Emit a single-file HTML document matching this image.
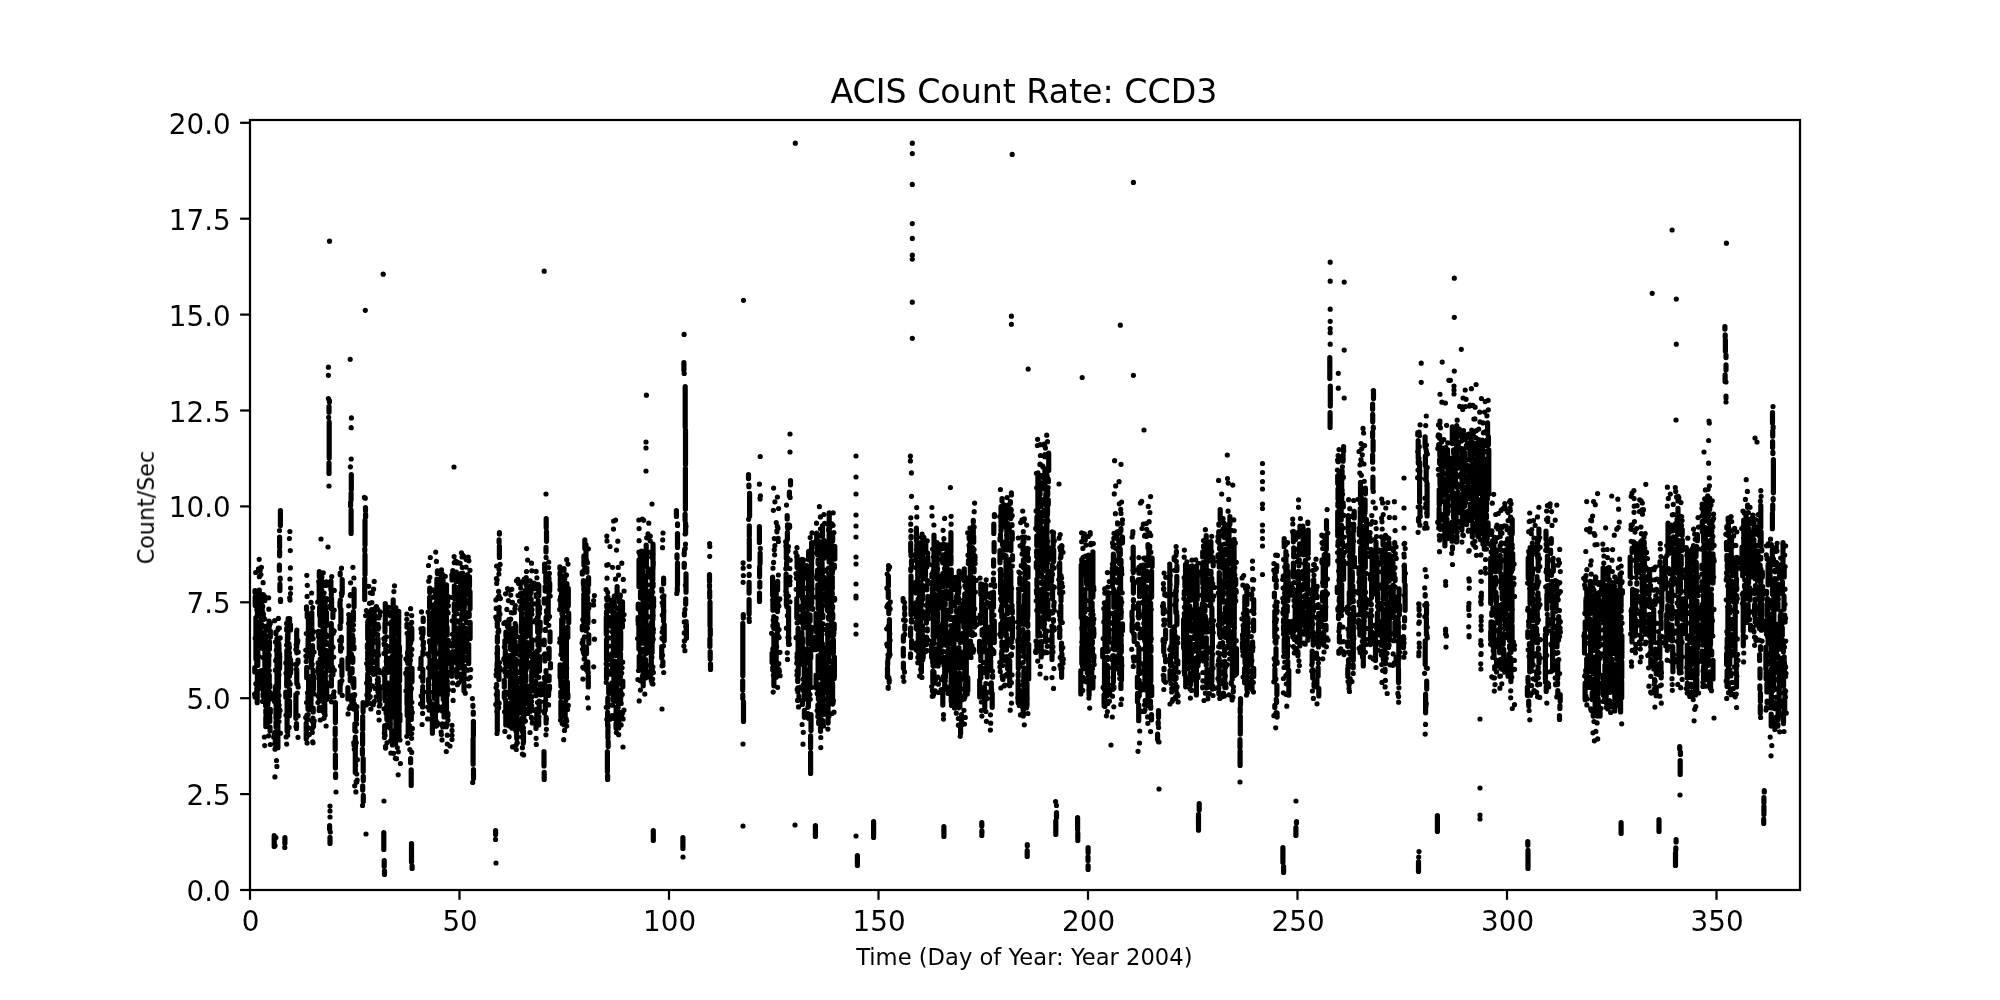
<!DOCTYPE html>
<html><head><meta charset="utf-8"><title>ACIS Count Rate: CCD3</title>
<style>html,body{margin:0;padding:0;background:#fff;width:2000px;height:1000px;overflow:hidden}
svg{display:block} text{font-family:"DejaVu Sans","Liberation Sans",sans-serif;fill:#000} .t{opacity:0.999;will-change:opacity}</style></head>
<body><svg width="2000" height="1000" viewBox="0 0 2000 1000">
<rect width="2000" height="1000" fill="#fff"/>
<path d="M255.0 590.7V592.6M255.2 596.8V605.5M257.4 610.2V614.8M255.9 617.7V658.3M256.7 662.8V664.5M254.8 667.7V672.1M257.4 676.0V690.6M259.3 590.1V611.7M258.3 614.9V616.0M259.2 622.0V631.1M259.1 634.5V642.3M257.8 648.1V665.4M259.4 671.4V674.0M258.8 678.7V680.8M257.2 685.4V702.7M262.2 605.4V610.5M263.3 613.3V619.5M262.2 625.1V627.2M263.6 632.5V635.1M262.2 638.1V648.3M264.9 652.8V668.4M263.2 674.5V682.9M262.6 688.1V689.4M263.1 693.9V696.2M265.7 626.3V627.6M265.3 635.4V641.9M264.9 646.1V670.7M265.5 676.3V681.4M265.3 687.8V700.1M265.6 703.3V705.7M265.8 710.4V713.0M265.8 717.3V726.6M269.1 621.1V627.3M270.3 630.8V637.1M269.4 641.6V649.3M268.7 654.0V666.0M269.2 675.2V681.4M269.7 684.3V686.9M270.5 693.1V696.3M268.0 701.9V703.9M270.3 709.3V712.7M269.8 717.1V721.4M270.0 727.0V730.8M275.9 632.1V633.8M277.0 639.3V683.9M275.4 686.8V692.0M274.6 695.3V697.9M275.9 701.4V704.4M276.0 708.0V718.0M276.0 721.9V727.1M275.2 732.0V738.1M275.2 741.6V743.6M275.8 746.3V747.8M278.9 643.3V650.9M279.6 653.9V668.4M278.5 671.0V688.3M278.1 694.5V698.9M277.7 702.2V706.5M279.0 709.6V716.4M277.6 721.1V722.5M277.9 725.6V747.7M286.7 628.4V630.2M287.5 634.5V645.9M286.9 650.4V670.7M286.7 673.7V685.9M285.8 692.1V697.3M287.1 701.2V731.2M288.1 618.6V621.9M290.5 624.8V629.9M288.0 633.2V638.7M288.9 643.5V649.3M289.1 653.3V656.7M290.6 659.9V673.1M288.0 679.1V684.0M289.5 689.5V696.0M289.5 701.1V714.9M296.7 631.3V647.0M296.8 650.9V652.8M298.0 660.1V662.4M296.8 669.7V683.5M295.9 694.7V718.3M296.5 723.5V728.4M306.5 607.5V609.5M307.2 613.4V617.1M308.4 619.7V636.0M308.1 638.8V647.6M308.6 651.0V656.8M306.7 667.4V677.7M308.6 680.7V690.0M308.0 696.4V709.3M307.0 715.2V719.5M306.2 723.4V738.9M311.8 612.6V639.2M312.5 645.5V653.7M311.4 656.3V660.6M311.4 663.2V667.2M313.1 670.1V673.2M313.4 676.5V689.2M311.0 691.8V704.9M313.2 708.1V712.0M312.9 718.0V719.0M313.5 721.8V726.5M319.3 571.5V576.7M319.2 584.8V602.2M319.6 607.2V614.7M320.3 618.9V625.2M318.5 631.4V636.6M319.2 640.7V648.3M320.5 652.3V654.1M320.1 660.4V663.3M318.3 667.3V668.6M318.7 672.7V674.3M319.4 677.1V700.9M323.1 594.6V614.6M323.0 619.7V633.6M323.0 636.9V654.3M321.7 660.2V662.0M321.5 665.9V687.1M324.2 690.3V699.0M326.7 598.5V600.3M325.1 603.2V608.6M326.5 612.4V625.6M324.8 628.2V631.2M326.2 634.7V636.9M326.8 642.5V644.3M326.6 650.7V667.5M325.3 672.1V679.3M326.7 682.7V699.4M324.8 703.5V713.9M330.9 581.0V589.8M331.3 593.7V595.4M331.6 598.5V609.1M332.9 613.0V617.5M331.3 623.7V664.6M332.6 667.4V669.3M332.9 673.2V674.8M331.4 678.2V686.0M340.2 573.1V574.8M342.2 579.5V593.5M340.0 602.3V606.6M340.9 609.4V622.3M340.2 625.9V628.5M341.3 637.1V641.5M340.6 645.3V651.1M341.9 659.9V675.6M340.1 681.9V692.2M349.2 618.1V619.6M349.2 626.5V654.8M348.0 657.9V668.9M350.0 673.3V674.8M350.2 678.4V680.7M347.9 687.6V699.0M354.1 589.2V606.7M353.4 611.6V620.2M352.0 622.8V627.1M353.2 638.7V642.2M354.0 646.7V648.7M352.8 657.4V662.3M352.1 668.6V672.8M353.8 678.5V687.6M356.4 711.0V719.5M354.9 723.9V730.7M355.3 737.1V772.6M367.7 622.0V638.8M367.4 644.5V647.9M367.7 651.9V656.2M367.8 663.5V667.5M367.7 673.9V700.4M371.2 612.5V623.8M369.8 630.1V635.9M368.7 641.0V643.8M370.3 649.6V672.5M369.5 678.3V690.1M374.2 609.4V633.2M372.0 640.7V648.0M372.9 650.6V655.2M372.1 660.2V663.1M373.6 668.5V674.3M378.0 624.3V629.2M378.0 638.5V647.3M377.8 650.1V653.7M377.1 659.1V672.2M378.2 678.0V679.2M379.3 689.2V700.6M385.3 603.5V620.5M385.0 623.2V631.8M385.0 637.6V640.1M385.8 645.0V652.7M386.6 657.5V664.6M384.8 668.7V699.0M386.9 705.2V719.5M384.7 725.5V734.4M385.6 746.3V748.1M391.7 621.5V651.3M391.1 657.7V672.5M392.0 676.9V684.8M390.6 689.8V706.1M390.2 709.7V727.9M391.8 730.8V741.0M393.2 599.9V607.3M395.6 610.2V625.3M394.3 630.4V632.0M393.4 636.5V674.1M393.6 682.5V695.1M393.6 698.0V703.2M394.4 707.5V717.3M395.9 720.4V736.5M397.7 646.8V671.1M396.1 674.2V708.0M396.1 714.3V731.1M396.0 733.8V740.3M398.7 611.3V642.0M399.4 646.5V652.3M399.6 658.1V681.0M399.2 685.4V710.4M399.9 714.1V721.0M399.0 724.4V738.8M408.3 633.2V648.5M407.8 651.3V663.3M407.1 668.8V690.1M407.0 695.2V704.5M407.2 707.6V715.8M408.2 719.7V733.5M411.8 628.4V639.4M409.7 644.5V664.0M412.0 668.3V681.7M410.0 684.5V686.9M410.5 690.4V701.4M411.3 707.6V719.4M409.4 725.5V731.9M423.2 618.1V621.5M423.0 628.6V634.1M423.4 641.8V643.8M421.0 658.1V666.7M422.8 669.3V681.2M422.6 689.3V707.0M429.7 588.1V592.6M429.6 597.3V607.5M429.4 613.9V616.5M429.5 619.3V634.6M429.5 640.9V642.2M430.6 645.7V651.5M429.1 654.9V656.4M430.0 660.0V675.5M428.6 679.0V698.3M429.6 701.0V702.7M433.1 617.0V627.6M433.0 630.8V639.7M432.8 642.2V645.4M434.5 650.8V688.9M434.1 693.7V698.3M432.4 703.9V733.2M437.4 570.9V573.4M436.9 579.2V636.4M435.2 642.7V645.3M435.1 648.7V655.5M435.6 661.6V680.5M435.2 684.0V685.6M436.6 689.2V693.1M436.9 695.9V704.5M435.4 707.9V718.5M435.7 724.5V726.2M441.1 576.5V597.8M439.6 603.6V610.6M439.4 614.2V615.8M439.1 619.5V626.9M439.0 631.5V638.7M440.7 643.5V668.4M440.6 673.1V676.1M439.3 679.5V689.4M443.8 589.3V595.3M442.0 601.4V604.4M442.7 609.6V651.8M441.8 657.7V659.5M443.2 662.3V676.5M443.2 681.5V699.6M443.4 706.0V708.9M444.0 715.0V716.9M446.5 584.8V602.4M446.2 606.8V611.1M446.4 616.6V627.7M444.6 630.5V639.9M445.1 658.2V682.5M444.4 688.8V692.8M444.5 697.8V706.6M446.1 613.5V623.6M447.1 627.1V635.1M448.3 640.3V645.9M447.7 650.6V660.0M446.0 664.5V672.6M446.6 675.6V679.6M447.2 682.9V695.3M446.5 698.4V709.7M447.9 713.3V715.7M446.3 723.5V726.7M452.8 570.6V572.4M452.0 576.4V580.0M454.4 585.8V598.4M454.3 603.7V611.0M454.2 615.9V638.7M452.7 643.1V645.7M452.8 651.6V657.4M451.7 660.7V676.3M456.3 572.2V581.5M457.4 587.8V597.4M458.5 600.7V608.5M457.9 620.8V622.0M457.9 628.0V640.0M456.8 642.7V646.2M457.0 649.7V661.2M457.0 668.5V677.1M460.7 573.7V585.9M461.5 589.1V598.3M462.2 602.2V611.6M461.8 615.2V619.3M462.5 625.3V627.4M461.2 633.0V637.2M462.1 640.7V663.1M461.5 666.1V668.0M461.6 674.0V680.1M464.3 577.4V607.6M464.7 611.3V618.5M464.6 629.5V638.7M464.6 643.6V651.8M464.6 657.2V660.3M464.1 666.1V679.4M464.0 683.2V690.9M469.5 576.9V585.9M470.0 591.7V608.7M469.2 613.5V616.3M470.1 622.4V638.5M468.7 644.5V663.6M499.0 608.9V619.7M497.3 622.8V626.6M498.7 629.8V631.8M497.4 636.4V641.9M497.4 647.2V660.0M497.1 662.9V667.0M498.9 670.2V679.5M497.3 691.1V731.0M505.9 632.2V636.1M504.9 640.6V647.8M505.3 650.7V659.7M505.9 662.2V664.4M505.0 668.8V672.0M504.3 680.4V687.1M504.3 692.7V697.5M505.8 701.7V725.0M508.9 619.5V627.5M509.0 630.1V632.8M509.1 636.1V641.6M510.5 645.4V649.5M509.5 655.6V666.5M510.0 671.4V675.2M510.3 680.4V697.9M509.3 703.7V726.1M513.1 640.1V667.2M513.9 672.5V678.0M511.8 681.6V683.6M512.1 688.8V716.4M512.3 722.6V726.1M515.8 625.7V633.4M515.1 641.4V644.8M515.5 647.3V653.9M515.3 664.7V676.5M515.9 681.2V684.2M516.2 687.6V706.2M517.2 708.7V715.8M516.7 718.7V738.5M521.5 612.7V632.0M520.7 637.3V647.6M522.0 653.3V654.8M521.2 660.5V667.5M520.7 678.5V682.1M519.7 687.5V699.9M520.8 703.9V706.7M521.8 710.7V712.9M523.4 619.4V630.4M523.7 636.2V648.2M524.4 650.9V658.9M523.0 662.9V693.4M523.2 697.5V714.8M522.3 718.1V728.5M523.5 731.4V741.8M523.4 619.5V645.4M524.1 658.7V671.9M522.0 675.6V678.3M523.0 681.6V694.4M522.5 697.6V703.2M523.8 707.9V722.0M526.2 577.5V584.9M527.0 587.9V599.4M526.9 607.5V622.3M526.2 624.9V637.1M527.5 642.7V653.7M526.4 657.4V663.2M525.4 667.7V672.0M525.9 675.4V680.9M527.1 685.9V690.3M526.9 693.7V702.4M527.7 709.0V713.5M531.1 585.8V592.5M531.0 604.1V608.3M530.2 614.7V635.5M531.7 639.3V648.6M531.7 653.8V656.9M532.3 661.5V667.8M531.7 671.4V690.9M530.6 696.4V700.8M530.0 706.3V711.7M535.5 584.4V588.7M536.2 594.7V596.5M538.0 602.4V611.4M537.7 623.6V632.2M538.0 637.7V645.3M537.1 650.8V653.8M538.0 660.2V670.7M536.5 673.6V676.2M535.8 681.3V683.6M536.1 689.3V695.7M536.8 709.1V722.8M536.0 726.4V728.5M538.8 585.7V595.8M538.2 600.6V617.8M540.1 622.1V626.6M539.1 632.8V650.1M539.5 656.6V670.8M540.7 683.9V694.8M539.2 701.1V711.6M538.7 716.0V725.0M544.7 565.4V572.1M545.8 575.9V582.3M545.2 589.1V591.1M544.2 598.9V603.1M546.5 610.6V612.1M546.1 617.3V622.5M545.4 629.3V630.4M544.2 640.2V644.7M544.9 653.9V661.0M546.0 670.6V672.3M544.6 677.0V678.7M544.9 685.6V695.2M545.3 704.7V710.2M546.1 717.4V722.9M549.0 578.0V579.5M549.7 583.4V590.7M548.2 597.9V618.7M550.0 631.8V641.8M549.1 648.3V658.6M550.5 663.6V667.8M549.1 676.0V680.5M549.5 686.2V688.7M548.6 691.3V695.4M559.9 566.9V568.6M560.0 572.8V575.1M560.3 578.3V586.3M561.4 592.6V597.1M560.8 600.9V608.1M562.0 611.6V614.0M561.7 619.3V653.4M560.1 664.8V677.6M560.9 682.2V686.2M560.8 691.9V697.0M560.9 701.7V716.5M564.0 568.7V570.3M564.7 575.7V578.9M564.1 584.1V598.2M563.8 602.5V611.7M563.2 616.4V622.7M563.1 626.6V634.9M564.3 648.4V658.2M564.1 664.3V669.7M562.7 672.7V675.9M564.5 681.9V697.0M565.2 703.1V715.0M566.9 583.7V585.2M568.3 588.4V605.7M568.7 613.0V622.8M567.8 627.2V636.1M566.4 639.0V678.3M567.4 682.1V691.5M567.9 694.1V697.8M584.8 539.9V548.4M583.9 555.9V565.2M582.3 572.0V574.0M583.4 580.5V584.8M583.8 588.2V590.1M583.8 595.0V622.0M582.3 626.2V629.8M583.0 639.8V641.2M583.4 645.3V646.5M586.0 544.5V560.0M586.9 570.8V572.2M588.6 577.5V584.7M587.9 588.8V592.6M587.5 597.2V600.6M588.8 604.2V607.9M587.8 611.0V613.0M587.9 617.1V623.3M586.6 626.7V628.3M588.8 634.9V643.2M586.5 647.7V653.7M587.8 661.8V672.3M588.3 675.9V686.9M606.7 605.1V607.0M606.5 611.5V614.1M606.3 617.4V634.5M606.5 639.4V659.7M606.5 668.4V678.4M608.7 684.7V693.5M607.8 698.0V707.2M607.6 712.4V721.4M608.0 724.9V728.0M613.1 602.0V629.5M613.4 635.5V650.5M611.6 653.9V657.0M612.5 661.1V669.4M613.9 674.5V679.5M612.5 686.1V688.8M613.2 692.5V700.2M614.3 596.0V612.3M615.8 615.0V621.5M614.4 625.6V646.2M615.8 650.4V655.4M614.9 661.1V668.9M616.4 673.5V685.1M615.5 687.6V694.8M615.2 698.0V700.8M616.1 707.3V712.4M616.1 718.3V719.8M616.0 723.6V728.0M617.1 586.6V594.8M619.6 598.6V602.5M619.5 607.3V609.4M619.5 612.9V624.9M617.8 627.6V628.9M619.3 632.8V656.9M619.0 663.5V670.3M619.1 675.6V680.0M616.9 685.7V697.7M617.7 700.3V702.5M618.8 712.0V728.0M622.5 601.8V610.6M620.4 616.2V618.5M622.4 624.0V626.9M620.7 631.7V649.5M620.5 653.5V676.4M622.8 681.0V686.7M620.6 690.0V700.9M639.0 559.9V586.7M640.5 591.6V597.9M638.2 604.1V608.8M640.6 611.5V614.1M638.1 617.3V621.1M638.9 625.1V648.9M639.2 656.3V667.0M642.8 555.5V558.0M643.3 560.5V566.7M642.6 570.6V583.6M642.7 588.7V593.9M643.0 598.2V613.1M643.2 618.3V643.2M643.6 649.1V652.2M643.7 657.3V659.3M642.8 664.3V668.2M643.2 673.6V685.8M646.2 545.1V550.5M646.4 553.4V566.1M648.0 568.7V573.4M645.6 578.3V584.3M645.9 589.6V598.4M646.0 603.4V620.0M648.3 626.0V634.9M646.9 638.4V649.1M645.7 652.2V653.7M645.6 659.5V671.0M653.0 544.1V568.8M652.2 572.4V587.8M650.9 590.5V597.0M651.9 602.2V605.5M652.9 610.1V619.3M651.7 622.2V635.2M651.3 638.1V667.1M650.7 672.0V674.1M652.8 568.5V580.4M653.1 583.3V586.3M651.6 592.5V594.4M653.6 598.1V606.8M652.5 609.9V642.1M652.1 644.8V652.5M651.2 656.6V674.3M663.6 578.0V583.7M663.6 596.2V619.8M664.2 624.6V640.7M661.7 646.5V658.0M662.9 661.6V665.4M684.2 552.7V554.7M684.2 563.4V567.3M686.0 573.9V592.2M685.7 598.8V604.3M684.5 613.0V615.3M686.4 624.7V638.2M772.6 577.1V595.2M772.9 599.7V610.2M773.8 616.5V628.3M773.9 637.5V646.8M772.1 653.0V662.4M772.8 667.3V670.2M773.9 674.8V685.8M777.6 581.4V589.9M776.2 593.4V602.2M777.5 608.2V611.6M777.3 624.3V633.6M776.2 640.2V677.2M787.2 515.5V519.0M787.5 525.7V527.3M787.4 532.5V539.5M786.3 542.4V558.6M786.6 562.7V567.8M786.1 574.2V591.9M786.4 598.4V604.9M788.6 607.6V644.4M797.1 555.8V567.6M798.4 571.8V574.7M798.6 577.3V595.6M796.8 598.5V617.8M798.1 628.4V660.3M798.3 667.6V674.0M797.7 679.2V681.5M797.9 687.8V692.1M802.7 568.2V593.5M803.2 597.3V609.0M804.0 615.2V620.7M803.4 624.3V627.9M801.9 632.6V635.6M802.7 638.3V643.0M802.7 647.2V653.7M803.1 657.0V659.8M804.3 666.0V696.7M802.4 700.3V704.4M804.4 710.3V717.3M808.6 551.4V559.8M806.8 565.7V568.1M808.9 573.5V575.2M808.6 579.3V609.1M806.9 612.8V614.5M808.8 617.3V623.4M808.2 629.8V644.0M806.9 648.8V658.0M808.6 669.6V673.4M808.0 677.2V679.6M808.4 684.4V706.7M811.6 542.7V574.8M811.7 579.7V603.7M812.6 608.3V609.3M810.1 614.9V621.1M811.0 627.1V640.9M811.9 643.9V650.3M810.8 654.9V658.0M810.0 661.4V685.5M816.7 533.0V544.8M817.3 549.1V554.5M818.1 559.7V563.8M817.5 570.1V579.0M817.8 584.9V598.9M818.1 601.5V608.6M816.0 613.6V627.5M816.3 630.4V631.8M816.0 636.9V649.7M818.1 655.8V670.4M816.1 675.0V683.9M818.4 688.0V699.3M817.9 704.8V706.9M818.2 713.0V715.1M821.2 534.7V535.9M819.3 541.7V543.9M820.7 548.0V558.8M819.5 563.3V569.2M819.1 572.0V577.9M820.1 580.9V585.4M820.7 591.7V599.2M819.9 602.0V613.8M819.6 617.3V633.1M821.2 636.4V651.9M820.3 654.7V668.9M820.7 674.7V678.0M820.8 684.1V686.7M819.5 690.7V708.2M820.5 713.8V716.4M818.7 721.2V723.5M820.5 727.8V731.3M822.5 525.7V536.2M823.9 540.4V558.2M822.1 562.5V575.4M823.9 579.4V589.1M822.9 594.7V596.8M821.7 605.9V610.7M822.9 614.9V617.5M821.5 623.2V628.3M821.4 633.0V644.8M823.1 647.9V655.7M822.4 658.3V660.7M822.8 664.8V702.0M823.3 705.2V714.6M822.8 720.5V724.0M828.6 528.9V530.5M829.1 534.9V561.9M828.9 574.3V575.6M826.7 580.7V590.5M827.0 593.1V598.7M827.5 603.4V610.6M828.6 616.5V619.1M827.8 625.2V647.5M826.7 651.2V659.9M826.9 663.3V667.4M827.8 672.7V693.1M828.1 697.2V723.1M829.2 512.8V533.2M831.0 538.2V543.9M831.2 547.0V560.2M831.5 563.1V578.9M831.5 588.8V605.8M831.9 608.4V616.8M831.7 620.9V636.1M829.2 641.5V655.4M829.2 659.4V661.6M831.4 667.0V676.3M831.0 679.6V683.4M830.3 688.2V689.7M832.6 533.0V540.2M834.8 546.3V559.1M834.4 565.2V567.8M832.3 577.0V588.8M832.2 592.5V594.7M834.6 598.3V600.1M832.6 606.3V607.8M832.8 613.9V618.3M834.2 624.0V629.4M833.4 639.7V653.0M834.4 657.2V677.3M832.6 683.0V704.1M888.4 576.1V586.1M888.3 590.4V597.4M888.8 603.5V613.6M889.4 619.6V655.9M887.7 661.3V664.7M887.5 667.9V677.2M889.2 679.7V682.2M888.2 687.0V688.3M904.6 607.0V609.1M904.7 613.2V614.9M904.8 625.5V629.2M903.4 635.9V641.1M903.3 648.3V655.9M903.4 663.2V668.2M916.4 528.1V540.7M916.8 544.7V548.5M915.9 553.8V557.5M917.5 563.0V565.9M917.7 570.9V579.3M916.1 582.1V592.9M916.1 602.7V616.1M916.2 622.2V628.5M918.3 634.1V640.1M916.5 642.9V646.4M920.3 548.0V555.2M921.0 560.4V566.8M919.2 569.6V576.5M919.5 582.8V610.0M919.4 616.4V635.8M918.9 640.8V658.0M922.7 541.3V559.4M923.4 565.8V578.9M922.5 585.2V599.4M920.9 605.2V621.0M922.4 625.5V631.1M923.2 636.4V657.4M921.4 663.2V671.9M925.8 541.1V552.5M927.9 557.0V563.9M925.5 569.5V575.4M927.7 580.5V584.0M926.8 587.9V589.8M927.9 596.3V616.9M926.4 622.1V623.1M927.3 628.9V630.8M926.5 637.0V644.6M934.0 535.2V561.5M933.8 565.4V579.2M931.7 582.4V583.7M932.5 587.9V612.0M933.3 615.0V635.9M932.4 640.9V642.2M931.6 644.8V657.2M932.7 659.8V662.6M932.8 671.1V682.3M934.5 566.4V568.1M934.1 571.0V581.3M936.4 585.2V589.2M935.3 594.7V607.9M935.1 613.7V625.2M934.4 629.2V634.0M933.9 639.6V643.5M934.9 648.9V655.1M934.3 660.4V666.0M934.0 672.2V677.7M935.0 680.2V683.2M939.2 544.7V550.7M937.1 557.0V573.1M939.0 578.7V585.7M939.3 589.2V590.3M938.5 594.6V608.2M937.4 612.3V621.7M939.5 626.7V639.5M939.0 643.5V663.0M942.7 545.3V548.6M942.7 554.9V562.8M942.9 573.4V587.0M943.2 592.3V625.6M943.8 628.6V636.5M944.2 641.6V644.9M943.5 657.4V661.9M944.7 665.7V689.3M942.8 692.9V705.1M947.1 549.2V561.0M947.1 563.6V585.9M946.4 591.1V594.1M945.2 602.6V604.9M947.1 610.2V617.8M945.8 621.9V632.2M947.0 635.2V640.2M947.8 650.7V669.4M945.4 672.1V677.7M956.4 581.7V590.2M956.5 596.6V599.5M954.8 603.3V605.4M956.6 609.5V612.2M954.7 617.4V623.6M955.0 626.9V631.3M955.2 634.9V637.8M954.0 642.0V664.6M954.8 669.3V696.3M959.1 571.0V579.9M958.6 582.6V593.2M958.4 597.5V602.5M959.8 607.6V619.7M958.2 624.5V639.4M958.1 649.0V654.3M959.1 658.2V668.1M959.9 675.8V707.1M964.3 568.9V580.8M965.6 585.4V587.8M964.8 593.8V600.6M963.8 604.9V627.2M965.7 629.9V631.9M965.4 640.6V652.2M964.8 657.5V678.9M965.6 683.6V693.2M964.2 697.6V698.9M968.4 586.7V611.9M968.7 614.4V622.2M967.1 626.3V629.3M966.3 632.9V673.8M967.8 677.9V690.8M969.2 534.0V538.7M969.6 544.4V561.6M970.3 565.4V576.0M970.5 581.0V586.6M970.8 592.1V593.3M968.4 599.1V603.9M970.5 609.1V622.2M969.9 626.9V629.1M971.1 633.3V634.8M970.5 641.1V655.7M973.3 520.3V522.1M973.3 525.8V533.8M973.7 536.4V542.2M972.6 547.5V549.7M974.0 559.8V563.7M974.1 568.5V571.8M973.6 577.8V616.8M974.5 620.6V627.1M972.4 632.4V635.4M980.8 583.8V594.4M981.7 597.9V611.5M980.2 614.9V623.2M982.1 629.9V635.0M979.5 641.4V652.1M980.8 654.6V660.6M980.6 666.6V677.2M979.7 680.1V697.0M985.5 584.8V592.3M984.9 596.5V598.2M985.5 609.3V625.4M985.7 632.3V642.8M984.8 645.6V649.6M987.2 655.8V677.0M984.5 687.2V700.0M984.8 703.1V707.3M991.8 602.8V622.1M990.1 626.9V629.6M990.1 633.2V637.5M990.4 644.2V650.2M990.7 653.4V657.3M990.7 660.3V670.1M992.6 675.7V677.2M991.3 682.9V688.1M992.2 693.3V707.3M1002.0 498.5V501.0M1001.0 506.7V531.1M1000.5 534.7V538.5M1002.5 541.9V544.0M1000.0 550.5V562.7M1000.6 569.4V593.2M1001.5 597.4V601.1M1001.8 605.7V617.1M1000.9 623.9V636.7M1001.9 641.9V646.5M1001.8 651.1V660.8M1005.8 509.6V521.1M1006.9 527.9V549.9M1006.0 555.8V597.0M1005.9 601.4V602.5M1007.6 606.5V613.5M1006.1 619.5V630.4M1006.3 633.8V636.3M1006.5 641.2V650.1M1006.3 656.6V661.3M1007.6 665.3V668.8M1011.4 492.9V495.0M1010.4 501.7V503.3M1010.7 509.0V518.6M1012.0 524.6V525.6M1012.2 532.4V539.4M1010.9 543.2V550.5M1012.5 555.5V559.8M1010.8 571.1V583.9M1011.1 586.8V601.4M1012.0 605.1V606.5M1012.3 609.9V612.9M1012.5 618.0V637.8M1011.6 640.3V642.1M1011.4 654.2V655.4M1009.7 660.8V685.7M1019.8 577.8V583.8M1018.9 591.9V623.2M1018.3 627.1V628.4M1018.9 631.2V639.5M1018.3 644.9V668.8M1018.2 673.0V676.5M1018.1 680.3V703.0M1023.0 540.8V549.7M1024.6 553.9V555.1M1023.4 559.8V567.5M1025.1 570.9V590.4M1024.5 595.0V624.5M1022.9 629.5V632.2M1023.4 638.7V651.9M1024.2 655.4V656.6M1023.8 671.4V679.1M1024.2 683.9V687.8M1023.2 693.6V716.0M1027.4 548.4V554.4M1028.3 557.8V560.6M1028.0 567.4V577.2M1027.8 583.7V616.3M1027.8 623.1V626.3M1027.9 631.8V639.6M1028.7 644.3V678.9M1027.0 683.7V705.8M1037.9 472.9V514.3M1036.9 517.0V529.7M1036.8 535.9V545.4M1036.7 550.6V556.8M1036.3 562.6V567.2M1037.8 570.7V576.1M1036.9 579.0V585.5M1037.2 588.6V593.4M1037.9 597.5V636.1M1041.7 475.5V477.2M1041.1 482.8V488.9M1040.9 499.1V506.5M1041.1 512.7V517.4M1040.3 522.0V525.2M1041.4 528.2V540.9M1041.0 543.8V566.7M1041.5 571.8V576.5M1041.9 581.9V583.6M1041.3 589.5V607.6M1042.0 617.6V626.8M1041.2 641.6V657.0M1044.9 468.7V489.2M1045.8 494.1V504.7M1046.2 522.9V527.8M1044.1 531.1V563.8M1043.9 569.1V571.1M1046.3 577.1V580.4M1043.9 583.5V586.1M1044.4 589.9V595.7M1044.7 598.5V609.6M1044.0 614.9V629.1M1045.6 632.3V638.6M1048.7 453.1V470.4M1047.0 475.0V476.1M1048.4 480.1V481.7M1047.7 491.0V495.0M1048.3 499.9V504.5M1047.5 507.2V514.6M1046.9 519.5V534.9M1047.1 540.9V544.1M1048.5 547.7V560.3M1046.7 565.8V568.6M1047.9 574.4V588.8M1047.1 594.3V595.4M1047.8 599.6V613.4M1048.6 616.1V619.1M1053.2 534.9V545.8M1053.7 549.8V561.6M1052.4 567.4V569.0M1051.6 572.3V581.2M1052.6 586.2V598.4M1053.8 604.8V606.3M1052.0 611.5V613.1M1053.4 619.5V621.3M1052.2 626.2V632.0M1052.0 635.5V659.5M1061.6 545.6V551.3M1060.9 554.7V557.3M1059.7 563.2V589.4M1061.0 595.1V601.0M1060.8 605.3V622.8M1059.5 626.8V628.6M1059.7 631.9V637.5M1061.5 643.2V649.9M1061.9 653.8V661.0M1061.6 667.6V677.3M1081.8 559.4V561.1M1081.2 565.0V617.6M1082.3 620.2V644.0M1081.8 646.8V663.5M1080.8 670.7V694.0M1085.8 562.9V565.9M1085.2 572.1V574.8M1086.6 577.4V584.0M1084.9 590.2V612.1M1085.6 617.9V619.2M1084.5 621.8V632.9M1086.9 636.1V653.4M1085.5 657.3V659.4M1086.3 664.6V665.8M1089.4 566.9V584.0M1090.8 589.3V610.6M1089.8 619.1V653.0M1088.5 655.9V662.7M1088.5 667.3V678.6M1089.1 681.3V694.9M1092.9 551.9V596.9M1092.1 603.0V610.6M1093.2 621.0V623.8M1093.7 628.6V636.6M1091.9 640.0V643.9M1092.4 650.2V655.6M1093.7 660.7V662.1M1091.8 666.1V673.0M1092.9 678.0V688.0M1104.9 609.5V645.3M1102.7 649.4V656.8M1104.5 660.2V689.5M1104.1 694.8V705.8M1108.2 592.5V627.4M1109.0 632.2V636.3M1108.4 640.5V642.3M1107.2 646.8V651.6M1107.3 657.3V659.6M1107.4 665.7V695.6M1113.4 554.0V565.2M1112.4 567.8V586.5M1113.8 589.3V607.2M1114.6 612.5V649.7M1113.4 655.5V682.1M1113.9 686.6V687.9M1117.2 531.9V535.4M1118.8 541.5V543.8M1119.3 546.3V550.0M1119.1 552.5V559.3M1119.4 562.5V563.5M1119.5 569.2V575.9M1117.4 579.8V582.6M1119.4 588.3V590.0M1118.1 593.5V628.0M1119.2 632.3V653.9M1118.5 657.4V662.7M1120.9 528.6V531.0M1122.5 537.2V542.7M1120.3 549.1V554.8M1121.0 560.1V564.1M1121.5 569.2V571.5M1120.6 575.4V592.9M1120.9 598.7V605.6M1121.0 609.3V617.6M1122.5 623.9V630.8M1121.1 638.9V641.5M1121.3 644.6V652.1M1121.5 658.1V680.3M1120.9 683.9V688.5M1133.2 547.1V569.2M1133.4 583.8V593.1M1133.4 599.5V601.1M1133.5 605.5V608.8M1132.0 611.8V616.5M1132.3 619.1V620.4M1132.1 623.2V631.0M1134.2 634.0V641.5M1138.9 567.4V573.2M1138.5 579.6V583.3M1139.5 585.9V596.5M1138.6 603.0V613.6M1137.6 624.2V628.6M1140.0 633.9V637.8M1137.3 643.6V644.8M1138.9 647.6V672.3M1137.4 677.2V687.5M1137.5 693.4V701.7M1138.7 704.8V720.7M1143.2 566.2V567.6M1143.7 573.4V587.4M1144.4 595.8V600.9M1144.6 606.1V640.8M1145.5 646.8V666.1M1145.1 668.7V670.2M1144.9 672.9V689.8M1148.0 544.6V547.7M1148.8 550.7V558.5M1147.6 564.1V565.6M1146.8 571.0V573.3M1146.9 578.6V580.6M1146.3 586.7V598.3M1148.9 602.4V609.2M1147.8 613.2V627.6M1147.0 632.8V645.7M1147.2 649.6V656.8M1147.4 661.9V665.7M1147.9 669.7V674.4M1148.0 679.8V681.9M1148.0 685.5V705.7M1149.7 546.0V547.4M1152.1 558.1V566.6M1151.6 571.0V597.0M1150.6 603.0V641.6M1151.0 646.1V651.3M1150.8 656.4V681.4M1151.7 686.3V695.4M1150.5 701.0V702.8M1150.7 705.6V708.2M1151.5 714.7V719.8M1164.8 593.5V594.6M1163.3 603.5V613.6M1165.6 630.1V638.9M1163.7 644.2V651.8M1165.6 658.8V661.7M1164.0 668.4V669.7M1163.9 675.5V680.4M1169.8 566.0V625.4M1172.0 630.6V651.7M1170.6 654.8V665.4M1170.0 670.5V680.1M1176.4 551.4V552.7M1174.2 557.4V559.7M1176.9 565.9V570.5M1176.8 576.4V584.2M1175.8 590.4V612.6M1176.9 615.3V624.6M1174.6 630.8V632.3M1174.9 635.1V639.3M1176.2 644.2V656.4M1176.7 659.3V662.5M1174.5 667.7V672.5M1185.5 564.6V577.2M1184.9 581.7V586.4M1184.3 591.4V594.6M1185.7 599.9V609.8M1184.6 615.4V616.9M1183.6 619.7V647.9M1184.5 651.5V674.3M1185.7 677.3V686.8M1188.5 566.6V586.6M1188.2 589.9V593.6M1189.2 597.1V598.2M1187.7 601.3V603.2M1187.2 608.9V632.0M1186.9 635.9V662.8M1191.8 571.1V575.1M1192.1 578.3V584.6M1190.3 588.0V590.4M1191.3 595.8V600.1M1189.8 606.0V620.6M1192.2 623.5V631.2M1190.1 637.3V642.5M1191.3 646.2V661.4M1189.9 664.5V667.5M1190.1 673.7V683.4M1196.6 566.2V574.2M1196.2 576.8V582.2M1194.4 585.6V588.1M1196.5 591.0V596.3M1195.6 602.0V621.3M1195.6 625.1V632.5M1194.4 636.0V638.4M1193.9 644.6V651.3M1196.4 657.5V694.9M1197.2 574.9V599.4M1196.3 603.6V605.0M1198.2 608.8V645.0M1198.5 648.4V662.4M1202.7 551.8V557.0M1202.7 562.6V583.4M1203.4 589.2V600.3M1202.3 603.9V607.0M1201.8 610.9V647.1M1203.5 652.9V661.0M1206.2 535.7V575.3M1206.6 578.2V599.9M1205.0 605.4V611.0M1205.3 616.0V619.4M1205.8 624.6V632.1M1206.3 637.8V657.2M1206.3 663.0V665.2M1206.9 669.7V687.8M1210.9 541.7V553.4M1213.2 557.7V565.8M1211.0 571.3V574.2M1211.7 578.0V588.1M1210.8 591.8V604.8M1211.9 607.9V615.2M1211.5 618.6V621.2M1212.4 624.2V648.4M1211.8 651.7V653.0M1211.9 657.1V681.8M1212.4 685.8V689.1M1220.2 509.7V519.2M1218.9 523.8V525.1M1218.8 531.6V542.4M1220.9 546.4V551.0M1218.5 554.7V557.5M1219.2 561.6V567.1M1219.3 572.5V588.7M1219.5 593.0V634.3M1220.1 643.5V647.0M1219.7 653.5V654.5M1219.1 658.6V681.7M1218.7 686.5V688.8M1218.8 692.0V693.8M1224.7 524.1V527.1M1224.5 530.1V537.6M1223.0 550.3V565.7M1224.9 568.7V577.8M1223.0 582.6V595.5M1223.6 600.3V602.1M1225.3 607.7V609.7M1224.1 613.7V622.0M1224.7 628.4V637.1M1222.6 642.7V644.7M1224.5 649.5V655.5M1224.8 661.3V687.4M1229.9 516.5V524.2M1229.0 527.2V557.8M1227.5 561.8V565.3M1229.6 569.8V573.2M1229.9 577.1V578.7M1227.4 582.1V587.5M1228.8 590.3V610.8M1228.4 615.7V641.6M1227.3 646.3V647.9M1232.9 547.4V569.5M1231.8 575.6V588.3M1231.3 593.6V612.3M1232.4 615.7V625.6M1233.1 631.4V634.9M1231.6 638.1V650.0M1232.4 654.8V656.4M1232.3 658.9V678.9M1231.3 682.4V684.0M1233.3 690.7V691.7M1232.1 696.8V699.9M1234.1 539.4V559.6M1234.1 568.4V575.5M1235.7 579.2V584.5M1234.3 588.6V625.5M1234.1 629.8V645.4M1236.5 648.6V673.5M1244.8 596.4V624.8M1243.5 628.7V631.2M1242.6 634.6V636.2M1242.5 642.7V648.3M1245.0 657.1V662.9M1244.6 668.3V682.7M1246.9 585.9V604.6M1246.9 610.3V613.5M1248.0 617.9V621.9M1247.5 627.4V635.5M1247.3 639.8V657.5M1247.0 661.7V689.7M1251.7 593.8V595.0M1253.7 599.6V610.2M1253.6 620.1V630.8M1252.6 641.8V650.8M1251.2 654.2V664.6M1253.7 668.3V676.4M1252.0 681.3V688.1M1276.8 565.4V567.6M1276.4 570.7V571.8M1274.5 577.4V579.8M1276.2 584.8V587.4M1274.4 593.1V597.0M1276.2 601.9V604.8M1274.8 611.3V637.3M1275.9 640.4V643.2M1276.0 648.6V657.0M1277.1 661.8V663.3M1274.9 669.2V681.2M1276.9 685.3V694.7M1276.6 701.0V702.4M1274.8 705.3V707.6M1277.1 713.2V717.1M1284.2 538.5V546.7M1285.9 551.5V583.7M1284.9 586.5V607.9M1284.2 613.4V614.8M1283.6 619.6V622.2M1283.5 626.0V629.4M1284.2 639.4V651.8M1287.1 565.4V567.8M1288.1 571.3V585.9M1287.9 589.2V600.7M1287.3 606.0V611.5M1286.2 615.2V616.2M1287.8 621.1V632.9M1287.4 637.5V657.1M1287.8 661.3V666.0M1288.8 670.1V686.7M1288.8 689.4V695.2M1293.4 531.3V541.8M1293.7 547.9V556.8M1293.4 563.0V577.0M1292.4 587.6V590.8M1295.2 597.8V621.6M1292.8 627.4V637.0M1299.9 526.2V529.3M1298.0 533.7V537.0M1299.5 543.9V553.8M1298.9 560.2V565.7M1298.4 571.3V593.8M1299.8 599.8V646.0M1297.9 651.5V655.7M1303.1 527.6V554.8M1305.3 560.3V568.4M1303.2 571.2V578.7M1303.3 584.3V589.3M1305.0 601.0V605.7M1304.8 612.3V626.2M1307.8 522.1V523.5M1308.2 530.1V553.7M1307.6 564.5V585.9M1307.9 589.5V594.1M1308.5 599.0V609.4M1308.0 619.1V637.7M1313.7 579.5V586.0M1312.6 588.9V608.9M1311.7 613.3V617.3M1312.1 621.4V628.0M1313.2 632.2V645.1M1312.2 651.0V663.0M1312.7 669.5V678.1M1314.0 683.4V685.9M1318.3 604.5V607.3M1318.7 613.4V617.2M1318.7 620.0V621.0M1318.5 623.7V646.9M1316.5 653.2V658.3M1318.1 667.6V676.3M1316.9 680.1V685.5M1318.8 688.4V695.9M1324.2 554.8V559.0M1323.2 562.6V578.7M1322.6 592.4V601.1M1322.1 606.8V610.0M1321.6 614.0V620.2M1323.7 632.2V645.1M1326.5 520.5V529.0M1326.3 534.8V549.4M1327.8 555.2V564.3M1325.4 567.8V586.2M1325.5 591.3V619.3M1326.0 625.4V629.9M1337.7 475.8V483.6M1338.0 488.8V499.1M1337.9 503.1V506.0M1337.7 511.9V535.7M1338.1 541.3V543.9M1339.3 549.9V574.7M1339.4 577.3V584.0M1337.3 587.1V592.4M1339.4 597.5V601.9M1339.0 606.4V611.3M1338.5 615.2V618.6M1339.7 624.3V627.9M1339.4 635.7V639.6M1343.6 446.5V451.6M1343.1 455.2V461.2M1342.1 470.5V479.4M1341.7 482.5V500.3M1343.3 505.0V507.0M1341.2 510.3V519.9M1341.5 525.3V539.4M1342.6 542.4V545.1M1341.4 550.4V552.2M1343.6 560.9V579.3M1341.7 584.4V605.5M1348.3 515.5V532.4M1349.5 536.1V543.1M1347.6 547.9V551.0M1350.1 554.5V589.0M1349.2 592.4V595.4M1349.3 597.9V603.4M1347.6 606.8V612.6M1349.7 618.4V625.4M1349.0 629.3V636.7M1347.7 641.8V646.3M1350.0 652.2V654.2M1348.6 659.5V662.4M1347.8 668.9V676.6M1349.1 681.8V684.9M1354.2 511.4V518.0M1353.7 524.2V530.7M1352.9 533.5V552.8M1354.4 557.3V566.7M1352.3 571.8V581.3M1352.8 585.6V594.9M1353.3 600.2V601.5M1353.6 607.3V622.6M1353.3 626.0V660.2M1353.2 665.1V667.8M1360.5 482.3V503.4M1360.3 508.7V525.5M1359.3 531.6V534.7M1360.7 540.9V542.5M1360.6 547.6V562.5M1359.0 567.5V574.2M1359.7 578.0V593.9M1360.7 597.3V614.6M1358.7 620.3V624.1M1359.9 628.3V635.1M1361.7 498.0V510.9M1362.0 513.9V520.6M1361.7 526.0V528.8M1361.3 534.7V541.2M1361.8 545.2V551.9M1363.2 556.8V568.6M1363.5 571.9V616.7M1361.7 623.2V624.8M1362.7 631.2V632.6M1363.3 636.2V665.9M1365.4 488.2V493.8M1365.1 499.8V509.4M1364.4 512.6V515.7M1366.4 519.3V547.9M1365.3 553.6V567.6M1364.5 577.9V595.3M1365.8 598.5V603.4M1363.9 607.4V634.0M1370.9 549.4V557.0M1372.1 559.6V571.2M1370.4 574.4V579.2M1371.6 582.5V597.4M1370.0 600.2V604.2M1370.4 613.3V644.6M1376.0 542.2V557.2M1377.0 561.1V589.0M1377.6 592.5V601.2M1377.7 605.6V606.7M1377.4 612.9V634.5M1375.5 638.9V660.4M1383.0 540.2V544.9M1381.9 550.3V562.6M1383.3 567.8V597.0M1381.2 603.3V607.6M1383.1 611.1V627.7M1382.3 633.1V639.2M1383.1 642.4V645.7M1381.4 651.1V654.9M1383.2 657.7V659.3M1385.2 544.2V553.3M1386.4 556.2V564.1M1385.9 569.4V588.6M1386.1 591.1V599.0M1387.1 602.1V618.7M1384.9 624.1V658.8M1385.5 662.1V663.5M1385.0 669.0V671.8M1389.1 542.5V548.4M1389.2 554.7V581.1M1391.3 586.8V591.4M1391.4 595.6V612.6M1389.3 617.0V640.3M1394.7 542.5V544.0M1393.3 548.4V550.4M1392.9 556.2V568.4M1394.2 573.7V575.0M1395.1 578.0V580.4M1393.3 585.0V592.2M1394.0 596.1V604.7M1393.1 608.4V617.5M1394.9 622.0V636.0M1399.1 588.9V594.8M1398.7 597.5V600.0M1399.5 605.2V611.3M1397.6 616.9V618.6M1398.3 621.8V635.6M1398.8 641.7V655.8M1398.3 660.7V665.8M1398.5 669.4V682.5M1404.4 565.2V581.6M1405.1 584.8V610.3M1404.6 618.1V620.9M1404.0 626.3V627.7M1403.5 636.5V647.6M1419.1 432.2V434.9M1418.2 440.6V458.2M1419.6 462.4V502.2M1420.0 507.2V513.8M1418.5 518.4V520.9M1425.1 436.9V446.6M1426.4 451.0V452.0M1425.4 455.9V465.6M1426.2 468.3V477.4M1427.1 483.5V516.0M1425.2 594.5V596.1M1426.5 603.4V614.3M1426.4 617.9V628.0M1426.4 631.8V634.6M1425.2 640.9V664.4M1426.7 681.0V689.1M1425.6 694.2V712.8M1439.6 435.3V438.2M1438.7 444.6V446.5M1439.8 452.3V455.7M1439.6 459.7V463.3M1440.0 474.7V485.1M1439.2 489.5V504.8M1439.1 508.3V524.8M1440.4 527.6V529.3M1444.0 452.4V455.0M1444.1 458.1V466.9M1444.5 480.0V494.9M1445.4 501.0V514.2M1444.1 517.3V520.2M1444.9 528.2V545.8M1447.6 449.5V455.3M1448.0 458.4V469.8M1447.9 474.3V480.8M1446.4 487.8V493.4M1447.9 496.2V508.3M1447.6 522.8V538.4M1452.3 426.9V443.6M1453.6 449.8V453.0M1452.2 457.9V471.9M1452.0 475.9V495.0M1453.5 500.0V517.4M1452.0 522.1V541.2M1452.5 546.8V549.1M1456.7 425.6V434.3M1456.3 437.0V441.2M1456.7 444.3V464.4M1455.4 472.8V480.8M1457.2 483.9V487.4M1458.0 492.2V512.8M1456.1 516.8V526.4M1456.9 536.3V539.5M1462.0 448.5V471.0M1460.5 474.3V475.6M1462.1 480.0V488.6M1460.5 499.0V500.4M1462.8 503.5V506.9M1462.3 509.9V519.4M1461.9 525.1V529.9M1465.0 438.3V439.5M1466.4 445.4V447.5M1464.5 452.2V471.4M1465.9 479.4V481.7M1464.9 487.5V492.5M1465.7 497.8V502.2M1464.5 505.1V506.3M1465.3 512.6V514.6M1464.5 518.7V523.1M1471.0 437.1V440.1M1469.9 445.3V460.1M1468.5 465.7V470.9M1469.4 475.0V476.2M1470.8 478.9V481.3M1468.9 487.3V498.1M1470.2 504.3V510.2M1468.7 516.1V520.6M1472.8 442.7V450.3M1472.1 452.9V458.4M1472.9 463.9V467.4M1473.1 472.6V479.4M1473.0 485.3V498.5M1473.2 501.6V517.4M1472.8 522.7V532.0M1472.3 534.7V536.8M1475.5 443.7V444.8M1476.0 449.9V454.0M1475.7 459.1V461.7M1476.4 467.1V498.2M1477.1 501.5V506.1M1477.6 512.3V528.0M1477.7 533.1V536.1M1478.8 439.7V458.2M1479.5 461.2V474.6M1479.1 479.0V493.3M1478.4 499.6V536.7M1482.6 446.3V454.5M1483.1 462.3V475.6M1483.0 478.6V483.7M1482.6 488.4V497.4M1482.4 501.0V504.4M1482.9 507.6V526.2M1484.1 536.0V537.8M1485.1 459.0V473.4M1486.1 477.2V495.4M1486.6 501.6V504.6M1484.8 510.2V522.0M1485.9 527.6V530.7M1485.4 536.8V538.0M1484.3 545.9V549.1M1487.6 422.9V434.0M1488.4 436.7V444.7M1488.8 449.8V494.0M1487.3 497.8V499.4M1486.5 505.0V510.4M1486.5 514.9V517.8M1488.1 522.8V530.9M1487.2 534.3V538.8M1491.6 532.5V534.6M1492.6 540.7V554.6M1490.7 558.0V603.3M1493.0 607.9V609.8M1491.8 612.5V615.3M1491.0 621.9V628.2M1490.7 631.3V639.8M1493.9 545.4V548.3M1495.6 550.9V571.7M1495.6 577.3V584.6M1494.0 588.1V589.1M1496.4 597.4V607.4M1496.5 613.7V617.2M1494.0 623.8V640.8M1494.0 644.7V646.4M1494.0 651.1V657.6M1496.6 660.4V666.0M1500.2 555.3V568.8M1501.4 575.0V585.4M1502.2 589.9V599.0M1501.9 604.4V615.2M1499.8 620.3V624.5M1499.6 628.9V652.7M1500.6 659.3V660.6M1500.8 665.2V668.3M1505.9 549.8V580.6M1505.7 584.7V592.1M1504.7 595.0V599.2M1504.8 602.8V604.8M1505.9 608.9V613.4M1505.2 618.7V621.7M1505.0 625.0V629.0M1503.2 633.9V644.2M1503.7 649.3V660.5M1505.6 664.7V671.9M1509.8 528.3V532.9M1507.6 538.9V541.9M1508.1 544.6V560.2M1507.7 564.7V571.6M1507.9 580.7V608.7M1509.4 615.1V640.5M1509.6 645.6V648.0M1509.0 653.9V665.1M1512.2 519.4V533.9M1511.3 536.8V550.3M1512.7 553.5V568.9M1510.2 572.3V582.2M1512.0 586.0V622.0M1512.1 625.5V648.0M1510.9 658.4V681.6M1529.4 551.0V555.5M1528.2 559.2V578.3M1530.0 587.9V603.2M1529.7 611.2V621.3M1528.8 624.3V626.5M1527.8 631.5V637.3M1529.4 643.7V644.9M1529.7 650.1V671.8M1528.0 677.3V682.4M1527.4 687.0V695.4M1528.7 701.2V705.7M1533.7 547.1V548.3M1531.4 553.5V580.5M1532.1 584.5V594.1M1533.4 599.2V600.3M1533.8 604.9V620.5M1532.7 626.2V632.7M1532.4 636.3V642.0M1532.0 645.1V666.3M1538.9 529.0V533.4M1537.5 537.8V546.1M1537.0 550.1V551.2M1538.2 554.5V570.7M1537.0 576.7V587.5M1538.0 592.9V601.9M1538.6 604.6V607.4M1537.3 612.5V622.6M1536.6 628.6V642.4M1538.4 648.2V649.2M1539.0 654.6V663.1M1538.1 666.5V669.1M1536.7 672.4V673.9M1546.0 531.1V539.2M1546.9 544.1V547.9M1547.4 556.1V579.5M1547.2 585.9V591.2M1546.9 594.4V608.9M1547.9 621.1V625.4M1545.6 628.7V630.7M1545.4 634.5V679.1M1546.2 686.9V691.5M1551.3 538.5V543.3M1550.6 550.1V553.4M1552.7 558.8V561.7M1553.3 564.5V571.3M1551.8 581.3V601.4M1552.5 605.8V608.7M1552.9 612.1V615.7M1552.7 618.3V624.2M1552.6 632.6V670.6M1556.7 585.7V591.1M1556.1 595.4V611.2M1558.7 616.6V623.9M1557.3 628.7V630.1M1557.0 636.2V646.8M1557.7 660.4V678.5M1557.6 682.3V684.6M1557.8 690.5V695.6M1586.8 590.8V595.1M1585.9 600.3V613.2M1587.1 616.0V617.8M1585.2 621.8V629.3M1584.5 633.0V653.0M1586.7 658.9V680.0M1585.1 684.7V699.7M1590.2 581.3V595.2M1590.1 597.9V613.4M1589.6 618.7V621.3M1590.6 626.0V665.3M1589.8 669.3V671.5M1589.6 677.0V678.3M1589.5 682.2V687.5M1592.2 692.7V699.6M1594.9 600.2V639.0M1593.3 644.7V647.8M1594.4 657.0V665.5M1593.4 670.6V673.4M1593.7 678.8V688.3M1593.1 691.3V694.2M1595.1 703.4V711.2M1593.2 714.7V716.1M1595.8 597.3V614.7M1596.1 621.1V634.6M1596.0 637.6V639.5M1597.7 642.3V646.7M1597.4 654.8V664.6M1596.3 670.4V674.7M1596.4 679.9V687.6M1597.7 690.8V692.4M1596.4 696.2V701.1M1597.2 706.4V716.1M1599.0 598.5V607.5M1599.6 611.7V618.4M1598.6 624.3V638.9M1598.6 645.1V646.7M1598.8 652.8V655.9M1598.5 661.8V673.1M1597.9 675.7V678.5M1597.9 682.1V694.2M1598.2 698.6V706.7M1600.1 712.6V716.1M1603.1 567.9V588.0M1604.4 591.5V601.3M1603.7 607.2V614.7M1603.3 619.0V622.6M1605.4 625.5V661.9M1604.9 665.0V672.0M1603.2 675.4V695.1M1608.0 567.9V579.8M1607.0 585.6V606.9M1607.3 611.5V613.3M1605.9 623.1V629.1M1607.4 635.2V650.4M1607.2 653.8V661.2M1606.7 666.4V680.9M1608.3 687.2V690.6M1610.5 586.0V608.2M1611.0 611.8V616.9M1610.3 620.9V623.7M1610.4 626.6V628.1M1610.5 632.2V648.3M1610.0 653.1V657.0M1610.7 661.6V686.9M1609.4 691.1V692.4M1612.4 582.6V584.0M1613.1 587.7V596.2M1614.1 600.1V627.0M1611.6 631.0V648.3M1611.9 659.1V676.4M1613.6 680.7V692.8M1614.7 589.7V596.2M1616.5 602.3V618.5M1615.1 624.3V635.9M1616.3 639.4V643.6M1615.4 646.6V651.0M1617.0 655.0V659.6M1614.8 664.7V711.0M1620.1 574.3V587.6M1618.7 590.7V642.1M1618.3 646.6V649.3M1620.1 652.2V659.4M1619.6 665.3V667.6M1618.2 672.3V682.4M1620.0 686.0V706.6M1622.4 590.7V593.3M1621.1 596.4V606.5M1621.2 609.9V611.1M1621.1 616.8V618.5M1621.0 629.2V630.9M1621.9 635.5V657.6M1621.8 661.5V677.8M1621.7 681.2V697.8M1620.6 700.5V711.9M1632.1 548.2V552.3M1630.2 557.2V576.7M1630.2 582.7V583.8M1632.6 589.4V605.0M1631.6 609.4V629.5M1632.0 633.1V641.9M1636.7 543.9V549.7M1636.5 554.7V572.4M1636.8 582.7V584.1M1635.1 590.7V593.2M1635.7 599.2V605.0M1635.4 619.1V632.5M1640.8 541.8V556.2M1642.6 562.6V563.6M1641.5 567.9V570.4M1642.3 580.4V591.4M1641.9 602.5V607.3M1641.7 616.1V617.9M1641.8 620.5V631.2M1641.3 636.8V638.9M1644.2 541.9V544.6M1644.7 548.2V550.6M1644.5 555.0V564.3M1644.2 576.7V623.5M1645.3 627.5V634.2M1649.6 569.7V581.6M1649.1 590.9V594.3M1649.3 598.7V606.6M1649.6 614.4V631.4M1650.9 635.2V645.0M1651.0 650.1V652.7M1650.8 659.4V664.4M1655.0 600.2V604.4M1653.7 609.4V638.7M1655.3 649.0V656.5M1656.2 663.4V674.0M1654.6 679.7V682.0M1656.2 687.0V695.7M1660.0 561.7V563.1M1661.8 569.1V610.0M1661.0 612.9V617.4M1661.1 620.8V628.5M1659.8 635.9V657.7M1661.0 662.6V669.5M1661.2 676.2V677.8M1668.0 523.0V553.7M1665.4 558.1V573.3M1665.5 577.9V588.8M1668.1 593.0V600.3M1667.7 605.7V610.7M1666.7 614.1V632.6M1665.8 639.0V645.9M1671.9 544.8V553.2M1673.7 557.3V568.2M1672.9 570.7V584.4M1671.7 590.3V601.7M1671.9 606.5V618.8M1671.9 625.2V641.0M1672.7 646.7V657.2M1672.9 661.2V671.7M1678.0 508.3V512.4M1677.7 517.4V534.6M1678.1 540.3V547.2M1677.2 550.9V559.7M1679.3 564.6V575.6M1678.1 579.1V591.7M1678.7 597.0V606.3M1679.6 610.0V612.8M1677.2 616.2V624.1M1678.9 628.5V667.8M1679.4 670.8V672.9M1682.2 529.6V535.2M1682.3 540.2V550.3M1681.2 556.1V564.9M1681.0 567.9V570.8M1681.9 574.2V577.8M1680.4 580.6V593.0M1682.1 598.8V607.9M1682.3 613.0V619.3M1682.2 625.0V629.7M1680.9 632.2V668.8M1687.5 550.0V565.8M1686.1 569.4V571.2M1686.5 576.0V593.4M1685.5 598.3V633.8M1687.3 645.2V677.8M1687.3 683.0V686.6M1691.9 550.4V551.9M1691.3 557.7V564.8M1690.1 569.3V589.7M1691.6 595.4V632.6M1689.8 637.0V642.5M1689.4 648.2V666.1M1690.4 669.3V673.2M1691.7 676.7V677.7M1693.5 545.6V555.5M1695.0 561.2V570.6M1693.5 576.9V581.1M1693.9 584.3V597.9M1695.3 602.3V631.9M1693.8 638.0V656.1M1693.7 659.2V664.0M1695.6 668.6V695.0M1697.4 534.7V540.7M1696.7 546.5V547.9M1696.0 551.5V556.6M1696.3 562.3V583.5M1697.6 586.5V591.6M1696.9 600.8V603.6M1697.1 608.5V627.3M1697.8 632.5V647.8M1697.0 651.3V675.1M1696.8 678.7V689.4M1703.2 510.0V515.0M1702.3 521.4V531.4M1703.5 535.1V541.4M1704.2 544.5V564.1M1701.8 567.3V568.5M1704.3 573.0V580.4M1702.2 583.9V590.7M1703.6 593.2V601.3M1702.3 604.4V619.3M1703.7 621.8V624.7M1702.2 627.4V640.8M1702.3 651.1V657.1M1703.5 666.7V678.7M1705.3 506.4V508.8M1704.7 515.4V521.2M1705.3 527.7V543.8M1705.3 556.1V557.4M1704.8 562.0V568.9M1705.2 580.5V587.4M1706.1 590.2V610.5M1706.7 616.8V620.9M1705.9 624.3V629.7M1706.5 636.0V637.9M1706.6 646.5V648.5M1705.5 652.7V668.0M1705.4 672.2V679.8M1709.7 498.1V509.4M1708.8 514.7V515.9M1709.2 520.9V522.6M1709.5 527.8V529.6M1709.2 532.6V534.4M1709.3 540.9V548.5M1708.3 553.9V583.7M1707.8 587.6V591.9M1708.6 595.1V613.6M1710.0 617.5V650.9M1708.1 655.4V665.3M1709.5 671.8V682.5M1710.2 686.7V688.3M1711.8 522.9V532.0M1712.0 538.9V548.1M1713.0 553.8V583.1M1711.3 594.3V604.6M1711.6 608.0V614.3M1711.6 617.1V633.1M1710.5 639.7V644.7M1711.7 651.0V655.0M1713.0 660.3V679.0M1710.6 683.3V688.7M1728.1 518.1V520.3M1728.4 523.4V535.7M1726.5 542.4V549.4M1726.9 555.3V560.4M1727.3 564.4V568.0M1726.7 572.3V573.5M1728.5 577.0V604.0M1727.9 607.7V633.2M1727.2 638.5V650.2M1726.6 653.7V664.6M1727.1 670.5V686.5M1731.5 538.1V548.2M1731.2 551.5V571.5M1731.5 581.1V595.6M1731.8 598.5V599.9M1729.7 606.7V613.1M1730.7 619.3V629.1M1731.4 634.7V645.7M1731.2 653.4V656.0M1729.8 659.6V664.6M1736.9 557.3V559.6M1735.8 563.4V575.9M1736.4 578.4V584.8M1736.8 587.5V589.6M1735.2 594.2V636.2M1735.0 642.4V654.9M1736.3 658.9V669.6M1736.4 672.1V674.8M1736.5 678.9V687.0M1743.7 520.1V523.9M1743.8 529.1V543.8M1742.0 547.2V569.4M1742.7 572.9V576.0M1744.5 585.2V586.8M1743.2 592.8V631.8M1743.3 635.3V645.8M1747.6 505.2V507.4M1746.0 513.4V517.6M1747.0 523.7V569.3M1747.4 579.5V581.1M1745.4 587.1V598.9M1745.5 604.5V614.0M1750.4 519.1V523.4M1748.7 528.4V532.2M1750.0 538.7V555.8M1748.6 559.3V583.2M1749.8 587.9V600.0M1748.2 604.5V619.7M1750.6 625.3V629.9M1754.1 523.6V534.4M1753.9 539.5V540.9M1754.3 544.0V555.2M1753.2 558.8V566.2M1754.5 571.8V575.6M1754.5 589.8V593.5M1755.1 599.1V600.9M1754.6 604.5V615.6M1752.9 627.3V629.3M1759.8 520.1V524.9M1758.1 529.7V534.5M1760.1 540.9V544.8M1758.0 550.9V568.1M1758.8 572.9V580.6M1759.2 586.8V599.5M1759.9 604.0V615.2M1759.3 618.9V628.4M1760.8 505.5V527.6M1761.1 531.9V545.8M1761.8 549.6V550.8M1760.8 557.3V558.9M1760.1 565.2V566.4M1762.3 571.8V576.9M1760.8 579.7V582.9M1762.7 586.7V590.7M1762.2 594.7V599.5M1762.0 604.2V615.8M1761.9 619.2V624.9M1768.1 564.3V584.8M1766.6 591.4V593.7M1767.5 598.7V616.4M1766.4 620.6V634.3M1768.1 640.3V643.6M1765.9 647.0V669.2M1766.1 672.3V679.0M1766.9 683.5V692.0M1772.4 547.7V556.0M1770.0 558.8V583.3M1772.5 588.0V594.2M1770.2 605.2V607.8M1771.4 618.1V652.6M1769.9 660.5V664.0M1771.4 668.8V685.9M1771.3 689.4V707.2M1771.2 714.0V726.1M1773.6 559.1V564.6M1775.2 570.1V571.8M1774.7 578.6V583.8M1773.9 589.6V619.8M1775.8 623.8V640.5M1774.3 644.4V656.1M1774.2 658.7V673.5M1773.5 678.3V687.0M1779.5 571.2V577.9M1777.8 584.2V597.6M1778.0 602.8V609.1M1780.3 615.2V628.5M1780.0 632.8V642.9M1779.2 646.6V649.1M1778.0 655.9V657.6M1779.3 662.0V689.8M1779.1 692.4V704.8M1778.1 709.4V719.7M1777.9 724.6V726.1M1783.0 542.6V563.8M1784.2 569.0V576.9M1782.4 581.8V592.6M1784.0 595.9V609.2M1784.7 615.0V616.8M1782.6 621.5V622.9M1782.3 627.7V635.4M1783.4 643.4V651.7M1784.2 656.8V659.3M1784.4 662.2V675.3M1783.6 679.1V686.0M1784.8 690.4V695.3M1784.7 698.6V710.9M1783.5 713.8V723.6M274.2 835.6V846.4M280.4 510.6V525.6M279.6 537.1V547.2M279.6 550.8V555.8M279.4 565.2V570.2M280.2 578.0V579.2M279.9 584.0V590.6M280.5 599.3V601.4M329.4 400.6V401.9M329.0 406.3V412.2M329.2 422.2V458.0M329.0 462.9V473.4M335.4 702.6V722.4M335.2 728.1V734.7M335.2 739.4V749.6M335.4 754.8V767.9M335.6 773.9V777.4M351.3 474.6V489.8M351.1 493.0V499.8M350.6 502.4V506.1M351.1 510.0V533.4M363.1 702.6V711.7M362.7 716.6V729.6M362.6 733.3V744.6M362.4 749.1V754.2M363.2 758.5V771.5M363.3 776.3V780.4M362.7 785.8V790.1M363.3 795.3V801.6M365.5 507.6V510.5M365.6 514.2V516.9M365.0 520.3V544.9M364.8 548.8V551.0M365.0 554.6V574.6M364.7 578.5V599.4M410.6 758.6V762.7M411.2 769.8V785.4M472.9 705.3V706.3M473.3 712.1V714.2M473.4 721.3V736.0M473.1 738.6V764.2M473.5 769.5V778.4M544.0 751.6V766.0M544.2 772.3V779.4M607.6 718.6V725.8M607.9 730.2V738.0M608.2 741.3V746.5M607.4 751.7V771.7M607.6 775.5V779.4M499.4 532.6V534.1M499.1 539.8V542.4M499.4 546.1V557.4M546.2 518.6V527.7M546.5 531.5V541.3M546.0 547.3V551.9M676.4 510.6V516.4M677.5 523.9V525.5M677.5 533.5V547.4M677.0 554.9V558.1M677.5 562.8V585.1M677.3 587.9V591.0M685.2 386.6V427.0M685.5 430.0V464.7M685.4 468.6V509.2M685.1 514.1V520.3M685.6 523.4V533.4M683.9 362.6V370.2M709.5 574.6V581.5M709.5 585.0V587.1M709.7 590.9V597.6M710.0 602.1V626.1M710.3 628.8V635.0M709.9 638.7V646.6M710.2 651.7V659.0M710.5 663.9V669.4M743.3 614.6V618.1M742.8 623.4V675.8M742.7 680.8V690.0M742.8 694.9V698.6M743.5 701.9V721.4M748.5 474.6V478.6M748.9 485.1V486.7M749.6 493.3V516.2M749.3 525.8V535.9M749.3 539.1V559.2M749.2 574.3V575.5M749.1 582.3V593.1M749.1 599.7V614.1M759.4 526.6V542.4M760.1 553.2V563.6M759.6 566.8V576.8M759.8 582.3V587.1M759.5 593.1V601.4M790.5 480.6V484.8M789.4 492.0V495.9M811.0 714.6V730.6M810.6 735.9V748.0M810.6 752.7V773.4M911.0 536.4V537.8M910.7 543.1V551.8M911.0 554.7V555.8M911.5 560.5V564.6M910.8 568.7V570.5M911.0 575.9V614.7M911.4 619.6V622.1M910.6 627.9V636.0M911.6 640.5V647.9M910.5 653.8V657.4M950.9 532.6V552.8M951.0 555.8V563.6M951.3 569.9V590.0M951.0 593.6V611.6M950.7 617.0V619.5M951.2 630.1V637.6M950.6 641.4V643.7M951.2 652.4V701.4M951.5 704.1V705.4M961.5 714.6V725.3M960.6 728.9V733.4M994.4 514.6V516.6M993.8 524.2V533.5M994.1 542.6V551.7M993.6 559.8V566.1M993.4 579.1V580.5M994.6 584.8V586.6M993.5 592.0V607.3M994.3 620.9V642.6M993.8 651.1V653.4M1158.5 710.6V717.4M1158.2 722.2V724.2M1157.6 734.2V739.4M1240.5 698.6V704.9M1240.2 708.2V712.6M1240.3 716.1V734.1M1240.0 739.7V747.5M1240.1 750.9V765.4M1329.8 357.6V378.4M1330.3 386.2V406.1M1330.1 412.5V427.4M1373.5 390.6V398.6M1372.6 404.0V409.2M1372.7 414.4V421.8M1373.3 427.1V428.6M1372.6 432.2V436.9M1373.1 440.8V450.4M1372.6 454.8V462.2M1372.9 477.0V488.9M1560.2 694.6V701.2M1559.9 705.6V708.4M1559.5 715.6V719.4M1679.7 746.6V749.0M1680.4 752.0V754.4M1680.2 760.5V774.4M1760.5 646.6V649.8M1759.6 654.5V660.4M1760.0 668.8V678.1M1759.9 685.9V689.3M1760.4 693.0V701.4M1760.3 705.9V713.2M1772.5 412.6V423.1M1773.1 426.7V428.1M1772.7 431.0V436.2M1772.6 441.7V447.6M1772.9 452.1V453.6M1773.4 459.7V492.8M1773.2 498.6V499.7M1772.7 504.9V510.0M1772.4 513.4V528.7M1775.3 722.6V725.9M1724.9 326.6V329.1M1725.2 334.9V337.1M1725.4 339.9V351.3M1726.0 355.1V357.6M1726.0 364.9V369.9M1725.1 374.8V381.4M284.9 837.6V843.5M329.6 825.6V829.2M330.0 837.3V843.4M383.8 832.6V849.4M384.2 860.6V866.6M384.5 870.8V874.4M411.5 843.6V861.9M412.1 866.2V868.4M495.6 830.6V834.6M653.3 830.6V840.4M682.9 837.6V848.4M815.4 825.6V836.4M857.4 855.6V865.4M873.6 821.6V837.4M943.9 826.6V836.4M981.8 822.6V826.0M981.9 830.8V833.4M1027.3 844.6V845.8M1027.2 850.6V856.4M1056.5 812.6V817.5M1055.8 820.8V834.4M1077.6 817.6V829.7M1077.8 832.8V838.7M1088.1 847.6V852.7M1088.0 856.8V860.6M1088.1 865.6V869.4M1199.2 803.6V809.9M1198.5 814.4V830.2M1296.5 821.6V822.9M1295.9 827.6V835.4M1282.9 847.6V862.4M1283.6 866.7V872.4M1418.5 861.8V871.4M1437.4 815.6V831.4M1527.8 841.6V845.3M1528.0 850.4V868.4M1621.1 822.6V833.4M1659.0 819.6V831.4M1676.1 839.6V841.9M1675.8 847.9V849.8M1675.5 852.6V865.4M1764.3 790.6V792.0M1763.9 797.5V802.8M1763.9 806.4V814.6M1763.7 819.0V823.4M262.6 701.4h0M262.8 606.3h0M262.4 685.2h0M264.5 690.3h0M264.6 618.8h0M263.5 597.7h0M263.5 639.8h0M256.7 688.7h0M256.8 630.4h0M256.7 609.6h0M261.3 678.5h0M265.1 693.1h0M260.7 635.2h0M256.0 659.4h0M263.4 657.7h0M261.3 670.6h0M260.9 615.5h0M261.3 604.0h0M260.6 673.0h0M265.1 596.9h0M263.8 595.3h0M264.0 647.8h0M255.9 671.6h0M256.4 684.6h0M262.1 620.0h0M259.8 630.0h0M258.2 655.8h0M258.3 643.2h0M255.2 638.2h0M257.2 605.1h0M254.6 694.2h0M264.1 599.5h0M255.9 683.7h0M264.8 643.0h0M257.8 612.9h0M258.1 624.3h0M259.2 656.5h0M258.9 683.0h0M259.5 607.7h0M256.3 623.3h0M258.5 612.1h0M256.4 692.2h0M255.0 697.1h0M259.2 683.1h0M257.4 642.4h0M261.4 618.3h0M260.9 607.5h0M263.3 594.7h0M264.9 600.6h0M257.0 644.4h0M265.9 695.3h0M255.7 572.5h0M261.4 567.3h0M263.1 582.7h0M260.1 570.4h0M259.2 559.3h0M259.4 576.7h0M260.9 574.5h0M258.7 570.3h0M258.7 569.0h0M258.5 568.8h0M266.3 630.3h0M264.4 737.0h0M264.7 745.6h0M269.3 670.5h0M268.8 609.2h0M268.7 597.8h0M268.6 735.8h0M270.4 744.5h0M264.5 646.2h0M269.3 691.6h0M267.1 625.8h0M266.5 724.7h0M267.6 710.2h0M268.0 695.8h0M266.6 684.9h0M265.5 653.9h0M264.1 675.5h0M269.4 676.1h0M268.0 722.2h0M263.9 633.5h0M269.7 635.8h0M268.1 721.0h0M268.6 675.4h0M270.3 698.9h0M264.4 670.3h0M270.3 623.4h0M266.7 692.1h0M266.0 715.8h0M265.4 638.6h0M264.7 658.3h0M267.7 670.2h0M266.0 699.1h0M269.5 625.6h0M268.2 677.8h0M267.7 707.4h0M269.5 715.0h0M269.2 655.7h0M267.3 677.9h0M268.3 674.3h0M266.1 668.0h0M266.8 690.9h0M265.9 655.3h0M275.0 749.2h0M274.7 620.7h0M276.5 760.5h0M276.9 766.4h0M274.9 776.9h0M280.2 637.9h0M278.3 628.0h0M278.4 618.4h0M277.1 669.6h0M276.3 650.2h0M274.3 734.2h0M278.0 646.4h0M279.1 648.2h0M278.1 695.1h0M279.0 674.8h0M280.1 710.6h0M276.7 640.7h0M275.4 642.1h0M277.1 720.7h0M278.6 701.0h0M276.5 659.1h0M279.1 705.0h0M278.1 691.8h0M279.0 695.4h0M275.4 670.2h0M275.7 660.7h0M279.7 709.7h0M277.8 679.3h0M276.9 638.9h0M276.8 695.3h0M276.0 685.8h0M280.4 733.2h0M274.1 737.1h0M279.0 721.5h0M279.1 651.0h0M274.5 701.6h0M279.2 638.5h0M273.7 737.2h0M279.8 657.1h0M279.2 661.5h0M279.3 628.1h0M277.7 652.9h0M277.9 629.5h0M278.0 638.3h0M286.6 623.4h0M286.2 736.9h0M286.7 744.1h0M286.0 715.0h0M287.7 731.4h0M287.7 735.2h0M289.7 657.4h0M287.2 685.3h0M287.9 694.0h0M287.6 639.9h0M286.8 675.9h0M289.3 682.2h0M287.2 683.2h0M289.5 675.9h0M290.3 684.1h0M287.1 720.3h0M287.3 640.2h0M286.0 673.0h0M287.7 712.4h0M287.8 703.2h0M286.6 645.1h0M289.3 715.7h0M287.8 670.4h0M287.6 681.0h0M289.4 703.1h0M289.1 727.4h0M289.7 621.3h0M289.4 647.4h0M285.8 662.9h0M289.7 618.6h0M289.5 653.1h0M287.5 678.1h0M298.2 687.0h0M296.0 726.6h0M297.8 640.4h0M297.3 693.0h0M298.1 715.7h0M297.0 650.8h0M295.8 649.3h0M296.2 644.9h0M296.1 669.3h0M297.8 640.9h0M297.4 643.0h0M298.2 652.1h0M298.0 737.3h0M296.9 630.0h0M296.4 664.8h0M295.6 664.3h0M297.7 684.7h0M306.2 661.4h0M307.1 743.0h0M307.1 596.4h0M307.3 585.3h0M306.8 575.3h0M312.3 732.5h0M312.6 607.7h0M311.0 602.4h0M311.6 593.0h0M307.8 719.5h0M311.8 689.5h0M307.5 692.8h0M306.6 702.5h0M306.9 657.2h0M311.7 658.5h0M308.1 714.5h0M305.8 650.1h0M306.5 606.8h0M308.0 709.1h0M305.9 656.1h0M311.1 667.3h0M313.8 676.9h0M309.9 676.6h0M314.0 678.5h0M312.3 728.4h0M312.2 721.3h0M311.2 707.3h0M306.4 736.2h0M309.3 734.6h0M310.3 709.6h0M311.0 652.7h0M314.2 720.9h0M309.2 696.7h0M308.4 643.1h0M314.1 652.1h0M311.6 647.6h0M309.9 631.6h0M309.0 646.1h0M313.5 631.5h0M313.0 709.1h0M312.7 741.9h0M312.1 678.0h0M313.0 742.8h0M305.7 717.6h0M313.3 722.6h0M309.0 728.2h0M306.2 732.8h0M314.0 693.9h0M313.1 638.5h0M306.9 736.7h0M312.2 633.7h0M307.2 654.8h0M308.4 639.1h0M312.4 655.5h0M306.3 633.5h0M310.4 695.6h0M312.2 664.4h0M307.4 718.8h0M312.7 686.7h0M318.7 581.7h0M319.1 710.4h0M320.3 720.0h0M323.5 701.8h0M323.1 583.6h0M321.9 577.0h0M323.3 572.8h0M322.7 709.1h0M325.1 715.2h0M326.1 726.0h0M324.5 650.0h0M325.7 600.7h0M324.1 718.1h0M318.2 671.2h0M326.2 598.8h0M322.5 706.8h0M319.9 608.6h0M323.9 692.0h0M325.9 671.8h0M318.1 695.9h0M320.1 659.1h0M323.9 718.3h0M322.5 599.3h0M322.1 657.8h0M324.2 605.9h0M322.5 585.7h0M326.3 581.8h0M322.4 603.5h0M320.0 636.0h0M319.8 615.9h0M320.3 649.9h0M326.0 608.5h0M319.1 584.7h0M325.7 690.4h0M324.9 600.0h0M321.5 674.5h0M322.3 683.2h0M319.3 707.5h0M322.8 666.0h0M322.8 641.8h0M317.7 602.0h0M321.8 590.3h0M322.8 605.7h0M323.6 636.4h0M323.4 616.0h0M318.7 673.5h0M324.9 608.7h0M317.9 702.6h0M324.2 688.1h0M324.6 638.2h0M326.0 693.9h0M324.3 712.9h0M325.6 659.3h0M318.1 662.9h0M322.0 581.0h0M320.4 695.7h0M323.1 711.4h0M324.3 605.1h0M323.9 585.3h0M325.3 620.6h0M326.1 585.4h0M324.1 593.1h0M331.7 576.5h0M330.5 696.9h0M331.5 701.8h0M332.7 629.8h0M330.9 676.1h0M333.7 657.1h0M330.2 667.7h0M332.5 667.0h0M333.1 647.3h0M331.4 678.7h0M334.0 691.8h0M331.1 606.9h0M330.5 660.8h0M334.2 610.0h0M331.8 645.2h0M331.6 645.6h0M331.4 650.0h0M334.3 670.3h0M334.2 631.0h0M330.3 605.8h0M330.7 671.0h0M330.7 647.0h0M334.1 631.0h0M330.7 684.5h0M334.3 590.4h0M333.5 694.4h0M331.0 623.7h0M330.5 607.5h0M333.3 633.3h0M331.1 624.4h0M334.0 697.0h0M342.3 695.4h0M341.5 568.2h0M341.6 592.5h0M341.8 665.5h0M341.9 680.6h0M341.6 595.4h0M340.5 665.8h0M339.6 640.6h0M342.0 660.3h0M340.4 600.0h0M341.7 648.0h0M340.9 646.9h0M341.4 593.0h0M340.7 683.7h0M340.0 625.5h0M340.5 608.8h0M348.7 614.6h0M350.6 705.9h0M349.2 708.3h0M348.7 605.8h0M350.4 594.6h0M348.1 713.9h0M353.2 630.1h0M354.7 694.6h0M353.9 578.0h0M352.9 567.3h0M353.4 699.9h0M352.0 703.4h0M351.4 700.8h0M350.3 595.6h0M351.6 621.9h0M351.1 699.6h0M350.1 637.2h0M352.4 594.7h0M351.0 653.6h0M350.6 672.5h0M352.7 695.7h0M352.8 695.0h0M349.3 644.8h0M351.5 654.4h0M352.9 683.9h0M352.8 705.8h0M353.5 625.1h0M350.6 582.8h0M352.7 635.3h0M351.7 621.2h0M351.8 620.6h0M348.5 623.3h0M356.7 774.0h0M354.4 704.1h0M354.3 695.8h0M354.7 785.8h0M355.9 791.9h0M354.0 745.0h0M355.6 746.3h0M356.9 706.7h0M353.9 742.5h0M356.0 731.3h0M353.8 742.7h0M355.7 765.5h0M353.6 709.1h0M357.4 759.7h0M356.3 742.7h0M357.2 780.1h0M355.5 766.0h0M356.7 782.1h0M356.6 723.9h0M354.3 749.3h0M356.2 781.7h0M367.5 658.9h0M365.9 704.9h0M365.6 615.6h0M366.4 610.6h0M369.5 603.3h0M370.3 592.8h0M368.8 586.3h0M370.2 696.6h0M370.6 703.5h0M370.9 709.0h0M371.9 602.6h0M373.0 636.1h0M372.4 593.5h0M373.6 589.2h0M374.2 581.4h0M377.1 634.5h0M377.4 683.4h0M378.8 617.9h0M379.3 706.0h0M378.6 712.4h0M379.1 720.0h0M368.4 612.7h0M378.3 626.1h0M366.6 683.0h0M366.9 694.9h0M373.2 639.3h0M380.1 611.9h0M376.0 655.3h0M370.3 666.4h0M370.8 643.6h0M375.9 607.3h0M367.8 621.5h0M378.4 681.7h0M380.0 672.6h0M368.2 623.3h0M375.2 616.3h0M374.2 701.7h0M376.1 696.8h0M373.7 624.9h0M373.0 642.9h0M377.6 634.7h0M376.4 606.7h0M379.5 615.7h0M366.7 663.6h0M377.6 655.8h0M368.4 640.5h0M371.8 668.2h0M372.4 652.4h0M368.3 620.4h0M374.5 609.3h0M369.3 615.8h0M368.9 626.9h0M378.7 627.5h0M376.3 625.0h0M373.3 704.7h0M374.8 616.1h0M377.4 679.8h0M376.9 668.1h0M378.5 655.2h0M375.2 688.4h0M371.6 609.7h0M367.9 669.6h0M376.7 667.8h0M377.9 691.7h0M372.4 685.9h0M368.3 693.0h0M369.9 617.8h0M370.8 617.4h0M380.0 704.2h0M379.1 670.2h0M377.7 609.3h0M369.3 697.7h0M380.2 688.0h0M366.7 704.6h0M375.2 673.9h0M379.4 686.2h0M384.4 737.6h0M387.0 742.8h0M392.4 744.9h0M392.3 611.3h0M390.9 753.1h0M395.8 679.4h0M393.9 591.6h0M394.5 585.8h0M395.7 743.5h0M393.6 753.3h0M395.3 758.3h0M397.7 641.0h0M397.3 747.6h0M396.5 758.7h0M400.0 740.0h0M398.3 751.8h0M400.4 763.6h0M398.2 774.8h0M394.9 633.2h0M398.7 643.7h0M384.6 685.8h0M395.2 678.5h0M390.5 615.8h0M395.8 607.7h0M393.3 619.8h0M391.3 685.1h0M387.7 708.3h0M387.9 723.3h0M390.2 699.2h0M391.2 649.7h0M385.2 689.1h0M384.5 669.8h0M390.4 646.0h0M387.8 672.3h0M398.4 713.6h0M388.8 686.8h0M394.2 704.0h0M394.1 615.1h0M386.0 712.9h0M388.0 683.2h0M384.5 684.9h0M388.4 612.2h0M383.9 638.8h0M392.3 708.0h0M384.1 675.0h0M389.2 688.4h0M395.4 617.9h0M387.8 723.7h0M394.8 629.1h0M392.6 655.6h0M386.2 661.4h0M392.5 695.2h0M398.4 643.5h0M400.2 656.2h0M394.5 659.9h0M391.1 699.2h0M396.1 615.8h0M384.0 653.4h0M388.9 666.7h0M399.5 647.2h0M387.4 664.7h0M389.2 662.1h0M392.4 621.9h0M396.3 691.9h0M396.3 666.0h0M386.6 706.7h0M398.3 726.8h0M395.7 623.5h0M388.5 699.7h0M384.3 644.8h0M390.1 714.0h0M384.1 643.5h0M394.3 607.2h0M388.8 705.8h0M391.4 706.7h0M387.7 702.8h0M386.2 691.4h0M396.9 615.0h0M388.3 651.2h0M398.5 615.9h0M390.5 740.8h0M385.1 735.4h0M384.8 679.8h0M391.1 698.7h0M388.4 670.2h0M398.2 628.5h0M398.6 619.4h0M386.5 636.8h0M392.6 648.4h0M391.5 614.6h0M388.7 607.3h0M385.6 695.3h0M393.0 668.9h0M384.0 708.8h0M385.2 700.8h0M390.4 724.2h0M385.2 654.0h0M384.3 733.0h0M393.9 652.3h0M386.3 726.7h0M389.6 623.6h0M406.8 736.3h0M406.9 624.4h0M406.9 614.0h0M411.0 623.6h0M411.7 615.6h0M410.6 608.7h0M405.9 673.5h0M406.8 619.3h0M408.3 702.8h0M410.0 733.5h0M407.5 653.0h0M411.7 622.3h0M409.6 633.6h0M410.8 630.8h0M411.3 655.0h0M411.9 702.3h0M410.8 642.8h0M410.2 705.7h0M408.3 691.6h0M409.2 731.4h0M412.4 728.4h0M409.0 628.6h0M409.9 749.6h0M407.1 633.3h0M406.9 627.0h0M409.1 642.6h0M411.6 738.3h0M411.5 688.5h0M408.6 707.1h0M408.4 692.9h0M406.0 690.9h0M409.4 644.7h0M406.8 675.3h0M411.7 752.4h0M410.4 660.2h0M407.8 743.1h0M407.4 697.6h0M410.5 653.7h0M411.9 649.3h0M412.3 712.6h0M409.2 694.7h0M411.7 733.6h0M405.9 658.8h0M405.7 673.2h0M410.4 668.6h0M409.4 637.3h0M407.0 660.7h0M407.3 713.5h0M423.6 648.5h0M421.5 611.9h0M422.6 713.4h0M422.1 724.5h0M423.9 691.9h0M420.9 628.8h0M421.1 676.7h0M422.4 637.3h0M422.9 651.5h0M421.4 632.8h0M423.0 645.2h0M420.6 703.9h0M421.2 695.9h0M419.9 668.4h0M422.7 686.6h0M421.8 638.3h0M422.2 702.8h0M421.0 659.5h0M422.8 654.5h0M429.8 577.3h0M428.5 565.5h0M430.3 557.5h0M433.1 611.6h0M434.0 607.0h0M433.2 597.1h0M436.4 561.4h0M435.7 552.1h0M441.9 583.0h0M442.3 574.1h0M441.5 569.9h0M441.7 724.9h0M441.4 734.5h0M442.0 739.9h0M446.3 646.3h0M446.3 653.1h0M445.3 576.3h0M445.2 716.8h0M448.0 720.2h0M448.4 605.7h0M448.3 596.5h0M447.3 735.2h0M447.3 744.0h0M446.3 751.5h0M444.2 663.8h0M442.4 587.7h0M437.4 631.6h0M438.5 686.2h0M432.9 692.3h0M442.1 589.6h0M445.5 675.4h0M433.2 716.8h0M428.5 667.5h0M445.3 690.8h0M446.6 653.8h0M446.6 585.8h0M444.8 608.3h0M441.1 732.1h0M438.0 709.5h0M441.8 709.5h0M427.7 653.9h0M441.1 690.9h0M447.1 606.6h0M438.5 674.9h0M435.9 720.7h0M438.1 590.0h0M440.9 693.9h0M442.1 654.3h0M437.3 710.8h0M442.2 687.7h0M444.6 594.6h0M442.2 711.0h0M442.9 724.8h0M435.8 695.6h0M443.5 694.2h0M438.3 653.2h0M446.8 612.5h0M434.2 604.7h0M445.2 708.0h0M435.0 640.5h0M444.0 677.7h0M436.6 725.8h0M438.6 593.1h0M435.2 633.3h0M430.7 675.5h0M439.1 687.5h0M446.5 611.4h0M433.4 677.4h0M442.9 685.4h0M428.7 700.7h0M432.6 589.9h0M447.7 596.3h0M447.3 611.5h0M431.9 720.1h0M442.8 727.0h0M428.4 684.2h0M436.6 621.4h0M436.5 702.7h0M437.3 722.7h0M447.1 672.2h0M430.1 599.0h0M438.8 706.8h0M448.4 689.7h0M427.6 718.9h0M439.9 598.4h0M442.2 723.8h0M433.3 667.4h0M440.7 672.2h0M434.6 663.6h0M446.8 664.0h0M431.1 667.0h0M443.1 590.6h0M445.5 652.2h0M432.1 613.1h0M429.3 710.2h0M444.6 642.7h0M448.1 613.1h0M427.7 707.0h0M443.4 606.7h0M434.2 591.0h0M439.2 660.9h0M440.7 709.0h0M445.2 631.7h0M436.3 602.2h0M439.7 638.6h0M442.1 625.6h0M435.1 679.3h0M430.7 615.2h0M439.2 681.5h0M430.1 642.1h0M437.0 641.4h0M429.0 684.8h0M442.1 616.8h0M438.7 706.7h0M443.0 580.1h0M434.2 612.9h0M445.7 686.8h0M443.2 580.7h0M443.1 600.6h0M431.4 650.5h0M440.2 617.9h0M445.5 691.7h0M447.7 600.9h0M437.4 635.4h0M435.8 594.1h0M446.4 597.9h0M428.7 581.2h0M444.1 713.1h0M434.3 608.1h0M433.4 645.4h0M440.4 619.8h0M443.0 692.4h0M446.9 724.0h0M443.1 724.3h0M443.8 638.5h0M428.1 612.0h0M447.3 681.0h0M444.6 587.4h0M515.9 745.3h0M512.6 746.9h0M516.3 749.5h0M517.3 742.7h0M452.6 683.0h0M453.3 690.4h0M453.1 700.4h0M457.0 613.7h0M457.3 663.8h0M458.6 682.8h0M457.3 562.1h0M462.3 567.5h0M466.2 622.7h0M465.3 693.2h0M466.1 567.1h0M470.7 669.6h0M470.0 570.3h0M468.9 560.8h0M470.3 677.4h0M459.9 622.5h0M460.9 640.4h0M452.1 597.4h0M467.5 574.5h0M468.3 678.8h0M460.4 674.3h0M468.6 615.4h0M466.2 594.8h0M459.0 590.9h0M457.4 684.7h0M463.6 608.7h0M453.4 670.4h0M469.1 686.0h0M452.5 663.1h0M457.3 593.5h0M460.9 606.4h0M469.1 588.3h0M458.5 590.0h0M465.1 628.2h0M460.8 675.6h0M462.7 630.4h0M467.8 639.3h0M468.5 645.9h0M465.2 632.3h0M453.7 638.8h0M468.1 658.7h0M469.6 600.5h0M467.8 590.0h0M451.8 575.1h0M455.5 596.8h0M466.3 630.1h0M468.0 612.9h0M454.4 604.2h0M455.2 660.3h0M469.2 634.4h0M462.0 636.4h0M464.7 667.8h0M467.1 622.7h0M461.0 624.9h0M454.7 579.2h0M467.1 622.1h0M454.8 575.3h0M452.1 620.8h0M462.3 677.7h0M465.9 617.7h0M462.6 573.0h0M454.6 621.9h0M462.7 649.8h0M468.9 612.6h0M459.0 587.0h0M456.9 592.8h0M467.1 643.3h0M466.4 578.2h0M460.6 646.9h0M455.8 633.0h0M452.4 646.2h0M462.9 645.9h0M452.4 634.3h0M458.4 597.5h0M470.2 631.7h0M464.9 628.3h0M468.4 589.8h0M460.7 652.5h0M454.8 587.4h0M460.8 633.3h0M468.0 645.7h0M456.0 609.0h0M467.3 589.6h0M457.5 608.1h0M462.9 654.2h0M454.5 621.4h0M467.8 647.4h0M467.8 670.2h0M461.5 602.7h0M457.6 632.2h0M468.6 603.2h0M466.4 600.7h0M456.1 576.9h0M459.0 665.1h0M459.4 643.2h0M454.1 556.6h0M461.4 552.8h0M457.3 563.0h0M454.3 562.7h0M463.3 555.5h0M455.6 561.2h0M462.1 557.0h0M466.2 559.6h0M468.2 557.0h0M460.1 563.3h0M452.0 730.4h0M452.0 725.3h0M452.0 735.3h0M452.0 739.5h0M496.6 684.3h0M497.0 733.5h0M497.7 598.4h0M498.6 591.4h0M497.1 579.7h0M495.8 617.1h0M499.1 596.1h0M499.5 662.5h0M498.7 707.7h0M500.0 614.0h0M496.3 675.8h0M499.2 607.3h0M497.6 701.2h0M496.4 578.6h0M500.1 564.4h0M496.6 566.0h0M497.8 675.8h0M496.7 583.4h0M498.0 597.4h0M498.3 632.3h0M496.9 695.5h0M496.9 653.6h0M495.8 704.4h0M496.5 670.1h0M500.4 598.6h0M498.9 574.1h0M500.0 670.2h0M499.0 569.4h0M497.4 659.5h0M496.8 685.5h0M498.3 597.1h0M499.8 667.7h0M496.8 619.4h0M498.8 666.8h0M497.7 671.0h0M495.9 599.9h0M496.1 674.4h0M499.1 677.5h0M498.6 617.3h0M498.0 632.0h0M496.3 694.6h0M496.2 608.4h0M499.2 703.2h0M496.1 687.6h0M496.8 711.4h0M506.0 676.0h0M503.9 623.4h0M504.9 731.4h0M511.2 612.6h0M509.1 736.8h0M512.1 634.6h0M513.3 628.3h0M517.0 636.5h0M516.2 659.7h0M516.9 743.3h0M520.0 672.7h0M521.5 601.7h0M521.8 596.7h0M520.7 588.1h0M520.4 719.8h0M520.9 726.3h0M521.6 737.1h0M523.2 743.3h0M522.4 754.1h0M511.0 647.9h0M517.1 679.5h0M515.2 721.0h0M515.5 686.6h0M518.8 646.3h0M519.0 728.9h0M516.4 727.0h0M510.2 656.2h0M515.4 625.5h0M514.5 630.8h0M515.9 731.1h0M504.0 658.7h0M504.0 659.5h0M510.7 619.2h0M506.6 692.4h0M513.7 700.2h0M511.0 703.3h0M516.9 710.4h0M509.8 676.9h0M505.1 656.5h0M514.1 716.9h0M522.9 706.3h0M509.5 666.4h0M519.2 724.9h0M523.0 662.8h0M510.5 707.1h0M514.0 718.4h0M512.7 636.4h0M511.7 683.8h0M518.5 663.4h0M523.8 635.9h0M511.8 642.6h0M507.0 720.8h0M522.6 731.9h0M515.2 623.7h0M504.4 647.1h0M523.4 658.0h0M523.3 663.7h0M504.5 711.8h0M518.7 687.8h0M515.1 701.8h0M507.2 659.4h0M511.8 633.3h0M516.6 684.2h0M506.8 721.6h0M505.3 663.3h0M507.7 709.3h0M507.4 626.5h0M520.6 662.1h0M519.1 703.4h0M521.7 659.8h0M520.3 680.4h0M520.7 651.5h0M505.9 694.5h0M522.7 655.2h0M515.2 687.5h0M505.3 692.0h0M519.9 655.3h0M503.8 659.0h0M512.2 690.1h0M507.3 624.4h0M522.1 684.4h0M512.5 711.3h0M505.4 699.8h0M521.0 665.6h0M512.0 728.2h0M506.9 694.2h0M513.9 678.1h0M516.9 687.4h0M517.5 648.3h0M519.4 671.5h0M508.9 637.7h0M519.3 728.1h0M521.8 712.3h0M523.6 734.2h0M514.8 705.0h0M505.3 622.3h0M505.9 692.9h0M523.3 674.9h0M522.6 641.9h0M518.1 694.5h0M506.4 655.4h0M518.5 681.4h0M518.2 678.4h0M520.8 688.7h0M515.6 717.6h0M521.4 695.5h0M524.3 694.4h0M521.7 681.6h0M520.6 661.2h0M512.5 602.3h0M521.7 608.2h0M521.1 601.1h0M521.8 613.1h0M507.5 588.5h0M510.7 595.1h0M520.2 609.4h0M516.5 580.8h0M511.9 602.6h0M520.9 583.6h0M520.9 606.5h0M519.6 601.2h0M523.3 604.2h0M512.9 612.8h0M514.4 612.4h0M515.3 605.6h0M517.8 579.4h0M506.9 609.4h0M505.6 593.8h0M514.9 608.5h0M508.7 590.2h0M520.5 593.6h0M518.6 583.5h0M518.0 595.6h0M522.6 593.4h0M511.8 589.3h0M508.4 600.6h0M522.3 649.5h0M522.3 653.7h0M523.5 728.1h0M522.7 608.8h0M523.9 600.3h0M523.0 736.2h0M522.4 747.7h0M523.6 754.9h0M526.5 571.5h0M526.7 602.5h0M527.6 560.1h0M526.6 548.6h0M531.2 599.4h0M530.2 580.9h0M531.8 570.8h0M531.5 563.2h0M531.9 718.6h0M532.3 722.9h0M530.0 732.5h0M537.3 617.5h0M537.5 702.5h0M536.9 577.8h0M536.1 571.4h0M536.1 738.3h0M536.3 744.4h0M538.9 677.3h0M523.2 698.0h0M527.4 632.0h0M539.4 613.2h0M538.1 628.5h0M537.6 714.1h0M531.6 707.0h0M527.6 617.4h0M536.0 684.5h0M539.2 645.2h0M538.8 585.4h0M539.6 609.0h0M534.5 710.4h0M538.0 660.8h0M535.9 640.0h0M533.9 603.8h0M524.3 692.1h0M531.8 696.7h0M522.9 603.2h0M535.3 652.5h0M524.3 678.6h0M531.9 614.3h0M526.3 669.1h0M540.2 628.8h0M525.8 670.7h0M534.5 674.6h0M529.6 695.2h0M526.9 698.3h0M538.9 716.5h0M531.6 610.7h0M534.2 583.2h0M535.6 620.0h0M538.1 584.4h0M539.2 640.1h0M527.5 662.0h0M540.3 701.8h0M529.8 649.8h0M523.9 662.2h0M525.2 590.7h0M530.4 587.2h0M528.4 655.5h0M537.1 623.8h0M534.3 621.7h0M527.8 623.8h0M529.7 589.6h0M531.7 705.8h0M529.4 665.3h0M532.0 657.1h0M522.6 581.6h0M527.1 703.4h0M522.2 661.5h0M524.3 579.1h0M524.4 675.8h0M522.2 644.5h0M535.6 671.6h0M529.1 707.2h0M532.0 609.7h0M525.3 697.6h0M525.8 628.1h0M535.6 660.4h0M528.9 606.3h0M522.3 639.2h0M533.5 689.4h0M523.4 635.1h0M524.4 702.6h0M529.2 651.4h0M535.7 665.5h0M521.7 689.1h0M522.6 661.9h0M531.6 701.4h0M537.7 671.7h0M530.1 595.2h0M527.1 698.4h0M528.6 690.2h0M529.2 606.9h0M530.8 709.1h0M538.4 661.4h0M525.4 721.1h0M529.0 627.8h0M526.8 613.7h0M522.3 634.1h0M529.1 705.1h0M535.0 655.7h0M539.6 608.3h0M531.4 717.4h0M522.0 603.3h0M524.4 603.1h0M530.8 667.0h0M540.1 631.0h0M539.4 606.7h0M523.3 671.5h0M537.3 667.9h0M546.4 729.3h0M545.9 734.8h0M548.8 625.3h0M549.4 573.4h0M548.6 567.6h0M548.7 562.0h0M548.6 704.9h0M546.5 622.4h0M548.3 607.9h0M544.5 564.1h0M545.5 602.5h0M544.5 713.0h0M548.3 580.4h0M546.5 718.9h0M544.6 701.8h0M549.6 616.5h0M545.0 693.9h0M548.8 592.3h0M548.6 648.6h0M544.1 654.8h0M546.8 616.1h0M550.2 596.0h0M548.0 591.7h0M545.5 681.8h0M545.1 680.7h0M547.0 576.5h0M548.9 691.1h0M548.1 704.6h0M544.2 711.0h0M545.0 586.9h0M549.0 582.1h0M549.1 594.4h0M549.7 583.0h0M545.7 699.9h0M562.5 658.8h0M563.1 639.6h0M562.6 643.6h0M563.6 722.1h0M564.5 730.4h0M563.7 739.7h0M567.2 609.0h0M566.1 699.7h0M566.5 575.1h0M568.0 564.1h0M566.7 559.7h0M567.6 709.5h0M566.7 720.9h0M562.1 654.6h0M561.9 677.0h0M562.8 581.2h0M563.9 593.6h0M566.1 686.3h0M566.0 604.7h0M563.7 602.9h0M565.8 574.6h0M566.7 726.1h0M566.8 682.3h0M565.0 645.0h0M564.6 653.0h0M562.8 658.7h0M560.7 585.9h0M562.2 723.6h0M565.0 717.2h0M565.9 693.9h0M564.0 669.3h0M559.9 589.6h0M559.7 642.3h0M559.9 599.9h0M560.5 720.0h0M562.2 610.2h0M566.7 668.2h0M562.5 615.3h0M567.5 601.1h0M560.0 638.5h0M565.7 681.1h0M560.4 641.8h0M564.5 686.6h0M565.7 643.2h0M566.2 651.4h0M560.6 596.9h0M560.7 680.7h0M559.7 609.4h0M568.3 705.4h0M564.0 588.2h0M562.9 607.4h0M561.9 653.4h0M567.3 593.9h0M565.2 595.2h0M560.9 654.6h0M566.7 617.2h0M565.1 715.8h0M564.7 631.6h0M562.3 690.4h0M565.5 676.6h0M565.4 672.9h0M563.9 724.7h0M560.5 582.8h0M563.9 716.5h0M563.4 715.1h0M563.3 655.5h0M566.1 718.6h0M564.0 640.5h0M567.9 637.2h0M565.0 660.6h0M584.4 636.9h0M582.5 649.3h0M584.1 654.1h0M584.6 658.2h0M582.8 667.3h0M582.9 679.1h0M587.5 562.7h0M587.5 697.8h0M588.4 707.9h0M586.9 568.0h0M582.8 642.0h0M585.9 663.8h0M586.5 588.6h0M585.8 629.1h0M588.1 678.6h0M585.1 607.6h0M586.1 615.4h0M584.6 572.0h0M582.8 619.5h0M584.4 616.1h0M586.6 569.0h0M583.4 652.6h0M583.7 594.3h0M587.7 548.6h0M584.1 570.2h0M588.3 672.7h0M587.8 615.3h0M585.5 628.2h0M586.6 653.1h0M587.5 628.1h0M582.1 642.9h0M584.4 615.9h0M586.7 670.2h0M586.1 630.7h0M588.4 548.8h0M586.5 560.0h0M585.4 581.1h0M584.1 659.0h0M583.8 668.2h0M585.9 668.3h0M585.9 628.8h0M606.2 663.9h0M606.6 597.9h0M616.4 732.6h0M618.2 707.4h0M618.7 734.7h0M620.3 596.3h0M621.2 703.4h0M621.5 712.4h0M620.5 719.0h0M621.1 724.9h0M606.2 682.4h0M612.8 612.6h0M622.7 662.2h0M620.9 668.8h0M606.7 654.2h0M616.6 664.1h0M612.4 631.9h0M616.4 631.7h0M606.3 707.3h0M609.7 606.9h0M609.5 617.5h0M614.5 672.5h0M624.0 710.1h0M608.9 671.2h0M619.9 623.5h0M621.0 683.7h0M606.8 719.3h0M613.4 604.3h0M607.7 592.4h0M610.1 719.0h0M613.6 674.3h0M618.4 639.6h0M622.0 609.6h0M617.3 625.8h0M612.5 632.1h0M609.3 626.0h0M620.6 663.2h0M613.9 718.4h0M612.0 682.9h0M612.5 705.2h0M609.8 638.0h0M613.4 699.2h0M613.6 621.2h0M621.6 715.3h0M621.6 695.1h0M610.1 624.2h0M619.1 636.8h0M623.4 620.0h0M609.0 624.1h0M607.9 597.1h0M620.4 718.1h0M619.4 625.5h0M622.6 617.7h0M614.9 606.5h0M616.3 714.0h0M607.3 631.2h0M618.9 660.9h0M618.8 680.5h0M622.1 667.8h0M616.9 653.1h0M611.2 687.7h0M609.0 646.1h0M622.2 694.4h0M607.7 664.7h0M606.2 663.6h0M624.1 614.6h0M611.0 601.5h0M622.4 713.3h0M610.5 619.6h0M611.1 600.7h0M614.7 698.9h0M611.0 600.3h0M623.1 718.9h0M609.4 659.4h0M618.3 622.3h0M618.9 627.0h0M609.8 605.6h0M619.0 650.8h0M623.2 620.3h0M611.0 690.8h0M608.5 658.4h0M620.4 595.1h0M610.3 674.2h0M612.3 715.5h0M622.7 712.5h0M618.8 596.7h0M620.9 696.9h0M606.1 589.6h0M619.0 622.6h0M615.9 632.8h0M619.1 669.0h0M621.7 673.0h0M624.1 591.0h0M618.9 621.8h0M610.0 719.2h0M610.2 610.9h0M607.0 599.9h0M614.0 639.2h0M606.8 565.2h0M613.6 521.0h0M612.5 567.3h0M617.8 541.2h0M606.8 536.1h0M615.5 579.2h0M615.6 520.1h0M618.2 567.4h0M623.3 579.4h0M607.0 540.9h0M616.5 550.1h0M607.0 578.2h0M621.8 563.2h0M610.0 546.5h0M618.6 575.1h0M613.5 529.1h0M608.2 564.5h0M639.9 554.4h0M640.4 652.7h0M638.5 670.5h0M640.3 680.8h0M640.4 690.1h0M639.2 700.9h0M644.8 694.1h0M646.7 537.8h0M648.0 533.8h0M647.4 675.1h0M652.9 683.9h0M641.3 558.8h0M643.0 564.2h0M653.3 564.5h0M640.3 555.9h0M653.4 629.2h0M638.9 552.1h0M644.3 585.9h0M650.8 653.8h0M641.5 551.0h0M641.7 570.4h0M641.2 579.6h0M648.1 607.3h0M651.9 657.2h0M645.2 612.6h0M645.6 677.9h0M644.2 607.0h0M640.1 668.2h0M650.1 638.9h0M650.0 600.2h0M650.7 577.5h0M637.6 638.5h0M649.4 625.5h0M646.1 622.0h0M638.2 623.9h0M651.2 553.2h0M641.7 618.4h0M643.9 640.1h0M640.0 630.6h0M645.5 653.1h0M647.7 640.2h0M642.1 670.3h0M643.3 631.2h0M642.9 661.9h0M649.1 625.9h0M652.3 670.0h0M643.4 585.1h0M642.7 582.6h0M642.1 564.6h0M649.7 599.4h0M651.2 551.8h0M642.4 676.2h0M651.3 680.7h0M652.9 666.8h0M647.8 676.9h0M639.9 610.6h0M646.6 652.8h0M646.9 576.7h0M651.4 617.0h0M647.8 552.0h0M653.2 554.1h0M653.2 632.4h0M645.0 634.9h0M645.1 673.2h0M650.5 552.3h0M644.4 592.6h0M649.9 592.4h0M643.1 674.1h0M646.4 594.2h0M641.4 551.8h0M640.9 576.8h0M649.4 676.0h0M643.7 558.8h0M637.9 679.5h0M651.6 665.3h0M648.9 616.9h0M642.7 596.5h0M645.3 576.7h0M644.3 674.3h0M645.8 618.4h0M645.3 616.8h0M651.7 635.5h0M649.2 671.8h0M649.6 643.0h0M650.8 604.8h0M647.3 585.0h0M651.4 657.8h0M645.1 635.4h0M652.7 592.1h0M646.7 665.2h0M645.7 561.1h0M640.7 562.1h0M643.7 520.3h0M648.8 523.2h0M638.8 520.0h0M639.1 540.7h0M639.1 528.6h0M650.2 540.8h0M642.4 519.0h0M650.3 536.1h0M653.3 562.4h0M651.6 557.3h0M652.6 679.0h0M652.1 683.5h0M653.0 598.5h0M652.0 591.5h0M651.5 634.5h0M651.9 651.6h0M651.6 583.8h0M652.8 638.8h0M652.1 587.3h0M653.2 639.2h0M652.5 585.6h0M652.2 638.9h0M651.8 632.5h0M653.2 615.6h0M652.6 616.2h0M651.7 631.2h0M651.7 669.6h0M653.4 672.5h0M653.2 597.9h0M661.7 589.0h0M663.7 672.5h0M662.5 655.2h0M662.3 615.0h0M662.1 632.0h0M662.5 665.1h0M662.0 665.8h0M662.2 602.8h0M663.5 645.8h0M662.0 638.2h0M662.6 639.0h0M662.8 628.0h0M661.9 590.9h0M664.0 595.8h0M663.9 611.1h0M663.5 620.9h0M663.0 606.1h0M662.4 596.9h0M685.0 609.4h0M684.3 621.9h0M683.9 646.0h0M684.9 650.7h0M685.5 544.2h0M685.1 534.0h0M686.0 526.2h0M684.4 640.9h0M686.2 629.8h0M685.6 599.5h0M684.5 549.7h0M686.2 621.6h0M684.3 632.9h0M685.2 548.4h0M684.5 563.9h0M685.7 626.7h0M685.4 585.2h0M686.0 581.9h0M771.6 633.3h0M773.0 568.2h0M773.2 692.1h0M778.4 575.0h0M776.2 618.0h0M777.6 687.3h0M779.0 669.6h0M776.7 646.5h0M773.5 589.3h0M778.1 668.5h0M773.5 665.7h0M775.3 638.6h0M779.4 671.3h0M778.8 663.7h0M777.7 664.1h0M778.8 605.9h0M776.7 583.9h0M773.4 675.0h0M773.2 620.2h0M773.4 602.7h0M775.2 588.2h0M778.1 601.2h0M772.9 625.7h0M775.8 620.2h0M780.1 675.7h0M779.1 637.6h0M772.8 649.2h0M773.7 635.2h0M772.9 648.6h0M773.5 675.2h0M778.4 636.3h0M772.6 600.0h0M775.5 651.8h0M775.7 670.2h0M776.5 605.2h0M773.4 585.2h0M778.8 669.8h0M779.0 670.3h0M779.0 629.5h0M775.1 639.8h0M779.8 598.9h0M780.0 652.3h0M772.8 581.6h0M773.6 562.4h0M774.6 554.8h0M777.4 497.0h0M774.9 501.8h0M773.4 510.3h0M777.4 526.4h0M776.3 522.7h0M776.9 531.8h0M773.6 488.1h0M774.9 545.5h0M778.0 528.2h0M778.4 541.4h0M778.1 538.4h0M778.6 508.5h0M774.3 538.6h0M776.9 530.8h0M774.3 549.7h0M786.7 594.5h0M786.5 505.1h0M787.3 652.8h0M787.5 659.4h0M787.9 528.6h0M786.0 582.1h0M789.0 638.2h0M787.5 524.9h0M789.7 526.8h0M786.9 606.7h0M787.9 560.3h0M788.5 546.6h0M789.3 527.5h0M785.8 568.7h0M789.4 644.3h0M790.0 581.0h0M790.0 577.0h0M788.1 550.8h0M788.6 560.1h0M789.8 568.5h0M790.0 601.8h0M787.4 615.7h0M786.7 592.5h0M787.7 558.0h0M785.7 541.7h0M789.4 525.2h0M787.2 552.1h0M786.0 595.1h0M789.8 584.7h0M790.2 560.1h0M789.5 525.4h0M786.4 628.2h0M785.8 591.3h0M787.9 637.5h0M788.6 629.0h0M785.9 546.1h0M788.4 596.2h0M797.1 622.9h0M798.6 663.5h0M798.9 696.2h0M797.6 700.4h0M797.0 547.7h0M798.5 706.9h0M802.1 724.5h0M803.3 732.3h0M803.0 744.2h0M807.2 662.9h0M808.0 713.7h0M808.8 718.4h0M811.8 687.3h0M810.2 537.5h0M812.0 532.9h0M810.3 699.3h0M797.6 655.9h0M805.0 570.8h0M804.7 651.8h0M797.1 670.8h0M798.7 567.5h0M809.4 620.9h0M797.7 659.3h0M799.2 635.2h0M797.3 660.5h0M806.3 603.0h0M797.0 657.4h0M800.6 687.0h0M811.5 562.1h0M796.7 556.8h0M795.8 552.5h0M811.9 597.3h0M808.2 651.1h0M807.5 602.0h0M801.0 583.1h0M796.1 637.7h0M798.1 650.2h0M799.1 582.1h0M800.4 567.9h0M803.0 679.1h0M797.1 656.9h0M796.2 589.3h0M800.3 606.7h0M808.6 554.6h0M803.0 611.6h0M800.2 575.4h0M799.4 640.6h0M809.9 694.4h0M801.9 559.3h0M800.5 664.2h0M801.7 615.7h0M798.9 688.3h0M806.6 621.8h0M803.7 559.8h0M803.3 690.6h0M805.7 657.8h0M801.3 622.2h0M806.9 627.6h0M800.1 574.7h0M800.9 609.7h0M805.9 576.5h0M809.6 584.3h0M805.9 654.9h0M807.9 678.7h0M807.2 572.0h0M801.9 564.0h0M811.6 598.4h0M805.3 688.0h0M806.5 697.9h0M803.4 684.5h0M805.7 603.8h0M802.3 662.0h0M797.5 654.6h0M804.3 616.7h0M797.1 653.7h0M796.4 578.2h0M812.2 557.6h0M811.2 629.3h0M801.3 574.3h0M810.7 580.8h0M806.9 627.1h0M798.1 572.3h0M798.7 561.0h0M812.2 588.8h0M811.6 592.0h0M804.3 578.3h0M806.4 597.3h0M796.0 573.6h0M802.9 562.2h0M797.1 608.4h0M805.9 588.3h0M806.1 657.3h0M807.9 707.3h0M811.7 603.4h0M804.8 698.8h0M809.0 671.2h0M810.2 629.9h0M801.7 620.4h0M808.0 618.8h0M797.2 689.4h0M797.7 700.2h0M809.0 625.6h0M812.1 575.2h0M800.7 565.3h0M798.4 619.7h0M796.7 663.3h0M803.1 615.0h0M802.6 599.0h0M809.5 577.7h0M807.6 570.3h0M807.9 607.7h0M798.2 675.6h0M796.9 675.0h0M817.8 716.4h0M820.5 528.8h0M820.4 516.9h0M819.4 506.7h0M820.8 737.5h0M820.8 747.6h0M821.6 601.1h0M823.5 726.0h0M823.9 514.5h0M828.5 568.0h0M827.7 524.3h0M827.9 729.1h0M829.8 584.3h0M832.3 573.2h0M833.6 635.1h0M832.3 524.6h0M833.2 512.8h0M834.0 712.2h0M815.7 541.3h0M829.0 610.6h0M824.1 658.1h0M820.3 714.6h0M823.0 605.4h0M825.6 570.0h0M829.3 612.8h0M831.2 586.6h0M816.8 535.3h0M826.7 657.1h0M816.4 688.1h0M827.7 579.0h0M831.9 583.9h0M821.6 719.9h0M827.9 638.7h0M833.8 555.1h0M823.4 629.4h0M825.6 579.1h0M819.8 541.8h0M821.1 588.9h0M829.4 576.1h0M821.3 644.9h0M819.2 625.3h0M827.6 699.1h0M824.4 584.4h0M820.9 649.9h0M831.4 559.4h0M826.0 600.7h0M823.8 659.1h0M830.2 688.6h0M817.2 693.7h0M822.1 652.2h0M831.3 608.9h0M834.2 678.4h0M820.4 568.0h0M830.6 581.5h0M823.0 623.9h0M830.0 606.6h0M830.9 610.3h0M828.7 604.0h0M826.0 571.2h0M824.5 670.2h0M819.7 568.9h0M816.7 577.8h0M821.1 614.8h0M824.8 542.1h0M823.0 598.4h0M817.0 547.9h0M830.5 526.5h0M818.6 624.8h0M817.1 710.6h0M833.4 700.5h0M820.4 685.2h0M832.8 630.1h0M823.1 584.6h0M827.9 668.0h0M827.0 634.2h0M816.0 597.1h0M829.9 535.6h0M817.9 576.1h0M822.3 546.8h0M824.3 648.5h0M821.0 665.0h0M821.8 561.6h0M829.3 547.2h0M824.2 541.3h0M820.8 693.6h0M822.4 643.7h0M822.3 598.2h0M833.9 632.9h0M821.2 574.1h0M818.0 625.0h0M819.5 709.0h0M831.4 537.4h0M824.9 648.9h0M828.2 658.6h0M818.9 663.9h0M832.1 713.5h0M815.6 626.6h0M829.0 715.9h0M818.4 635.7h0M822.0 662.1h0M830.1 645.8h0M831.9 699.9h0M830.9 561.4h0M828.0 700.3h0M819.4 549.3h0M827.2 549.5h0M821.0 611.5h0M818.3 540.9h0M829.1 617.2h0M831.9 648.6h0M823.7 577.0h0M822.1 699.4h0M822.0 598.0h0M833.1 525.3h0M832.6 541.0h0M820.2 592.5h0M824.5 674.5h0M832.0 523.9h0M819.5 718.7h0M823.1 647.0h0M832.8 664.7h0M832.7 570.8h0M821.5 707.7h0M828.1 694.2h0M830.9 539.2h0M831.0 671.3h0M819.4 628.2h0M818.6 639.0h0M833.0 668.7h0M821.3 542.4h0M830.6 700.1h0M824.7 594.3h0M825.0 692.4h0M819.3 543.5h0M817.9 592.6h0M832.8 538.8h0M818.2 548.0h0M830.7 597.1h0M832.9 567.0h0M816.5 553.1h0M819.8 706.4h0M833.9 532.6h0M816.8 619.5h0M821.0 606.4h0M816.5 523.2h0M821.0 568.0h0M828.2 580.3h0M824.6 523.3h0M833.1 703.1h0M825.1 553.2h0M821.1 691.0h0M888.5 565.7h0M889.3 637.1h0M886.8 644.0h0M890.1 608.9h0M889.4 636.2h0M888.9 677.6h0M888.4 655.3h0M890.1 640.3h0M888.9 567.8h0M888.0 654.8h0M887.6 675.1h0M890.0 654.4h0M887.3 676.4h0M888.1 658.4h0M887.4 646.1h0M888.4 626.0h0M886.9 588.2h0M888.5 569.2h0M890.3 601.9h0M886.7 628.8h0M889.6 567.0h0M889.8 633.8h0M887.2 574.0h0M887.7 605.2h0M889.1 609.5h0M886.9 606.8h0M905.3 620.4h0M903.2 601.0h0M903.1 676.9h0M903.9 681.3h0M903.1 598.5h0M903.6 619.9h0M904.5 671.9h0M904.8 634.4h0M904.6 602.5h0M918.1 599.2h0M917.6 651.0h0M916.8 516.9h0M916.7 507.7h0M919.7 662.3h0M920.7 669.4h0M919.6 676.0h0M922.1 534.0h0M921.9 677.4h0M927.2 650.6h0M922.3 633.8h0M925.6 618.3h0M920.6 548.8h0M922.7 659.8h0M920.7 582.0h0M916.1 617.0h0M922.0 537.4h0M919.2 656.7h0M917.9 589.2h0M917.9 657.4h0M919.1 618.9h0M918.7 556.6h0M918.9 600.2h0M918.4 637.3h0M925.9 543.7h0M927.0 586.2h0M918.6 543.3h0M921.3 644.6h0M925.7 579.0h0M926.3 642.3h0M923.0 611.7h0M917.8 662.7h0M917.6 537.3h0M922.8 539.1h0M916.1 649.7h0M921.8 556.6h0M923.3 616.9h0M926.8 566.9h0M922.6 654.0h0M920.6 595.8h0M927.3 540.8h0M924.1 573.2h0M916.8 557.1h0M921.5 603.4h0M918.9 622.5h0M915.8 567.6h0M918.5 646.5h0M920.6 600.4h0M928.4 618.7h0M925.8 651.6h0M917.7 545.5h0M915.8 560.4h0M925.4 651.1h0M923.9 537.4h0M916.5 549.7h0M917.8 630.2h0M923.1 573.2h0M923.7 562.8h0M922.4 575.1h0M927.8 553.2h0M925.9 642.2h0M926.1 605.3h0M925.7 615.6h0M916.5 539.1h0M920.0 600.0h0M928.1 640.0h0M921.4 571.2h0M921.2 662.8h0M922.7 562.4h0M918.8 542.6h0M921.5 641.1h0M923.3 564.0h0M921.5 641.2h0M921.4 546.0h0M933.0 665.6h0M933.9 525.0h0M932.0 516.0h0M931.9 507.5h0M933.8 694.1h0M935.8 558.4h0M938.1 666.0h0M937.8 677.2h0M944.5 568.7h0M942.7 651.1h0M943.9 538.7h0M943.1 530.3h0M944.6 518.4h0M943.5 714.7h0M943.5 719.1h0M947.6 598.3h0M947.6 646.1h0M945.3 680.8h0M932.4 690.3h0M948.1 596.8h0M948.2 693.4h0M948.4 633.1h0M934.8 636.7h0M938.5 663.1h0M942.6 597.3h0M934.2 546.9h0M939.7 607.1h0M941.4 679.7h0M945.9 581.7h0M933.0 635.5h0M947.3 687.1h0M942.3 546.1h0M938.5 587.6h0M941.0 689.9h0M933.5 636.1h0M946.4 652.1h0M931.8 576.8h0M933.5 576.9h0M937.0 542.7h0M935.3 609.6h0M941.4 690.9h0M937.2 628.1h0M933.1 571.7h0M932.6 549.1h0M939.1 576.2h0M943.3 676.3h0M944.7 545.4h0M943.5 660.9h0M933.4 615.5h0M947.6 687.0h0M941.8 640.1h0M946.0 671.7h0M944.7 611.2h0M945.8 596.5h0M934.1 623.8h0M937.7 553.8h0M945.4 624.6h0M938.4 684.2h0M942.1 559.9h0M938.1 630.0h0M932.9 608.6h0M945.5 673.7h0M936.3 677.2h0M932.2 696.3h0M946.4 561.7h0M941.2 577.1h0M942.2 624.0h0M944.5 611.6h0M941.7 603.8h0M941.2 689.5h0M935.3 632.6h0M939.6 638.2h0M940.5 592.8h0M934.2 650.3h0M931.9 574.2h0M946.3 664.1h0M933.9 660.7h0M934.0 674.8h0M933.7 679.3h0M937.2 555.8h0M938.7 692.5h0M944.0 665.6h0M946.1 565.0h0M939.2 630.6h0M936.2 678.5h0M942.1 602.4h0M942.1 652.5h0M936.4 556.9h0M945.5 566.3h0M933.5 556.7h0M933.4 666.0h0M933.1 696.0h0M933.0 658.3h0M947.3 642.8h0M938.8 579.2h0M941.0 646.0h0M937.6 568.9h0M931.7 564.8h0M934.0 545.9h0M946.7 610.5h0M948.3 690.8h0M943.3 543.8h0M932.6 691.6h0M931.7 686.6h0M935.1 690.8h0M933.8 565.3h0M943.4 615.3h0M945.8 553.9h0M941.9 559.0h0M934.2 574.3h0M948.2 614.4h0M935.1 657.3h0M946.6 544.8h0M955.5 577.4h0M955.6 702.2h0M954.5 707.9h0M956.3 713.2h0M960.2 642.4h0M959.6 673.0h0M958.3 718.5h0M958.4 725.2h0M960.2 736.3h0M963.4 637.0h0M964.0 710.3h0M965.3 717.4h0M964.5 724.0h0M967.3 694.1h0M963.1 633.2h0M967.8 677.5h0M958.2 623.6h0M956.8 665.5h0M956.5 638.3h0M959.2 576.8h0M955.7 705.9h0M965.3 635.0h0M953.7 583.8h0M961.6 679.8h0M958.6 688.9h0M955.7 660.8h0M953.7 602.8h0M963.8 696.2h0M959.2 651.4h0M960.9 642.3h0M964.8 626.5h0M959.0 647.7h0M964.6 605.7h0M955.0 695.2h0M959.6 638.6h0M961.4 688.9h0M957.0 650.5h0M958.9 707.8h0M962.9 660.8h0M956.5 652.3h0M955.2 672.8h0M954.3 658.1h0M956.6 589.5h0M956.6 690.5h0M959.2 587.4h0M962.3 699.7h0M966.4 581.3h0M960.9 641.6h0M955.3 684.2h0M961.6 657.9h0M966.7 648.0h0M957.1 594.8h0M958.7 598.8h0M963.0 652.6h0M957.8 682.4h0M964.3 610.6h0M967.7 655.9h0M964.8 585.8h0M957.1 673.6h0M955.1 626.3h0M959.7 664.2h0M955.5 667.0h0M967.0 591.3h0M954.8 604.2h0M955.1 622.3h0M955.0 672.6h0M956.5 602.3h0M957.1 695.6h0M967.3 601.5h0M961.3 620.9h0M957.0 579.4h0M965.9 688.5h0M962.8 603.6h0M963.8 599.6h0M961.7 678.7h0M960.5 651.7h0M958.9 635.2h0M954.8 589.5h0M965.1 634.9h0M960.0 687.8h0M958.9 615.5h0M964.8 697.3h0M954.3 626.2h0M958.8 697.8h0M957.3 675.9h0M962.0 653.4h0M955.1 698.9h0M967.5 683.6h0M961.8 667.6h0M969.9 528.0h0M971.0 657.4h0M973.3 553.4h0M974.2 511.7h0M974.6 503.1h0M976.4 624.9h0M970.2 559.5h0M976.1 580.4h0M970.4 630.7h0M969.0 545.5h0M972.0 531.9h0M974.7 634.5h0M973.1 652.2h0M972.7 566.0h0M968.5 577.9h0M970.9 585.1h0M970.4 605.2h0M972.0 556.4h0M971.4 577.6h0M970.0 596.2h0M968.0 555.2h0M971.3 612.5h0M968.6 622.1h0M973.5 649.1h0M971.9 555.8h0M975.0 555.9h0M969.9 564.0h0M974.2 527.1h0M970.2 616.4h0M975.1 563.6h0M973.4 582.7h0M971.6 570.9h0M975.0 560.1h0M972.9 620.1h0M975.4 592.0h0M970.1 624.3h0M967.7 532.8h0M968.3 563.6h0M975.1 557.3h0M975.8 618.1h0M973.7 650.2h0M972.0 645.5h0M968.4 560.7h0M974.7 608.9h0M974.1 549.6h0M972.2 566.8h0M968.1 623.9h0M970.3 541.2h0M972.5 586.5h0M980.0 578.0h0M981.4 702.0h0M981.4 710.6h0M981.9 716.1h0M986.2 579.8h0M986.5 604.1h0M985.9 683.6h0M985.9 711.5h0M986.4 721.3h0M991.7 592.8h0M990.5 714.8h0M990.7 723.2h0M990.4 730.1h0M981.5 604.1h0M980.0 666.5h0M980.9 592.2h0M992.3 649.3h0M989.2 650.4h0M991.9 640.7h0M987.4 602.6h0M989.8 597.3h0M983.9 692.1h0M983.7 612.5h0M985.0 609.0h0M985.8 587.2h0M980.4 648.0h0M983.0 584.7h0M984.9 701.1h0M982.5 695.3h0M984.5 668.0h0M989.0 639.6h0M990.2 684.2h0M981.9 651.9h0M992.0 650.0h0M985.6 628.2h0M985.1 636.1h0M982.2 606.8h0M982.0 622.5h0M982.5 673.1h0M983.4 662.4h0M991.6 689.7h0M988.7 692.2h0M987.2 698.6h0M981.8 687.3h0M988.5 650.0h0M984.7 651.8h0M992.4 671.0h0M985.9 695.2h0M990.1 607.2h0M989.5 594.9h0M991.2 602.9h0M991.8 631.0h0M982.8 603.7h0M989.4 593.9h0M981.0 690.3h0M987.7 654.1h0M989.7 651.9h0M984.2 638.3h0M990.9 585.0h0M984.1 671.3h0M981.2 642.2h0M981.4 614.0h0M989.2 664.1h0M983.3 629.1h0M982.2 589.3h0M991.5 691.8h0M992.1 610.2h0M981.0 677.7h0M1000.4 489.5h0M1002.6 665.5h0M1000.3 671.4h0M1002.1 676.2h0M1007.3 505.4h0M1007.1 497.6h0M1007.3 673.8h0M1012.4 566.1h0M1012.5 647.3h0M1011.3 694.1h0M1011.5 703.1h0M1010.2 710.2h0M1001.1 530.6h0M1012.2 634.6h0M1004.0 685.9h0M1000.6 610.5h0M1009.1 573.8h0M1010.8 629.2h0M1009.3 528.1h0M1006.6 571.8h0M1012.0 674.8h0M1010.6 571.7h0M1006.7 606.1h0M1009.1 657.4h0M1008.9 509.2h0M1002.7 676.1h0M1009.2 567.0h0M1000.8 688.0h0M1007.7 638.7h0M1005.1 615.2h0M1003.7 593.6h0M1012.2 515.5h0M999.8 662.3h0M1011.3 510.1h0M1008.5 504.9h0M1001.8 519.5h0M1010.4 531.5h0M999.9 666.9h0M1009.8 514.4h0M1002.7 582.4h0M1005.5 524.5h0M1003.4 646.4h0M1011.0 622.5h0M1003.0 679.5h0M1004.7 526.8h0M1009.3 619.0h0M1000.1 569.9h0M1003.0 659.3h0M1002.5 555.8h0M1004.7 526.7h0M1011.1 558.8h0M1001.0 529.3h0M1006.5 644.3h0M1004.3 550.0h0M1005.4 648.2h0M1004.9 575.2h0M1009.5 645.2h0M1008.1 565.4h0M1005.0 685.2h0M1011.4 682.7h0M1004.4 649.9h0M1008.0 663.7h0M1010.3 641.6h0M1011.5 525.7h0M999.7 516.5h0M1003.8 555.1h0M1003.1 581.9h0M1008.5 624.7h0M1004.2 582.0h0M1006.0 676.0h0M999.8 634.3h0M1002.7 584.0h0M1002.6 620.9h0M1009.0 562.6h0M1004.7 508.7h0M1007.9 523.5h0M1002.8 557.2h0M1010.2 619.8h0M1008.6 514.4h0M1004.9 634.0h0M1000.0 540.1h0M1002.6 678.9h0M1007.0 570.7h0M1003.7 504.7h0M1011.5 516.6h0M1000.6 598.9h0M1006.6 535.0h0M1003.5 522.9h0M1004.4 588.9h0M1001.2 608.2h0M1010.3 655.1h0M1004.9 581.9h0M1001.0 582.1h0M1007.4 638.0h0M1009.1 599.9h0M1004.0 657.7h0M1011.6 588.5h0M1002.9 546.1h0M1001.4 654.0h0M1000.0 538.4h0M1004.8 547.8h0M1005.9 675.1h0M1018.3 589.0h0M1020.0 573.0h0M1020.5 714.9h0M1023.3 662.3h0M1023.9 667.9h0M1023.3 531.7h0M1023.6 521.1h0M1022.7 511.0h0M1024.3 724.8h0M1026.4 707.9h0M1028.3 538.0h0M1027.9 713.5h0M1025.3 620.6h0M1020.0 665.8h0M1026.5 638.8h0M1027.6 549.3h0M1018.6 602.5h0M1026.3 588.7h0M1024.2 639.3h0M1020.9 624.3h0M1023.1 642.4h0M1027.4 618.2h0M1020.2 613.1h0M1019.8 621.1h0M1020.1 545.8h0M1023.9 541.7h0M1023.6 624.1h0M1022.1 553.9h0M1026.3 577.2h0M1021.9 606.6h0M1022.1 609.1h0M1026.1 555.9h0M1021.5 589.4h0M1025.1 689.9h0M1022.1 610.3h0M1020.4 616.8h0M1019.6 656.5h0M1022.7 685.0h0M1023.6 538.2h0M1025.9 617.7h0M1025.4 566.1h0M1027.6 619.0h0M1024.2 636.1h0M1025.2 637.7h0M1017.8 640.2h0M1027.2 698.6h0M1024.7 611.9h0M1025.8 670.0h0M1017.6 622.1h0M1023.4 614.0h0M1021.3 565.7h0M1026.0 587.3h0M1018.2 538.0h0M1025.2 537.1h0M1025.6 643.5h0M1025.5 681.6h0M1023.9 618.0h0M1021.8 588.9h0M1020.8 690.9h0M1019.9 692.5h0M1022.4 537.1h0M1025.3 657.2h0M1028.3 548.9h0M1024.5 700.8h0M1025.9 701.7h0M1018.9 572.0h0M1024.9 555.9h0M1017.8 697.7h0M1025.8 658.3h0M1021.9 619.0h0M1020.5 611.9h0M1019.3 705.5h0M1025.6 601.6h0M1024.6 564.8h0M1017.9 641.9h0M1020.6 584.1h0M1021.9 706.6h0M1028.1 669.8h0M1023.5 680.9h0M1020.9 693.7h0M1025.9 584.4h0M1025.9 610.1h0M1020.7 522.6h0M1022.0 519.9h0M1026.7 525.1h0M1024.4 518.9h0M1036.0 641.2h0M1035.6 651.9h0M1037.7 661.1h0M1040.1 494.2h0M1039.7 611.3h0M1039.7 633.0h0M1040.6 635.7h0M1039.9 464.6h0M1040.4 455.5h0M1040.5 666.4h0M1044.0 510.1h0M1046.4 516.5h0M1046.2 641.6h0M1044.8 456.7h0M1043.9 653.0h0M1048.2 487.6h0M1047.1 537.8h0M1047.5 441.7h0M1046.7 435.2h0M1041.4 560.2h0M1038.9 503.5h0M1035.9 652.5h0M1047.0 652.6h0M1046.4 601.8h0M1041.1 548.1h0M1042.8 564.3h0M1043.4 511.5h0M1044.1 596.7h0M1046.9 640.7h0M1037.8 474.6h0M1039.8 624.7h0M1036.8 610.4h0M1043.6 553.2h0M1043.9 583.3h0M1041.2 595.1h0M1047.5 562.5h0M1036.5 552.8h0M1046.8 511.1h0M1047.2 631.1h0M1039.8 488.7h0M1036.4 473.3h0M1036.1 510.9h0M1045.7 595.9h0M1042.1 555.9h0M1044.5 623.7h0M1040.0 464.2h0M1045.0 651.8h0M1036.4 590.5h0M1042.8 546.8h0M1038.4 490.3h0M1038.6 620.3h0M1039.1 561.8h0M1047.4 579.9h0M1044.3 620.1h0M1048.1 639.9h0M1039.2 641.8h0M1047.7 541.0h0M1042.5 465.8h0M1043.5 612.3h0M1048.1 521.1h0M1040.0 554.8h0M1044.7 585.8h0M1041.0 541.0h0M1044.5 500.1h0M1043.1 521.4h0M1035.9 650.7h0M1045.0 515.9h0M1046.2 505.3h0M1036.5 593.2h0M1038.4 531.3h0M1038.7 632.3h0M1042.6 599.1h0M1038.9 551.7h0M1041.6 610.8h0M1035.7 528.4h0M1047.5 561.0h0M1039.8 646.2h0M1047.2 646.3h0M1038.5 600.6h0M1047.1 494.6h0M1036.7 645.2h0M1048.1 571.2h0M1047.1 517.9h0M1040.8 488.1h0M1037.6 560.4h0M1044.6 476.7h0M1042.9 466.9h0M1037.1 568.8h0M1047.9 478.4h0M1044.1 533.5h0M1041.9 545.1h0M1044.3 607.9h0M1046.2 521.4h0M1038.3 481.0h0M1037.9 597.3h0M1042.1 624.3h0M1042.1 617.6h0M1039.0 556.8h0M1037.4 596.4h0M1042.3 623.6h0M1036.7 487.8h0M1044.8 606.1h0M1036.9 647.5h0M1040.1 493.2h0M1038.9 650.6h0M1038.4 521.4h0M1039.6 503.7h0M1046.6 557.4h0M1036.2 600.8h0M1038.3 495.2h0M1048.2 478.8h0M1042.5 577.1h0M1042.5 641.8h0M1047.7 571.3h0M1037.6 439.3h0M1045.4 448.1h0M1040.2 444.7h0M1044.1 444.2h0M1044.9 446.4h0M1037.4 445.5h0M1044.9 454.7h0M1044.0 444.3h0M1053.9 668.6h0M1052.0 677.6h0M1053.5 688.4h0M1052.2 531.8h0M1053.2 544.6h0M1052.3 565.1h0M1051.9 652.8h0M1054.3 541.0h0M1054.3 587.2h0M1052.6 574.2h0M1052.9 646.8h0M1054.3 629.7h0M1053.6 532.7h0M1054.1 627.6h0M1051.9 593.3h0M1053.0 547.2h0M1054.2 602.4h0M1052.6 567.9h0M1052.7 612.7h0M1053.2 552.7h0M1053.0 651.9h0M1054.3 610.3h0M1051.8 626.1h0M1052.6 598.7h0M1054.1 568.0h0M1060.0 665.4h0M1060.7 586.5h0M1059.6 615.3h0M1058.9 565.5h0M1061.8 583.1h0M1058.8 579.6h0M1059.9 592.2h0M1060.1 583.1h0M1060.0 619.5h0M1062.3 622.5h0M1063.0 663.3h0M1059.1 538.2h0M1059.9 547.6h0M1063.0 552.3h0M1060.0 629.9h0M1060.5 550.5h0M1059.6 593.2h0M1060.2 534.6h0M1062.8 647.6h0M1060.9 669.0h0M1061.8 593.1h0M1061.0 575.5h0M1060.8 591.1h0M1059.9 636.5h0M1060.2 657.4h0M1063.3 659.2h0M1059.9 615.8h0M1062.0 546.1h0M1061.6 578.1h0M1059.1 612.3h0M1062.8 592.2h0M1060.4 557.9h0M1062.5 586.5h0M1062.1 668.1h0M1082.5 666.0h0M1082.9 548.4h0M1081.7 541.7h0M1084.6 668.7h0M1085.7 556.1h0M1086.0 545.1h0M1090.8 614.3h0M1088.9 698.1h0M1090.8 562.1h0M1089.7 708.1h0M1092.6 616.2h0M1093.7 677.1h0M1093.7 587.2h0M1084.1 680.9h0M1085.1 589.5h0M1086.2 562.1h0M1086.1 623.9h0M1088.3 558.5h0M1088.0 638.4h0M1083.2 677.4h0M1092.5 572.0h0M1086.5 619.6h0M1083.3 614.8h0M1083.1 662.6h0M1088.5 600.5h0M1081.8 642.1h0M1085.8 567.0h0M1092.1 610.6h0M1083.2 557.3h0M1082.5 569.9h0M1087.4 588.0h0M1094.0 633.2h0M1088.5 555.0h0M1092.5 641.3h0M1089.1 588.4h0M1084.3 637.7h0M1084.9 626.1h0M1093.9 589.8h0M1092.4 643.1h0M1087.5 609.5h0M1088.8 690.1h0M1088.2 637.7h0M1091.7 587.4h0M1094.0 655.7h0M1084.6 602.6h0M1092.4 650.4h0M1087.3 646.2h0M1086.1 681.8h0M1083.3 597.0h0M1094.0 657.7h0M1092.2 603.3h0M1088.2 580.4h0M1090.9 579.7h0M1092.2 636.5h0M1087.4 659.3h0M1087.9 650.9h0M1094.2 664.5h0M1093.0 614.7h0M1089.8 622.9h0M1088.6 584.7h0M1088.5 634.0h0M1092.8 624.6h0M1086.3 618.3h0M1089.3 621.7h0M1086.7 563.7h0M1089.8 656.8h0M1089.5 678.5h0M1085.8 660.6h0M1084.2 680.9h0M1082.7 690.4h0M1088.4 657.4h0M1087.2 672.8h0M1087.2 682.0h0M1088.4 569.0h0M1090.0 562.5h0M1082.0 630.0h0M1092.5 668.6h0M1084.9 575.0h0M1084.7 679.3h0M1091.3 590.6h0M1081.8 627.9h0M1092.5 610.5h0M1092.8 648.5h0M1089.2 694.8h0M1090.0 656.1h0M1093.9 619.0h0M1090.2 534.3h0M1085.3 540.0h0M1093.3 543.6h0M1090.9 543.3h0M1083.4 537.5h0M1084.4 533.9h0M1090.6 544.7h0M1088.3 536.4h0M1090.2 532.7h0M1081.6 532.8h0M1104.3 602.9h0M1104.8 593.1h0M1104.7 588.9h0M1107.8 587.0h0M1109.3 581.5h0M1107.4 572.6h0M1107.7 703.6h0M1107.4 711.5h0M1106.4 628.5h0M1109.0 617.1h0M1104.9 706.4h0M1104.9 703.5h0M1110.4 685.6h0M1106.9 689.2h0M1106.3 649.3h0M1107.7 600.6h0M1105.0 604.1h0M1107.9 608.5h0M1106.3 671.5h0M1105.8 672.7h0M1109.5 613.0h0M1105.6 679.8h0M1109.7 693.2h0M1109.6 629.7h0M1103.2 638.6h0M1109.4 637.8h0M1107.3 603.0h0M1106.5 681.8h0M1104.9 699.3h0M1105.1 691.3h0M1103.8 608.5h0M1108.6 634.9h0M1103.1 687.4h0M1106.1 623.0h0M1108.2 616.4h0M1103.8 621.9h0M1106.2 624.5h0M1109.6 621.9h0M1106.6 604.4h0M1107.1 608.8h0M1107.8 628.4h0M1110.0 689.6h0M1105.3 606.7h0M1104.3 702.9h0M1108.8 667.7h0M1106.4 715.8h0M1108.2 651.1h0M1109.4 701.2h0M1106.3 647.2h0M1109.3 658.1h0M1113.0 689.3h0M1112.5 542.9h0M1113.8 538.3h0M1112.5 696.2h0M1113.8 706.8h0M1112.3 717.0h0M1117.7 667.9h0M1117.5 522.8h0M1121.5 635.2h0M1122.5 519.9h0M1121.0 513.4h0M1121.6 502.0h0M1121.6 699.0h0M1120.8 704.4h0M1113.7 604.0h0M1112.7 655.9h0M1118.7 602.0h0M1121.8 602.3h0M1117.5 610.8h0M1120.4 648.7h0M1117.8 656.0h0M1120.3 656.7h0M1116.9 638.9h0M1114.2 562.6h0M1121.4 612.2h0M1116.7 656.7h0M1117.6 592.1h0M1114.0 533.3h0M1122.2 592.8h0M1117.6 524.0h0M1115.6 665.7h0M1119.9 532.9h0M1116.0 662.8h0M1121.2 543.2h0M1113.8 582.3h0M1119.8 533.0h0M1116.8 572.0h0M1113.0 677.4h0M1112.4 564.0h0M1119.7 678.5h0M1111.8 659.6h0M1118.1 669.2h0M1114.1 593.8h0M1115.2 649.1h0M1115.7 548.3h0M1121.9 665.6h0M1114.2 640.3h0M1115.0 647.8h0M1113.0 546.8h0M1117.7 669.1h0M1118.6 531.4h0M1112.7 648.6h0M1119.5 673.5h0M1122.1 541.5h0M1121.9 574.1h0M1118.1 550.8h0M1113.2 645.8h0M1113.9 578.7h0M1112.2 613.5h0M1115.4 629.8h0M1115.9 623.3h0M1116.1 560.4h0M1117.6 625.8h0M1112.3 642.7h0M1122.2 523.6h0M1117.5 571.4h0M1113.7 544.5h0M1115.1 643.1h0M1120.4 653.2h0M1121.5 567.5h0M1117.4 639.0h0M1117.3 538.7h0M1115.6 567.8h0M1112.3 593.1h0M1113.5 667.7h0M1119.5 650.5h0M1113.2 565.1h0M1113.3 623.9h0M1117.9 662.7h0M1115.1 573.3h0M1119.9 573.3h0M1116.0 623.9h0M1114.6 460.7h0M1121.0 464.3h0M1114.3 493.9h0M1119.1 481.7h0M1115.4 513.7h0M1120.7 509.4h0M1115.7 485.9h0M1119.3 503.8h0M1133.3 572.5h0M1132.4 577.9h0M1132.1 537.0h0M1131.7 649.3h0M1133.3 657.0h0M1133.3 666.4h0M1133.9 661.1h0M1133.3 588.6h0M1134.3 570.0h0M1133.6 658.5h0M1133.4 633.5h0M1132.6 628.2h0M1132.9 570.0h0M1134.1 626.5h0M1132.9 579.7h0M1134.2 569.6h0M1132.1 558.2h0M1134.4 657.2h0M1134.1 581.9h0M1132.4 580.5h0M1132.7 579.9h0M1132.8 533.7h0M1132.9 531.6h0M1138.8 618.0h0M1138.9 557.6h0M1139.7 731.0h0M1139.5 743.0h0M1138.0 751.3h0M1143.9 592.1h0M1145.1 700.7h0M1146.4 536.5h0M1146.7 529.3h0M1146.4 523.5h0M1147.6 716.9h0M1147.8 723.3h0M1150.8 552.2h0M1150.7 535.4h0M1150.6 731.6h0M1146.9 639.3h0M1148.2 597.1h0M1146.1 573.0h0M1142.5 671.3h0M1144.2 586.1h0M1145.8 614.1h0M1138.6 614.4h0M1150.7 581.1h0M1141.6 684.3h0M1150.1 630.9h0M1147.3 618.6h0M1139.2 680.3h0M1144.3 711.4h0M1145.5 644.1h0M1140.5 690.7h0M1150.8 666.3h0M1144.3 667.2h0M1138.0 698.4h0M1148.7 563.1h0M1151.3 638.7h0M1149.1 575.3h0M1138.8 681.4h0M1142.6 602.3h0M1145.8 559.7h0M1142.6 568.7h0M1145.0 709.8h0M1139.7 579.5h0M1144.5 704.8h0M1145.8 579.4h0M1147.7 615.3h0M1139.2 694.3h0M1143.9 649.2h0M1143.6 630.9h0M1148.1 557.8h0M1148.8 607.7h0M1143.8 623.3h0M1151.0 686.1h0M1142.5 602.4h0M1147.1 612.6h0M1149.6 679.9h0M1150.6 621.1h0M1141.9 686.4h0M1149.3 577.6h0M1144.0 558.2h0M1138.7 672.5h0M1148.3 588.4h0M1143.6 603.6h0M1146.0 618.6h0M1138.6 628.0h0M1148.2 689.4h0M1146.1 639.5h0M1143.1 663.5h0M1150.0 576.1h0M1143.7 568.3h0M1140.3 629.1h0M1144.6 565.1h0M1141.1 614.6h0M1143.7 686.9h0M1139.9 673.4h0M1148.9 671.7h0M1143.1 565.1h0M1138.5 661.3h0M1150.4 683.3h0M1142.2 578.9h0M1149.2 669.3h0M1149.8 696.0h0M1151.3 609.6h0M1145.8 572.4h0M1149.7 634.4h0M1149.1 587.3h0M1147.9 696.9h0M1148.6 611.3h0M1146.8 644.1h0M1149.9 705.1h0M1146.7 702.6h0M1143.2 575.1h0M1145.1 558.1h0M1141.4 711.4h0M1140.5 581.0h0M1144.0 617.5h0M1144.1 610.7h0M1140.8 565.7h0M1138.2 616.4h0M1150.2 598.3h0M1143.8 569.3h0M1139.4 695.5h0M1146.7 701.2h0M1149.1 521.7h0M1149.9 512.5h0M1140.5 502.9h0M1145.0 535.1h0M1142.0 528.5h0M1149.6 533.1h0M1143.3 524.2h0M1148.7 532.7h0M1148.3 506.4h0M1144.5 535.9h0M1141.7 501.4h0M1150.6 496.6h0M1163.8 588.4h0M1163.8 620.0h0M1165.5 682.3h0M1163.4 583.7h0M1165.7 577.3h0M1164.1 573.0h0M1163.8 689.5h0M1164.9 612.1h0M1162.6 606.2h0M1165.0 620.1h0M1164.0 608.6h0M1166.1 595.6h0M1164.4 609.9h0M1164.5 623.9h0M1163.5 589.2h0M1163.8 625.0h0M1163.0 641.0h0M1163.2 675.3h0M1164.7 594.8h0M1164.4 642.5h0M1163.2 639.4h0M1164.7 655.5h0M1176.1 546.6h0M1175.7 684.2h0M1176.1 690.0h0M1175.7 696.8h0M1176.1 650.3h0M1175.9 555.5h0M1176.6 612.1h0M1176.1 610.9h0M1171.7 688.6h0M1172.8 687.8h0M1177.1 660.7h0M1173.8 675.1h0M1172.8 699.4h0M1177.9 661.2h0M1170.9 646.3h0M1173.1 671.4h0M1177.0 693.5h0M1171.0 683.5h0M1172.8 637.5h0M1177.6 637.9h0M1174.8 679.4h0M1176.1 678.5h0M1174.2 628.4h0M1178.0 695.7h0M1172.6 637.4h0M1176.5 600.1h0M1174.9 604.7h0M1169.8 574.9h0M1174.8 698.4h0M1175.2 671.6h0M1170.2 584.5h0M1177.1 686.8h0M1174.7 626.5h0M1178.1 701.9h0M1169.8 608.4h0M1176.4 590.9h0M1171.7 692.0h0M1174.8 570.3h0M1169.7 564.1h0M1177.9 663.9h0M1173.0 656.6h0M1176.3 561.4h0M1170.9 595.3h0M1178.3 672.2h0M1173.2 639.4h0M1176.4 586.9h0M1170.3 575.7h0M1169.7 649.4h0M1177.8 642.7h0M1175.6 698.2h0M1175.0 655.2h0M1176.0 668.2h0M1173.3 594.4h0M1175.3 606.0h0M1172.2 663.7h0M1170.9 655.0h0M1172.2 701.3h0M1176.2 677.3h0M1170.0 704.0h0M1175.1 642.0h0M1184.2 557.2h0M1184.4 550.1h0M1186.9 561.8h0M1188.0 668.9h0M1187.8 680.4h0M1192.1 565.9h0M1192.0 560.1h0M1190.1 688.9h0M1190.4 698.1h0M1195.7 559.8h0M1198.0 665.7h0M1196.2 670.8h0M1198.1 674.9h0M1198.1 677.5h0M1198.1 563.3h0M1184.1 671.1h0M1194.9 675.7h0M1197.9 623.7h0M1194.8 572.8h0M1184.4 627.3h0M1188.9 625.8h0M1184.4 607.2h0M1197.0 647.3h0M1193.1 592.0h0M1190.7 657.9h0M1196.9 642.7h0M1193.1 575.8h0M1184.8 579.8h0M1191.8 666.6h0M1187.4 613.4h0M1184.1 577.5h0M1188.6 617.2h0M1186.0 580.1h0M1187.5 653.9h0M1186.0 590.4h0M1184.3 613.5h0M1190.3 661.4h0M1193.4 678.0h0M1192.8 618.1h0M1185.8 645.1h0M1190.2 578.5h0M1195.6 679.9h0M1194.9 576.6h0M1197.7 575.8h0M1195.6 599.4h0M1188.6 606.9h0M1191.3 588.4h0M1185.4 637.5h0M1187.8 606.3h0M1192.9 610.0h0M1192.7 614.9h0M1196.5 687.0h0M1198.0 595.5h0M1187.1 609.8h0M1184.8 617.3h0M1183.9 598.6h0M1194.8 637.3h0M1191.6 690.4h0M1197.2 612.4h0M1190.0 623.1h0M1196.3 606.5h0M1186.7 567.4h0M1196.4 621.1h0M1186.6 662.5h0M1186.1 680.4h0M1195.8 650.9h0M1198.2 630.2h0M1189.0 567.5h0M1187.1 681.5h0M1184.3 650.3h0M1192.6 569.4h0M1190.7 684.4h0M1192.6 679.1h0M1191.9 569.7h0M1188.1 624.9h0M1193.5 664.1h0M1191.7 611.9h0M1194.1 585.8h0M1194.8 594.0h0M1188.3 630.6h0M1191.7 680.4h0M1193.2 671.1h0M1184.4 591.3h0M1193.3 664.6h0M1203.5 545.9h0M1203.5 540.5h0M1205.4 529.7h0M1205.4 693.2h0M1211.7 536.3h0M1213.0 695.5h0M1201.8 570.9h0M1206.0 568.2h0M1203.1 552.5h0M1213.2 686.5h0M1205.9 578.5h0M1210.1 683.6h0M1201.7 572.2h0M1203.1 610.2h0M1205.5 629.5h0M1202.9 587.8h0M1207.9 698.8h0M1213.0 558.1h0M1204.0 612.4h0M1201.9 595.2h0M1209.8 623.0h0M1212.1 616.1h0M1201.7 653.1h0M1202.6 687.2h0M1206.1 619.3h0M1206.9 589.0h0M1211.7 551.6h0M1208.5 647.9h0M1205.9 583.0h0M1209.5 693.7h0M1209.5 590.4h0M1207.7 631.8h0M1206.9 578.6h0M1206.2 548.6h0M1202.9 680.8h0M1212.7 583.6h0M1213.9 596.0h0M1204.7 569.1h0M1209.8 628.6h0M1213.2 632.5h0M1202.7 687.8h0M1214.3 587.4h0M1203.6 565.1h0M1209.0 571.6h0M1208.6 651.9h0M1211.4 559.7h0M1206.1 556.0h0M1208.1 570.6h0M1211.3 652.6h0M1205.0 546.3h0M1208.9 561.1h0M1203.5 547.1h0M1213.6 620.6h0M1207.9 693.9h0M1206.4 621.8h0M1209.2 693.5h0M1210.6 555.4h0M1207.9 551.2h0M1212.6 599.9h0M1211.2 623.5h0M1209.0 573.0h0M1207.5 544.0h0M1202.7 569.7h0M1214.1 688.5h0M1213.0 668.2h0M1203.6 642.8h0M1211.7 687.9h0M1206.2 656.8h0M1206.6 624.7h0M1206.7 598.4h0M1209.1 587.2h0M1211.0 668.6h0M1205.7 681.5h0M1205.4 592.7h0M1206.5 659.3h0M1209.7 605.5h0M1213.9 587.0h0M1212.7 654.7h0M1204.0 700.5h0M1202.9 672.5h0M1202.1 645.4h0M1207.9 694.8h0M1220.5 637.4h0M1219.8 698.4h0M1224.3 544.0h0M1223.5 693.2h0M1223.1 518.6h0M1229.6 653.4h0M1228.1 511.2h0M1228.7 499.4h0M1231.1 543.0h0M1236.3 562.3h0M1228.5 647.9h0M1233.8 676.1h0M1226.3 628.6h0M1223.4 671.7h0M1227.4 604.8h0M1227.0 560.6h0M1232.2 572.0h0M1232.9 697.2h0M1224.0 529.7h0M1224.5 696.1h0M1224.9 593.0h0M1228.0 540.9h0M1225.8 585.1h0M1221.1 596.5h0M1223.8 522.9h0M1219.6 547.4h0M1222.1 623.6h0M1236.3 640.7h0M1235.8 600.9h0M1235.0 659.4h0M1222.9 529.1h0M1226.1 687.6h0M1229.1 574.9h0M1233.8 519.9h0M1220.5 683.8h0M1218.0 555.1h0M1218.7 624.8h0M1234.0 668.7h0M1236.0 590.3h0M1225.8 683.9h0M1224.0 533.3h0M1232.6 672.0h0M1235.3 542.9h0M1225.5 549.3h0M1227.1 664.7h0M1230.3 604.8h0M1228.9 694.8h0M1230.6 574.6h0M1235.0 596.9h0M1221.2 682.7h0M1229.6 522.9h0M1236.0 666.4h0M1231.7 563.7h0M1232.0 659.1h0M1217.8 541.2h0M1218.7 646.5h0M1230.5 645.7h0M1221.5 581.2h0M1221.4 644.4h0M1218.6 660.7h0M1218.9 537.5h0M1218.1 561.6h0M1218.0 652.8h0M1219.3 675.1h0M1223.6 653.7h0M1234.8 567.7h0M1231.6 639.9h0M1225.4 675.9h0M1219.6 574.3h0M1219.9 635.7h0M1226.7 550.8h0M1226.6 554.3h0M1233.4 686.8h0M1224.7 600.8h0M1228.3 633.0h0M1221.1 680.3h0M1226.0 637.5h0M1235.0 658.1h0M1234.8 574.8h0M1225.7 666.9h0M1228.5 614.8h0M1235.2 674.9h0M1235.1 661.5h0M1227.9 561.7h0M1219.9 563.2h0M1234.0 662.8h0M1219.4 625.8h0M1221.4 566.1h0M1220.7 661.6h0M1225.1 573.4h0M1222.9 568.0h0M1220.4 619.0h0M1229.7 659.0h0M1231.8 610.4h0M1234.0 544.3h0M1233.9 565.7h0M1220.4 536.1h0M1223.4 619.8h0M1234.3 530.8h0M1221.3 620.6h0M1218.0 536.7h0M1218.3 592.9h0M1231.1 605.7h0M1235.1 649.8h0M1233.2 616.4h0M1234.5 627.7h0M1218.0 664.9h0M1229.1 640.6h0M1231.5 530.3h0M1225.2 533.7h0M1223.7 664.0h0M1221.0 680.6h0M1228.1 574.6h0M1232.3 610.6h0M1217.9 678.5h0M1227.3 611.1h0M1234.8 653.9h0M1222.9 673.3h0M1219.5 548.8h0M1218.1 625.2h0M1222.6 519.8h0M1229.0 556.0h0M1220.3 544.7h0M1224.1 530.8h0M1222.0 696.7h0M1236.3 592.2h0M1225.5 525.3h0M1220.5 665.5h0M1218.6 480.4h0M1221.7 494.0h0M1227.5 478.5h0M1232.8 485.1h0M1227.3 455.0h0M1228.2 483.1h0M1242.8 651.2h0M1247.4 692.5h0M1246.5 695.1h0M1248.3 631.7h0M1243.0 655.5h0M1245.7 599.1h0M1245.6 666.4h0M1246.9 652.6h0M1248.3 684.6h0M1243.7 654.0h0M1243.5 644.0h0M1248.2 683.1h0M1243.1 625.4h0M1248.4 622.9h0M1243.2 634.6h0M1243.7 575.5h0M1243.1 635.7h0M1247.3 611.2h0M1243.1 641.8h0M1248.0 627.2h0M1243.4 613.6h0M1241.9 618.8h0M1246.8 662.9h0M1242.9 585.2h0M1245.9 678.8h0M1245.7 640.2h0M1246.2 635.0h0M1245.6 588.5h0M1246.7 601.3h0M1242.7 638.9h0M1244.8 598.3h0M1248.3 666.0h0M1247.8 587.1h0M1245.3 675.9h0M1243.1 677.1h0M1244.7 643.4h0M1247.0 615.6h0M1242.1 577.9h0M1253.9 613.5h0M1251.3 636.5h0M1253.5 692.1h0M1252.9 589.2h0M1253.7 579.9h0M1251.6 670.5h0M1253.3 682.4h0M1252.1 610.9h0M1251.5 662.0h0M1251.9 677.2h0M1252.2 689.6h0M1251.6 648.9h0M1251.9 660.5h0M1253.5 600.2h0M1253.0 647.2h0M1252.2 683.6h0M1252.1 672.7h0M1253.1 610.1h0M1251.6 646.6h0M1252.3 599.2h0M1252.5 579.8h0M1252.5 579.6h0M1252.5 561.1h0M1252.5 568.5h0M1275.7 727.8h0M1275.6 639.8h0M1273.8 570.2h0M1276.8 612.6h0M1275.3 641.3h0M1274.9 605.9h0M1275.0 641.8h0M1274.5 621.8h0M1275.7 555.2h0M1277.2 610.8h0M1275.9 636.0h0M1273.8 681.8h0M1276.0 659.8h0M1275.0 573.4h0M1276.7 606.2h0M1273.9 715.7h0M1276.4 619.4h0M1274.6 665.2h0M1276.6 629.0h0M1274.9 614.4h0M1275.2 626.0h0M1275.9 713.0h0M1275.9 621.9h0M1277.3 602.3h0M1275.2 660.8h0M1276.3 712.6h0M1274.2 658.6h0M1276.2 608.6h0M1274.9 674.5h0M1275.9 678.9h0M1276.2 699.4h0M1277.4 555.4h0M1277.1 637.2h0M1275.3 576.6h0M1273.9 563.5h0M1276.5 580.4h0M1283.5 634.0h0M1283.6 656.3h0M1284.8 662.1h0M1285.7 667.5h0M1283.4 678.5h0M1286.8 555.3h0M1286.8 706.2h0M1288.3 645.6h0M1286.3 683.8h0M1285.8 633.9h0M1283.1 588.0h0M1285.9 694.3h0M1284.0 601.0h0M1283.5 608.8h0M1286.8 600.5h0M1284.7 637.2h0M1284.6 593.1h0M1282.7 579.5h0M1285.6 569.2h0M1283.2 576.2h0M1283.7 631.0h0M1284.7 607.7h0M1286.3 693.9h0M1288.3 632.6h0M1282.8 612.3h0M1284.9 602.9h0M1285.7 544.5h0M1285.5 615.7h0M1287.4 645.0h0M1283.4 621.9h0M1283.3 602.3h0M1284.0 667.5h0M1285.3 607.1h0M1283.6 559.4h0M1287.2 587.1h0M1287.6 667.9h0M1284.7 567.1h0M1286.2 582.9h0M1283.6 622.3h0M1287.5 542.7h0M1285.9 675.5h0M1287.5 673.9h0M1286.3 613.4h0M1285.2 625.5h0M1283.2 613.8h0M1286.8 644.3h0M1283.4 692.8h0M1282.8 598.3h0M1285.5 585.8h0M1294.1 582.5h0M1294.5 639.4h0M1292.8 523.9h0M1292.7 519.1h0M1293.4 646.5h0M1294.3 652.9h0M1300.4 518.6h0M1298.5 507.3h0M1298.6 499.8h0M1298.9 660.8h0M1299.4 665.6h0M1298.1 671.2h0M1304.1 596.6h0M1303.2 608.5h0M1304.9 630.7h0M1308.3 558.1h0M1307.3 612.7h0M1307.7 640.2h0M1297.2 532.8h0M1291.9 621.3h0M1305.3 583.3h0M1298.8 579.2h0M1297.3 577.7h0M1297.1 642.1h0M1303.7 544.7h0M1304.0 574.9h0M1302.5 572.7h0M1294.2 606.1h0M1305.6 594.8h0M1299.4 626.1h0M1301.4 576.1h0M1306.4 554.8h0M1299.3 559.9h0M1296.4 590.1h0M1299.9 592.3h0M1294.7 624.6h0M1304.4 634.2h0M1301.6 632.3h0M1297.6 619.8h0M1307.7 544.0h0M1303.8 602.5h0M1297.4 561.6h0M1304.4 563.6h0M1307.5 616.4h0M1295.7 629.8h0M1296.4 604.8h0M1294.0 552.3h0M1308.2 580.7h0M1303.7 643.1h0M1292.9 624.7h0M1306.8 606.3h0M1299.5 563.0h0M1296.4 556.4h0M1294.7 648.0h0M1307.1 630.5h0M1299.6 573.5h0M1299.9 554.3h0M1295.6 539.6h0M1303.3 550.6h0M1299.9 527.5h0M1305.2 644.2h0M1294.0 593.0h0M1299.4 593.6h0M1302.8 526.2h0M1293.1 634.8h0M1296.8 627.1h0M1299.7 587.8h0M1293.5 631.8h0M1299.7 620.3h0M1297.4 549.2h0M1308.0 612.3h0M1307.7 573.8h0M1295.9 582.6h0M1303.1 604.2h0M1299.9 599.0h0M1294.0 600.4h0M1299.2 532.0h0M1300.1 553.0h0M1303.5 578.9h0M1292.2 595.2h0M1296.3 648.6h0M1307.2 633.8h0M1292.5 531.8h0M1300.0 595.2h0M1296.8 595.4h0M1296.8 637.0h0M1291.6 584.2h0M1295.0 603.3h0M1312.6 570.6h0M1312.4 691.0h0M1313.4 698.4h0M1317.2 597.6h0M1318.4 663.0h0M1316.2 590.5h0M1317.0 703.8h0M1317.2 586.4h0M1316.8 587.4h0M1315.5 686.8h0M1313.7 580.6h0M1314.4 643.0h0M1315.9 592.7h0M1313.8 582.2h0M1314.1 607.0h0M1317.3 596.0h0M1313.5 610.8h0M1311.7 670.9h0M1316.3 568.3h0M1314.3 591.9h0M1312.6 612.8h0M1314.3 653.5h0M1311.8 664.7h0M1312.9 624.0h0M1313.5 598.4h0M1314.4 640.8h0M1316.0 559.2h0M1314.5 680.0h0M1315.4 569.3h0M1314.2 587.5h0M1318.2 658.7h0M1314.4 590.3h0M1313.7 564.7h0M1316.5 617.6h0M1316.7 607.3h0M1314.4 595.1h0M1314.0 575.1h0M1316.4 606.5h0M1317.3 605.0h0M1314.3 564.7h0M1317.8 671.1h0M1312.1 601.0h0M1312.9 600.4h0M1318.3 632.5h0M1313.4 636.7h0M1314.1 617.0h0M1322.7 548.5h0M1323.0 585.4h0M1323.1 626.9h0M1322.6 543.4h0M1321.8 535.2h0M1324.0 652.0h0M1322.8 658.8h0M1327.1 509.6h0M1326.9 637.9h0M1326.4 646.8h0M1327.5 593.7h0M1322.8 536.1h0M1324.7 607.2h0M1327.5 579.1h0M1323.0 562.2h0M1323.6 572.8h0M1321.8 562.1h0M1324.6 554.8h0M1324.5 537.7h0M1323.0 580.8h0M1327.0 558.0h0M1325.9 607.1h0M1324.6 619.6h0M1327.8 533.0h0M1321.9 624.5h0M1325.2 571.4h0M1326.2 554.5h0M1322.5 634.3h0M1322.1 562.9h0M1327.5 563.3h0M1323.0 600.8h0M1328.1 640.1h0M1323.7 595.3h0M1323.1 572.6h0M1322.0 542.8h0M1322.0 559.9h0M1322.6 582.6h0M1325.8 566.8h0M1326.1 595.3h0M1325.2 553.8h0M1322.2 542.7h0M1325.2 563.2h0M1326.3 559.2h0M1326.6 595.0h0M1322.4 543.1h0M1326.1 578.0h0M1338.9 631.3h0M1337.4 470.1h0M1339.8 458.1h0M1339.0 449.6h0M1338.8 651.2h0M1342.4 466.8h0M1343.0 556.3h0M1341.5 615.6h0M1342.9 627.0h0M1340.8 648.8h0M1343.2 502.8h0M1341.6 578.0h0M1338.8 543.9h0M1338.9 580.4h0M1343.4 477.2h0M1341.0 614.3h0M1338.4 485.1h0M1342.2 490.3h0M1338.3 461.7h0M1343.7 515.2h0M1340.0 495.1h0M1339.9 608.3h0M1343.5 553.8h0M1340.8 540.9h0M1343.6 641.7h0M1343.4 651.6h0M1343.3 528.0h0M1343.8 561.3h0M1340.4 642.1h0M1339.3 641.7h0M1340.6 610.2h0M1340.9 606.5h0M1340.3 506.8h0M1340.2 504.2h0M1338.1 455.5h0M1340.3 528.9h0M1343.9 546.3h0M1341.7 607.9h0M1337.9 461.5h0M1342.9 608.8h0M1338.6 571.0h0M1339.3 538.5h0M1344.0 654.6h0M1342.6 494.2h0M1337.8 608.7h0M1340.1 596.4h0M1337.6 460.1h0M1337.7 560.9h0M1342.6 504.5h0M1344.3 552.4h0M1338.0 610.2h0M1341.7 460.0h0M1342.8 516.1h0M1338.5 492.9h0M1341.9 506.4h0M1339.9 515.1h0M1340.2 540.6h0M1340.4 582.7h0M1337.6 552.5h0M1341.3 558.9h0M1339.1 472.1h0M1340.6 505.9h0M1342.4 610.3h0M1339.3 627.7h0M1344.0 654.5h0M1341.3 551.3h0M1337.8 545.4h0M1338.8 653.2h0M1339.3 508.0h0M1343.9 537.2h0M1340.0 559.8h0M1339.1 600.4h0M1349.8 508.7h0M1348.6 499.7h0M1349.5 691.5h0M1353.7 500.5h0M1351.4 625.3h0M1352.0 601.8h0M1352.2 524.7h0M1351.6 561.0h0M1351.3 546.3h0M1352.4 623.3h0M1348.1 665.7h0M1351.7 547.6h0M1350.1 678.6h0M1347.7 545.0h0M1351.7 590.6h0M1348.8 536.1h0M1349.3 556.4h0M1350.2 678.5h0M1353.7 636.3h0M1349.3 614.1h0M1349.7 659.3h0M1350.6 653.9h0M1349.7 634.8h0M1350.9 524.4h0M1350.4 631.5h0M1351.8 563.7h0M1350.5 553.6h0M1349.2 666.5h0M1347.9 629.0h0M1347.8 563.4h0M1348.4 652.1h0M1353.9 638.6h0M1353.1 515.4h0M1352.3 516.4h0M1349.4 633.4h0M1353.2 617.8h0M1353.4 590.4h0M1350.0 592.3h0M1353.6 541.1h0M1353.4 639.1h0M1349.0 688.6h0M1352.2 639.5h0M1348.0 681.6h0M1353.2 595.5h0M1349.7 532.9h0M1352.5 556.3h0M1352.4 589.2h0M1350.9 596.9h0M1353.2 673.4h0M1352.9 643.1h0M1352.8 660.1h0M1352.0 681.6h0M1350.4 561.3h0M1352.6 559.0h0M1351.9 608.6h0M1351.2 577.9h0M1353.3 539.5h0M1351.3 646.4h0M1359.8 473.1h0M1366.1 573.4h0M1364.3 481.3h0M1366.0 639.3h0M1365.7 547.9h0M1366.0 607.9h0M1363.8 504.3h0M1358.6 592.0h0M1365.0 513.1h0M1363.0 558.6h0M1364.2 593.7h0M1358.9 622.8h0M1366.1 543.8h0M1361.9 565.7h0M1362.1 632.4h0M1363.3 532.5h0M1365.4 652.3h0M1361.1 652.9h0M1364.7 579.2h0M1364.1 540.2h0M1359.7 624.2h0M1366.4 628.4h0M1359.5 605.5h0M1366.1 644.5h0M1359.3 528.0h0M1362.5 656.9h0M1360.1 652.4h0M1365.1 510.9h0M1360.5 591.9h0M1361.1 646.5h0M1361.6 529.7h0M1365.0 537.3h0M1365.2 616.6h0M1362.6 649.3h0M1365.9 613.3h0M1362.4 594.1h0M1359.4 541.7h0M1363.4 583.3h0M1359.0 627.6h0M1363.4 539.4h0M1365.6 592.2h0M1360.4 632.2h0M1363.2 649.0h0M1360.8 589.1h0M1359.1 648.4h0M1359.8 626.6h0M1360.0 569.4h0M1363.3 489.0h0M1362.7 636.5h0M1364.3 621.0h0M1366.0 552.8h0M1364.1 577.3h0M1362.3 641.3h0M1359.9 627.4h0M1362.7 573.6h0M1362.5 553.1h0M1363.5 540.0h0M1358.9 582.1h0M1357.9 592.7h0M1359.0 601.9h0M1358.2 591.0h0M1358.9 627.9h0M1358.0 499.3h0M1364.8 549.1h0M1358.0 614.9h0M1360.9 607.8h0M1362.0 651.8h0M1361.5 462.6h0M1361.7 448.8h0M1364.0 464.0h0M1364.6 445.6h0M1363.6 433.0h0M1363.0 428.4h0M1361.0 459.5h0M1361.1 443.6h0M1360.0 464.8h0M1359.0 451.5h0M1361.4 475.3h0M1362.3 454.8h0M1371.2 609.9h0M1370.6 541.2h0M1370.1 532.7h0M1372.3 521.5h0M1370.3 657.1h0M1376.5 536.5h0M1376.0 667.5h0M1382.2 529.0h0M1382.0 521.8h0M1383.2 514.6h0M1381.7 664.6h0M1382.6 670.5h0M1382.0 682.4h0M1385.4 535.4h0M1385.4 680.4h0M1385.1 686.9h0M1387.2 693.5h0M1389.1 645.2h0M1393.7 640.7h0M1395.1 530.6h0M1394.4 640.7h0M1392.9 665.3h0M1381.9 608.3h0M1382.3 554.5h0M1371.7 615.7h0M1372.6 640.6h0M1387.0 615.9h0M1382.8 645.5h0M1375.6 582.1h0M1383.6 629.3h0M1372.0 580.0h0M1380.9 645.2h0M1387.6 569.2h0M1387.9 557.8h0M1392.1 574.9h0M1387.1 653.3h0M1386.2 658.3h0M1373.9 585.2h0M1384.1 641.1h0M1396.1 657.5h0M1394.3 568.4h0M1394.2 555.8h0M1395.2 587.0h0M1379.8 627.2h0M1387.0 577.5h0M1376.6 557.4h0M1395.5 625.2h0M1372.9 558.0h0M1391.7 569.8h0M1378.5 642.3h0M1383.0 598.8h0M1388.5 647.5h0M1390.8 570.6h0M1386.1 564.3h0M1376.4 556.0h0M1388.9 587.0h0M1376.1 627.4h0M1379.4 635.1h0M1394.3 662.9h0M1396.2 558.4h0M1395.0 567.7h0M1395.4 598.6h0M1378.9 551.4h0M1390.6 640.1h0M1390.3 568.0h0M1383.5 662.6h0M1374.0 625.4h0M1378.7 609.5h0M1383.6 555.6h0M1369.8 537.1h0M1374.8 593.6h0M1385.3 622.6h0M1370.2 556.8h0M1385.0 603.8h0M1387.2 647.1h0M1379.0 631.1h0M1371.4 604.4h0M1392.2 578.5h0M1393.2 653.9h0M1385.2 612.3h0M1371.1 634.3h0M1380.1 585.0h0M1377.7 623.2h0M1378.0 650.1h0M1381.4 571.8h0M1378.6 549.9h0M1374.5 635.0h0M1381.7 608.1h0M1372.7 591.0h0M1383.5 663.6h0M1388.8 538.3h0M1385.3 538.2h0M1374.4 539.7h0M1382.7 620.0h0M1395.3 553.7h0M1372.3 632.3h0M1372.2 590.9h0M1389.6 632.0h0M1392.9 600.8h0M1373.6 555.4h0M1381.3 536.8h0M1392.8 633.7h0M1385.2 596.7h0M1390.6 566.2h0M1387.2 593.5h0M1383.1 570.9h0M1392.6 592.1h0M1383.5 551.4h0M1388.4 538.3h0M1371.7 642.2h0M1387.2 537.4h0M1396.1 546.8h0M1377.0 581.5h0M1380.4 564.1h0M1390.0 664.8h0M1383.0 585.7h0M1376.5 593.0h0M1384.4 589.1h0M1396.0 659.6h0M1393.5 664.7h0M1380.7 622.5h0M1375.2 633.2h0M1373.3 659.1h0M1386.5 558.9h0M1378.4 588.8h0M1384.6 635.1h0M1375.0 575.5h0M1375.5 588.3h0M1378.3 588.3h0M1375.7 652.0h0M1376.2 570.9h0M1387.4 639.1h0M1392.8 612.1h0M1372.6 578.7h0M1370.0 540.4h0M1391.4 573.5h0M1372.0 564.7h0M1375.3 522.4h0M1376.2 528.6h0M1394.4 501.7h0M1389.4 517.4h0M1385.8 508.0h0M1373.1 502.1h0M1370.8 524.1h0M1394.8 517.7h0M1375.4 508.1h0M1371.8 515.6h0M1382.6 502.9h0M1381.6 518.0h0M1381.7 499.0h0M1387.8 502.5h0M1398.9 687.8h0M1398.6 696.4h0M1398.8 658.7h0M1398.0 607.4h0M1398.0 631.5h0M1398.7 604.5h0M1399.5 614.6h0M1397.9 693.4h0M1398.4 667.8h0M1399.5 637.3h0M1398.6 702.2h0M1399.5 652.3h0M1397.5 611.1h0M1398.2 618.2h0M1398.4 596.1h0M1399.1 639.0h0M1398.7 602.0h0M1398.7 599.9h0M1404.2 556.9h0M1405.2 548.6h0M1403.9 638.8h0M1404.2 595.6h0M1404.0 642.9h0M1404.7 543.3h0M1404.6 617.5h0M1403.9 657.2h0M1405.4 573.3h0M1403.5 645.5h0M1404.9 652.8h0M1404.0 626.8h0M1419.9 525.2h0M1418.1 532.3h0M1419.9 516.0h0M1420.1 424.8h0M1419.9 471.1h0M1419.5 435.5h0M1420.2 478.1h0M1418.0 470.0h0M1417.8 432.5h0M1418.4 457.8h0M1419.0 458.3h0M1419.4 507.4h0M1419.3 446.7h0M1418.2 461.7h0M1418.9 521.6h0M1417.6 477.7h0M1417.7 451.5h0M1420.3 516.4h0M1418.2 507.0h0M1419.8 472.8h0M1417.7 434.8h0M1419.4 435.3h0M1418.3 463.2h0M1419.0 604.0h0M1419.4 647.2h0M1418.8 655.7h0M1418.8 623.3h0M1418.9 652.4h0M1419.0 607.8h0M1419.4 614.7h0M1419.1 615.4h0M1419.3 621.9h0M1418.7 603.8h0M1418.7 634.0h0M1419.1 610.1h0M1419.2 643.0h0M1425.7 425.6h0M1426.3 416.0h0M1426.1 525.9h0M1425.6 444.7h0M1425.2 464.1h0M1425.9 449.0h0M1426.4 480.7h0M1427.2 467.4h0M1426.4 444.9h0M1427.1 527.9h0M1426.9 485.8h0M1425.1 498.2h0M1425.8 523.4h0M1425.9 503.9h0M1427.4 454.0h0M1426.7 512.9h0M1425.3 479.1h0M1424.7 528.2h0M1425.3 507.7h0M1424.6 673.3h0M1424.7 587.9h0M1426.4 576.6h0M1425.2 569.7h0M1425.5 724.4h0M1425.2 734.1h0M1425.9 706.5h0M1427.3 627.3h0M1424.8 616.6h0M1426.3 628.8h0M1427.4 668.3h0M1427.3 637.9h0M1426.4 667.8h0M1426.9 605.0h0M1426.3 703.7h0M1427.1 635.8h0M1424.8 605.2h0M1438.3 469.3h0M1440.5 427.8h0M1439.3 535.5h0M1439.6 540.1h0M1439.5 551.7h0M1444.8 473.3h0M1444.8 523.9h0M1442.9 448.2h0M1447.1 483.8h0M1447.5 513.9h0M1447.0 519.2h0M1442.6 501.4h0M1440.9 450.8h0M1439.8 538.2h0M1441.3 525.9h0M1446.5 484.4h0M1440.2 490.4h0M1443.2 478.9h0M1440.2 463.9h0M1438.8 475.0h0M1439.5 504.8h0M1440.0 537.6h0M1438.1 436.2h0M1441.3 468.1h0M1443.8 439.6h0M1448.3 490.2h0M1447.8 442.9h0M1441.7 450.7h0M1447.5 473.9h0M1445.9 500.6h0M1447.5 490.1h0M1438.7 528.0h0M1446.0 517.8h0M1445.7 447.7h0M1440.1 513.7h0M1437.7 522.2h0M1442.4 535.9h0M1438.4 434.9h0M1443.4 514.6h0M1439.1 499.5h0M1441.3 485.4h0M1444.2 465.7h0M1441.0 495.0h0M1444.7 454.7h0M1448.1 489.9h0M1448.2 511.3h0M1443.8 487.9h0M1437.8 448.6h0M1445.1 534.8h0M1446.5 502.3h0M1442.5 496.2h0M1442.1 470.6h0M1443.1 474.3h0M1442.1 457.5h0M1448.2 485.2h0M1439.6 445.9h0M1442.6 483.3h0M1441.6 442.1h0M1447.4 488.9h0M1439.9 423.1h0M1441.9 402.2h0M1438.6 424.9h0M1439.3 424.9h0M1446.6 425.3h0M1439.9 421.0h0M1445.4 403.1h0M1451.7 553.3h0M1452.5 564.5h0M1456.3 469.0h0M1455.7 529.9h0M1462.8 494.1h0M1462.8 534.9h0M1461.5 441.1h0M1460.6 436.2h0M1464.5 434.7h0M1464.7 475.8h0M1468.6 530.0h0M1472.6 431.5h0M1473.7 545.0h0M1475.9 437.8h0M1476.2 430.7h0M1475.6 547.3h0M1476.5 555.3h0M1478.7 429.1h0M1480.0 421.9h0M1479.7 412.2h0M1481.4 457.3h0M1482.1 531.5h0M1482.4 440.1h0M1483.8 432.3h0M1482.9 543.9h0M1485.0 540.7h0M1485.9 451.6h0M1486.6 440.3h0M1485.5 559.5h0M1485.3 568.4h0M1485.7 573.1h0M1486.9 415.8h0M1488.3 409.8h0M1488.2 400.3h0M1488.2 543.4h0M1486.5 549.1h0M1487.1 468.2h0M1453.9 430.5h0M1466.2 466.9h0M1474.9 492.3h0M1484.1 441.5h0M1462.5 434.0h0M1458.4 443.8h0M1456.2 529.7h0M1472.2 495.0h0M1469.8 492.0h0M1475.7 498.0h0M1487.6 535.4h0M1470.1 508.7h0M1474.8 531.1h0M1488.3 485.2h0M1451.7 486.2h0M1465.2 463.3h0M1458.8 521.6h0M1457.8 447.1h0M1468.5 459.7h0M1476.4 468.3h0M1481.5 479.2h0M1455.9 498.2h0M1467.2 491.8h0M1463.6 430.6h0M1487.4 439.7h0M1451.9 480.4h0M1457.1 532.3h0M1463.5 491.4h0M1468.3 531.2h0M1487.2 446.1h0M1485.7 509.0h0M1465.4 477.7h0M1465.9 496.1h0M1472.7 543.2h0M1482.1 487.0h0M1463.4 452.3h0M1473.2 435.8h0M1458.2 459.0h0M1488.1 465.4h0M1453.8 494.6h0M1458.0 464.3h0M1459.7 449.9h0M1478.1 465.7h0M1477.0 448.6h0M1479.0 446.2h0M1483.2 528.0h0M1454.9 484.9h0M1486.8 493.7h0M1456.9 447.4h0M1471.4 457.9h0M1466.7 524.6h0M1481.8 505.3h0M1484.2 444.0h0M1481.8 480.4h0M1462.1 437.6h0M1484.6 472.6h0M1473.8 483.6h0M1480.0 484.7h0M1486.5 508.6h0M1462.7 449.6h0M1485.1 475.5h0M1485.3 431.6h0M1460.7 495.6h0M1469.1 490.3h0M1474.2 477.5h0M1460.8 527.7h0M1479.3 504.3h0M1488.4 438.6h0M1477.5 460.6h0M1481.1 512.7h0M1480.7 525.8h0M1475.8 515.5h0M1487.4 533.0h0M1482.8 533.7h0M1483.8 539.7h0M1470.4 498.8h0M1486.0 501.5h0M1459.4 460.3h0M1455.6 503.3h0M1455.8 449.0h0M1480.5 445.3h0M1474.9 541.3h0M1474.0 445.6h0M1463.6 481.2h0M1462.9 501.2h0M1488.1 474.0h0M1456.0 437.6h0M1467.3 442.9h0M1472.9 470.5h0M1467.9 485.4h0M1482.7 520.7h0M1485.9 445.2h0M1469.8 444.9h0M1483.4 432.8h0M1472.6 505.6h0M1466.1 437.8h0M1471.7 430.0h0M1475.1 461.8h0M1463.4 535.6h0M1456.5 541.9h0M1461.9 542.1h0M1454.1 512.6h0M1457.5 522.4h0M1467.9 481.3h0M1459.3 432.5h0M1478.6 461.8h0M1452.5 505.6h0M1457.2 487.0h0M1474.4 492.2h0M1487.5 481.7h0M1467.1 511.5h0M1460.3 467.4h0M1460.4 477.1h0M1462.2 496.0h0M1456.0 455.4h0M1459.3 429.1h0M1471.9 445.8h0M1483.2 501.4h0M1471.8 434.8h0M1459.4 521.5h0M1464.1 497.3h0M1471.9 497.0h0M1468.5 434.0h0M1470.8 513.8h0M1457.0 493.6h0M1458.1 433.0h0M1473.8 432.3h0M1484.0 477.4h0M1472.1 518.8h0M1484.8 524.5h0M1480.5 539.8h0M1482.9 454.8h0M1468.2 492.0h0M1485.0 478.1h0M1479.0 525.6h0M1480.1 474.3h0M1452.2 498.4h0M1470.7 481.0h0M1474.2 451.5h0M1458.6 450.0h0M1454.0 493.2h0M1459.1 447.3h0M1461.5 458.2h0M1467.1 471.2h0M1454.2 504.4h0M1456.8 497.4h0M1473.7 443.8h0M1465.5 406.5h0M1463.4 407.3h0M1466.1 399.3h0M1475.1 407.2h0M1484.6 412.1h0M1472.9 405.4h0M1474.9 418.9h0M1483.0 422.9h0M1463.1 398.0h0M1462.5 406.9h0M1470.0 405.1h0M1459.7 406.4h0M1469.5 406.1h0M1457.2 420.2h0M1485.2 401.6h0M1462.7 409.4h0M1473.9 419.1h0M1481.4 398.5h0M1468.7 606.6h0M1469.3 580.9h0M1469.1 635.7h0M1468.8 551.2h0M1468.7 626.8h0M1469.2 550.5h0M1469.2 615.4h0M1468.9 578.8h0M1469.2 588.2h0M1468.7 609.4h0M1469.1 636.8h0M1469.0 603.4h0M1481.0 581.0h0M1480.9 669.0h0M1481.1 653.5h0M1480.8 571.9h0M1481.3 581.3h0M1480.7 572.3h0M1480.8 640.6h0M1481.3 645.2h0M1480.7 601.8h0M1481.4 593.1h0M1481.2 603.9h0M1481.2 630.1h0M1481.0 625.6h0M1481.1 616.8h0M1481.2 599.0h0M1480.9 654.5h0M1480.7 644.1h0M1481.3 616.6h0M1480.7 596.5h0M1481.4 596.0h0M1480.9 554.9h0M1481.2 620.8h0M1480.7 663.8h0M1490.6 644.2h0M1493.2 650.7h0M1492.8 657.5h0M1495.2 594.0h0M1494.7 668.9h0M1496.3 538.3h0M1494.4 677.9h0M1495.0 684.6h0M1494.3 691.1h0M1502.0 550.3h0M1501.4 542.8h0M1500.5 532.9h0M1500.5 676.0h0M1501.8 683.8h0M1499.9 688.2h0M1509.4 575.6h0M1509.3 666.8h0M1508.1 520.6h0M1508.0 512.6h0M1509.6 501.5h0M1508.0 676.2h0M1511.0 652.2h0M1510.3 510.4h0M1510.3 500.6h0M1510.7 690.8h0M1510.7 697.8h0M1512.3 708.5h0M1505.0 543.1h0M1504.9 604.4h0M1509.3 552.2h0M1495.4 542.1h0M1499.8 676.3h0M1494.7 613.9h0M1503.0 669.6h0M1496.6 671.9h0M1511.8 677.0h0M1510.9 544.5h0M1510.3 531.3h0M1498.1 549.9h0M1510.2 645.3h0M1501.0 574.0h0M1497.5 643.2h0M1492.9 622.3h0M1491.9 597.5h0M1510.2 649.2h0M1491.1 552.0h0M1504.3 596.5h0M1500.4 566.6h0M1499.7 650.3h0M1497.7 619.2h0M1505.1 637.4h0M1501.1 526.5h0M1496.7 551.0h0M1507.1 671.7h0M1511.6 571.5h0M1495.5 644.2h0M1507.1 552.1h0M1495.5 537.5h0M1497.0 622.4h0M1511.1 642.3h0M1499.7 571.8h0M1502.0 669.2h0M1502.5 560.6h0M1506.7 634.4h0M1493.9 610.1h0M1495.8 592.3h0M1509.3 562.0h0M1503.7 597.1h0M1493.0 646.6h0M1492.0 530.9h0M1509.9 578.7h0M1498.7 610.5h0M1500.1 545.7h0M1498.9 645.3h0M1504.7 672.2h0M1505.7 590.5h0M1501.8 577.0h0M1496.0 593.1h0M1511.1 589.4h0M1494.0 625.6h0M1492.5 622.1h0M1494.6 666.6h0M1500.1 628.3h0M1504.3 611.1h0M1498.0 528.9h0M1506.1 526.0h0M1499.2 646.5h0M1507.2 663.2h0M1504.8 574.9h0M1495.2 584.5h0M1494.6 537.3h0M1493.4 677.8h0M1512.3 609.5h0M1500.4 660.4h0M1510.3 636.9h0M1499.6 615.1h0M1497.9 605.2h0M1500.8 634.0h0M1491.0 545.5h0M1495.9 647.0h0M1507.1 529.7h0M1495.3 550.7h0M1511.0 588.6h0M1496.7 596.5h0M1505.0 550.9h0M1496.4 527.1h0M1491.8 642.0h0M1494.5 638.7h0M1496.0 630.6h0M1511.1 544.7h0M1502.1 619.2h0M1501.0 587.9h0M1504.3 525.9h0M1511.6 566.0h0M1495.4 569.7h0M1506.0 543.9h0M1505.1 559.7h0M1506.1 568.4h0M1494.6 641.7h0M1496.6 610.6h0M1508.2 633.2h0M1505.4 618.5h0M1502.5 579.6h0M1501.5 527.9h0M1512.2 544.8h0M1502.0 533.2h0M1511.8 528.4h0M1499.7 561.4h0M1509.1 588.9h0M1491.8 676.8h0M1507.9 593.1h0M1508.9 628.1h0M1497.0 525.0h0M1494.4 586.0h0M1512.3 547.9h0M1499.6 615.5h0M1500.2 536.6h0M1499.4 581.2h0M1501.1 544.3h0M1505.1 613.2h0M1502.7 664.9h0M1508.1 659.8h0M1509.4 540.9h0M1497.6 537.6h0M1496.0 600.9h0M1510.0 508.1h0M1510.6 517.0h0M1504.8 503.6h0M1507.2 510.2h0M1498.3 513.5h0M1501.0 510.4h0M1492.3 503.2h0M1495.7 514.5h0M1511.1 503.8h0M1507.0 510.7h0M1504.8 506.5h0M1493.7 494.3h0M1502.7 508.8h0M1527.6 583.1h0M1528.1 608.0h0M1529.1 710.5h0M1529.8 719.8h0M1531.8 670.8h0M1533.9 538.0h0M1531.8 529.5h0M1533.5 520.5h0M1533.3 678.8h0M1537.6 684.8h0M1536.6 692.4h0M1537.9 696.8h0M1535.8 640.0h0M1537.3 609.8h0M1530.2 553.8h0M1535.8 627.7h0M1532.3 574.0h0M1530.3 587.3h0M1540.0 604.5h0M1539.6 558.6h0M1528.8 583.8h0M1540.3 658.0h0M1538.3 677.8h0M1532.3 543.0h0M1538.8 581.8h0M1532.5 593.2h0M1539.7 697.4h0M1532.6 572.5h0M1528.9 574.9h0M1532.2 597.4h0M1531.7 685.7h0M1528.2 649.8h0M1535.8 552.2h0M1534.8 656.0h0M1538.9 672.6h0M1528.6 621.4h0M1529.8 583.5h0M1528.2 558.0h0M1536.7 676.1h0M1531.2 579.1h0M1536.1 671.5h0M1540.1 547.3h0M1539.7 684.2h0M1538.9 599.4h0M1532.1 616.2h0M1529.2 582.4h0M1537.5 595.0h0M1540.2 639.7h0M1532.5 620.2h0M1539.9 566.5h0M1538.4 619.8h0M1532.5 656.6h0M1539.7 537.5h0M1537.1 653.2h0M1535.9 680.1h0M1529.6 588.5h0M1537.6 696.7h0M1537.8 558.3h0M1537.6 676.8h0M1532.6 604.6h0M1535.7 614.1h0M1529.0 656.6h0M1529.0 610.1h0M1531.3 533.7h0M1533.4 549.9h0M1530.5 567.3h0M1533.3 654.5h0M1536.7 555.1h0M1538.6 604.5h0M1534.5 626.3h0M1537.9 584.6h0M1529.5 611.8h0M1532.6 614.9h0M1535.8 588.1h0M1533.6 550.7h0M1537.5 635.1h0M1537.6 642.7h0M1528.7 531.7h0M1538.2 549.3h0M1532.1 692.8h0M1529.3 572.5h0M1536.8 677.6h0M1529.7 558.4h0M1533.1 664.7h0M1530.1 547.5h0M1530.6 695.3h0M1533.7 568.8h0M1538.5 540.6h0M1527.7 610.2h0M1528.7 551.4h0M1531.4 562.4h0M1534.1 690.7h0M1537.5 516.9h0M1529.7 513.0h0M1529.2 521.5h0M1535.1 525.3h0M1530.1 521.2h0M1538.9 507.4h0M1547.1 550.7h0M1547.3 614.3h0M1545.4 682.2h0M1546.5 519.5h0M1546.6 511.0h0M1546.8 703.1h0M1551.0 574.4h0M1552.7 628.1h0M1557.9 652.5h0M1556.8 696.9h0M1559.4 562.9h0M1551.6 592.6h0M1556.7 581.4h0M1555.9 603.0h0M1548.6 591.2h0M1548.7 600.0h0M1558.2 594.1h0M1560.4 631.9h0M1548.8 585.4h0M1552.4 589.2h0M1557.4 595.9h0M1553.1 670.3h0M1559.1 592.9h0M1560.1 628.0h0M1546.8 633.6h0M1558.5 559.8h0M1547.8 560.3h0M1553.6 619.0h0M1554.0 652.2h0M1548.4 587.6h0M1550.5 592.2h0M1551.2 671.6h0M1559.3 620.4h0M1556.6 653.3h0M1550.7 644.1h0M1553.2 558.4h0M1558.8 659.5h0M1554.9 638.4h0M1547.9 618.5h0M1545.7 586.8h0M1548.8 586.2h0M1547.6 682.9h0M1558.2 599.7h0M1553.9 633.2h0M1546.1 571.9h0M1559.6 673.5h0M1548.0 672.0h0M1558.7 631.8h0M1545.7 550.3h0M1555.6 684.8h0M1559.7 549.4h0M1546.1 544.2h0M1554.9 626.0h0M1555.2 677.9h0M1557.9 582.4h0M1556.1 598.4h0M1560.4 591.6h0M1553.1 605.1h0M1560.3 571.6h0M1559.6 636.6h0M1548.8 599.1h0M1548.3 593.2h0M1555.3 580.6h0M1553.3 590.2h0M1551.6 670.5h0M1546.9 550.2h0M1556.9 666.5h0M1548.4 630.8h0M1558.3 631.3h0M1559.8 582.6h0M1558.6 640.1h0M1558.4 583.8h0M1559.4 610.4h0M1546.8 655.3h0M1558.9 623.7h0M1548.7 686.9h0M1555.6 683.8h0M1560.3 621.7h0M1547.0 541.3h0M1558.1 565.2h0M1556.6 642.4h0M1548.5 683.8h0M1551.9 570.5h0M1551.1 644.9h0M1546.6 672.2h0M1547.8 594.3h0M1554.6 646.3h0M1551.5 575.3h0M1546.5 569.4h0M1556.8 505.1h0M1547.4 505.5h0M1549.8 506.4h0M1555.2 520.2h0M1547.8 518.0h0M1551.6 511.6h0M1552.0 525.4h0M1547.8 521.4h0M1550.1 503.9h0M1585.4 580.4h0M1586.9 569.7h0M1586.9 704.9h0M1591.2 574.1h0M1590.5 565.0h0M1591.2 560.8h0M1591.3 710.6h0M1595.4 650.4h0M1595.2 700.6h0M1593.9 590.1h0M1594.0 721.5h0M1593.0 732.8h0M1594.4 740.8h0M1595.9 593.5h0M1596.6 650.1h0M1597.7 583.0h0M1595.9 577.5h0M1597.1 722.9h0M1595.9 731.4h0M1597.7 738.9h0M1598.9 592.5h0M1598.7 584.5h0M1603.8 563.1h0M1603.9 556.0h0M1603.3 549.8h0M1606.0 619.0h0M1607.5 557.6h0M1607.2 549.5h0M1606.3 696.2h0M1606.5 703.3h0M1607.8 709.0h0M1609.3 579.7h0M1609.2 567.7h0M1609.4 700.7h0M1610.6 712.5h0M1613.5 653.5h0M1612.3 571.6h0M1612.0 560.2h0M1612.6 549.6h0M1616.6 579.7h0M1618.3 567.9h0M1619.6 559.2h0M1622.1 623.0h0M1621.9 582.4h0M1621.5 572.8h0M1621.1 566.0h0M1621.7 723.8h0M1592.3 648.0h0M1602.8 630.0h0M1596.8 641.0h0M1585.7 670.4h0M1607.9 618.1h0M1586.2 629.2h0M1609.1 672.2h0M1605.7 611.9h0M1583.7 578.3h0M1591.5 661.7h0M1591.8 680.5h0M1618.0 648.8h0M1598.9 687.3h0M1602.2 638.1h0M1610.6 659.9h0M1606.1 597.0h0M1603.0 681.8h0M1616.8 610.8h0M1610.6 678.4h0M1587.9 623.2h0M1610.3 627.6h0M1599.3 684.3h0M1587.0 698.9h0M1602.4 603.5h0M1613.8 607.1h0M1585.1 613.7h0M1600.0 594.6h0M1586.9 643.2h0M1595.1 694.9h0M1610.1 607.2h0M1606.6 599.7h0M1588.3 624.9h0M1613.5 676.8h0M1587.8 655.6h0M1597.6 661.3h0M1595.3 705.1h0M1584.6 585.0h0M1605.0 624.5h0M1598.8 624.4h0M1613.5 582.8h0M1604.3 690.0h0M1619.7 640.4h0M1609.3 607.2h0M1611.1 707.0h0M1606.6 672.9h0M1599.0 626.1h0M1607.5 704.2h0M1609.6 700.8h0M1589.5 678.4h0M1614.1 630.2h0M1599.3 640.1h0M1609.5 598.0h0M1585.6 576.7h0M1617.2 702.3h0M1613.0 632.5h0M1608.0 666.6h0M1610.1 674.2h0M1596.8 629.7h0M1608.5 584.5h0M1602.5 581.4h0M1617.7 652.8h0M1604.3 655.9h0M1597.9 659.5h0M1621.8 591.6h0M1599.7 658.0h0M1586.0 575.7h0M1620.8 692.3h0M1590.7 708.9h0M1618.0 663.6h0M1605.9 691.3h0M1599.0 673.7h0M1592.4 648.1h0M1601.2 604.3h0M1586.5 637.2h0M1617.4 687.4h0M1613.4 611.0h0M1605.2 635.4h0M1585.1 622.4h0M1592.9 682.8h0M1583.9 636.1h0M1594.9 646.9h0M1599.9 658.5h0M1616.0 581.8h0M1595.1 688.3h0M1594.2 608.1h0M1595.9 633.1h0M1595.7 649.8h0M1617.7 669.7h0M1607.7 600.1h0M1593.0 688.8h0M1584.8 613.3h0M1600.9 708.4h0M1604.8 686.3h0M1606.3 707.4h0M1614.9 589.7h0M1589.4 594.4h0M1618.1 642.1h0M1613.8 622.2h0M1598.6 582.5h0M1620.6 582.6h0M1614.7 576.9h0M1599.4 645.8h0M1607.6 707.5h0M1589.9 593.1h0M1599.6 685.5h0M1608.2 675.7h0M1612.0 650.0h0M1593.8 641.5h0M1601.5 590.4h0M1621.1 669.9h0M1610.1 618.5h0M1607.2 644.7h0M1584.7 676.1h0M1594.3 629.4h0M1590.4 657.8h0M1588.8 659.0h0M1601.5 588.9h0M1616.3 653.1h0M1585.3 588.2h0M1603.9 601.2h0M1606.1 649.3h0M1602.6 604.2h0M1614.5 586.3h0M1603.8 621.6h0M1611.1 704.5h0M1617.0 639.0h0M1607.5 631.8h0M1619.1 645.9h0M1614.3 666.4h0M1617.1 613.3h0M1595.2 583.2h0M1591.9 620.7h0M1620.5 658.4h0M1612.2 648.8h0M1610.6 625.5h0M1591.5 595.3h0M1590.6 627.3h0M1598.8 619.8h0M1599.3 630.0h0M1603.1 701.5h0M1585.8 673.6h0M1591.7 664.9h0M1608.6 667.9h0M1616.6 619.1h0M1601.7 644.6h0M1603.1 653.6h0M1587.5 623.9h0M1586.0 696.0h0M1591.5 637.0h0M1595.5 576.8h0M1606.4 683.5h0M1586.1 598.1h0M1590.1 583.1h0M1599.2 616.2h0M1616.2 706.0h0M1620.9 641.8h0M1591.1 680.7h0M1585.1 683.0h0M1604.7 698.9h0M1615.0 626.6h0M1598.1 652.2h0M1592.2 650.7h0M1591.9 581.8h0M1619.7 605.1h0M1592.9 588.2h0M1622.1 581.5h0M1592.8 601.8h0M1591.7 599.8h0M1592.6 621.2h0M1618.2 697.0h0M1595.6 579.3h0M1618.9 632.2h0M1586.7 682.5h0M1592.9 666.1h0M1620.5 625.8h0M1586.7 501.6h0M1611.7 496.0h0M1597.6 493.6h0M1585.8 551.5h0M1586.6 529.6h0M1592.6 516.0h0M1614.3 535.2h0M1593.6 501.5h0M1595.3 504.7h0M1618.6 509.2h0M1591.6 520.7h0M1616.8 529.2h0M1618.3 527.6h0M1597.1 544.5h0M1602.8 544.1h0M1619.3 522.0h0M1589.8 531.8h0M1595.0 544.8h0M1590.8 520.2h0M1594.1 533.6h0M1594.9 535.3h0M1589.9 528.6h0M1605.6 527.8h0M1617.8 499.2h0M1631.2 541.3h0M1631.7 529.4h0M1631.1 525.2h0M1632.2 650.4h0M1631.4 661.9h0M1631.6 666.2h0M1636.3 577.4h0M1636.4 609.1h0M1634.4 615.3h0M1635.2 635.8h0M1635.0 532.1h0M1634.5 521.5h0M1635.9 644.7h0M1635.5 652.8h0M1642.0 575.5h0M1639.9 596.9h0M1642.4 611.3h0M1641.4 533.7h0M1640.9 527.1h0M1640.3 649.0h0M1641.2 657.0h0M1640.2 661.8h0M1644.5 570.2h0M1645.2 533.6h0M1645.8 642.0h0M1631.4 577.4h0M1646.7 576.7h0M1633.0 619.8h0M1646.4 622.4h0M1637.3 572.7h0M1630.7 633.9h0M1646.7 579.3h0M1644.0 537.2h0M1634.9 615.1h0M1645.4 643.8h0M1633.7 541.9h0M1632.7 560.1h0M1638.1 559.7h0M1632.8 596.3h0M1631.8 611.5h0M1643.2 541.3h0M1639.7 613.4h0M1642.5 624.1h0M1636.0 566.8h0M1646.4 614.6h0M1641.4 578.3h0M1646.7 628.7h0M1639.6 601.3h0M1634.1 602.0h0M1640.6 644.1h0M1637.0 591.0h0M1647.7 586.5h0M1636.2 592.9h0M1646.6 552.4h0M1639.6 635.0h0M1646.0 621.1h0M1641.6 612.2h0M1640.9 602.4h0M1641.2 616.2h0M1644.2 571.5h0M1643.5 585.6h0M1641.8 540.5h0M1639.3 556.7h0M1631.5 611.6h0M1640.9 596.0h0M1635.8 644.4h0M1631.8 608.5h0M1639.8 565.1h0M1633.1 595.4h0M1639.5 641.9h0M1641.0 610.9h0M1631.1 611.1h0M1634.9 550.1h0M1646.3 568.2h0M1643.7 563.2h0M1639.9 558.7h0M1635.3 603.8h0M1645.7 632.3h0M1645.1 632.1h0M1632.3 609.0h0M1635.0 629.8h0M1643.3 549.1h0M1632.5 622.7h0M1638.8 572.1h0M1644.4 631.7h0M1638.9 621.5h0M1644.0 553.3h0M1644.0 556.9h0M1639.1 625.1h0M1633.4 549.1h0M1634.1 543.6h0M1647.5 558.5h0M1644.9 631.7h0M1643.7 620.8h0M1635.6 648.4h0M1648.4 592.7h0M1647.4 628.3h0M1635.8 613.6h0M1645.8 567.3h0M1637.7 596.9h0M1643.2 560.7h0M1644.4 615.5h0M1630.9 529.1h0M1637.1 505.7h0M1633.9 490.6h0M1645.8 484.3h0M1634.2 506.2h0M1631.2 496.3h0M1643.5 509.7h0M1636.6 528.6h0M1641.1 500.8h0M1642.3 503.0h0M1632.0 493.2h0M1634.1 498.6h0M1639.4 511.6h0M1634.0 512.3h0M1639.7 499.8h0M1642.0 509.9h0M1642.5 514.2h0M1632.3 524.6h0M1650.4 587.8h0M1650.8 676.3h0M1653.8 590.2h0M1655.8 595.9h0M1655.8 642.6h0M1654.9 707.1h0M1660.9 556.6h0M1660.3 549.0h0M1660.3 543.5h0M1660.0 685.8h0M1659.8 696.2h0M1661.3 703.2h0M1658.4 671.4h0M1654.3 689.1h0M1658.0 601.1h0M1651.2 601.7h0M1658.5 631.6h0M1653.8 668.9h0M1652.3 614.7h0M1660.0 647.8h0M1649.6 636.2h0M1653.2 661.4h0M1650.9 634.4h0M1658.3 592.0h0M1651.7 607.6h0M1648.6 667.8h0M1650.3 654.2h0M1655.0 579.8h0M1650.7 692.2h0M1655.1 681.1h0M1650.3 603.3h0M1656.5 589.3h0M1660.2 612.1h0M1659.7 565.3h0M1654.2 684.3h0M1657.1 579.2h0M1647.8 655.4h0M1654.2 654.9h0M1649.9 615.4h0M1656.7 623.3h0M1654.1 569.7h0M1660.9 625.6h0M1650.7 646.9h0M1650.5 585.4h0M1651.4 579.9h0M1659.5 657.6h0M1648.9 686.2h0M1661.7 636.4h0M1661.6 642.7h0M1661.5 673.0h0M1662.0 597.9h0M1661.2 671.1h0M1655.1 692.9h0M1652.7 665.8h0M1649.9 653.2h0M1658.5 674.5h0M1661.8 567.6h0M1661.4 672.0h0M1650.7 621.3h0M1651.2 693.1h0M1656.2 658.6h0M1658.4 598.8h0M1652.5 569.1h0M1655.3 567.1h0M1662.0 602.2h0M1662.1 589.3h0M1649.2 632.8h0M1654.5 650.7h0M1650.8 570.1h0M1661.3 685.0h0M1659.6 581.9h0M1661.1 677.8h0M1667.3 650.3h0M1667.2 660.2h0M1671.4 542.2h0M1673.5 536.9h0M1671.4 525.0h0M1673.5 514.6h0M1672.0 678.7h0M1672.2 684.5h0M1672.3 690.3h0M1677.9 500.9h0M1677.8 684.4h0M1681.2 672.6h0M1681.5 525.4h0M1682.1 679.4h0M1680.7 687.7h0M1677.6 562.7h0M1680.9 560.2h0M1668.4 632.4h0M1680.5 608.2h0M1666.9 630.4h0M1673.8 654.6h0M1676.1 539.1h0M1676.8 614.3h0M1673.9 577.9h0M1665.6 636.5h0M1680.3 577.7h0M1682.1 642.4h0M1672.0 531.0h0M1669.2 585.0h0M1678.6 546.2h0M1681.3 640.6h0M1669.3 540.4h0M1678.8 651.7h0M1674.5 661.9h0M1677.0 519.3h0M1681.5 625.7h0M1673.9 633.4h0M1676.5 612.3h0M1676.8 611.5h0M1681.2 550.3h0M1674.7 544.0h0M1666.7 545.5h0M1679.1 515.7h0M1680.7 615.4h0M1669.4 532.2h0M1672.7 638.3h0M1679.4 583.5h0M1671.2 587.9h0M1675.4 542.0h0M1675.9 567.9h0M1674.7 543.0h0M1679.6 604.6h0M1679.9 633.4h0M1675.2 571.9h0M1672.7 640.7h0M1670.7 661.0h0M1675.8 549.3h0M1677.5 580.1h0M1669.9 573.7h0M1672.8 610.3h0M1668.7 545.2h0M1675.8 528.9h0M1675.3 527.4h0M1673.5 550.2h0M1678.1 547.2h0M1674.3 555.9h0M1666.9 555.4h0M1669.8 646.7h0M1673.8 567.5h0M1675.6 543.2h0M1675.4 563.5h0M1668.5 623.5h0M1669.2 639.3h0M1678.5 642.9h0M1682.1 520.5h0M1672.1 526.9h0M1681.7 516.5h0M1668.1 615.5h0M1669.2 635.6h0M1682.2 656.9h0M1679.6 566.4h0M1672.0 548.5h0M1677.1 603.0h0M1672.0 632.9h0M1678.5 661.1h0M1668.4 537.6h0M1672.3 514.8h0M1678.7 542.3h0M1674.6 595.4h0M1673.7 530.6h0M1667.5 582.8h0M1678.8 563.3h0M1676.9 522.3h0M1678.7 553.6h0M1678.8 605.2h0M1677.3 572.9h0M1677.4 531.6h0M1681.3 590.8h0M1666.1 569.8h0M1677.4 641.4h0M1672.9 537.8h0M1671.6 579.5h0M1675.2 631.2h0M1675.4 523.9h0M1668.6 568.7h0M1676.9 659.2h0M1667.4 487.2h0M1676.6 496.9h0M1675.3 487.6h0M1678.2 496.4h0M1667.3 506.2h0M1668.3 498.4h0M1678.9 497.9h0M1675.7 491.4h0M1673.3 504.4h0M1670.3 494.0h0M1681.0 502.6h0M1687.2 638.4h0M1687.8 538.2h0M1687.2 693.1h0M1691.6 686.6h0M1689.8 696.5h0M1695.2 539.3h0M1693.2 699.6h0M1695.8 706.5h0M1694.7 709.3h0M1694.6 534.1h0M1693.6 529.2h0M1694.1 720.8h0M1697.1 595.2h0M1698.6 693.0h0M1698.5 527.1h0M1698.0 517.6h0M1689.3 677.3h0M1689.1 613.3h0M1697.6 626.6h0M1686.9 596.9h0M1691.7 575.4h0M1689.4 692.0h0M1693.1 555.9h0M1689.4 587.7h0M1689.9 555.2h0M1691.8 696.6h0M1689.1 651.4h0M1688.7 560.1h0M1693.1 656.3h0M1687.9 685.7h0M1692.9 609.2h0M1691.2 684.2h0M1686.3 688.6h0M1689.5 695.1h0M1690.2 594.4h0M1691.7 618.2h0M1697.1 629.2h0M1692.3 634.9h0M1687.8 555.0h0M1692.1 675.0h0M1687.3 688.0h0M1691.6 691.8h0M1687.1 582.4h0M1690.9 659.0h0M1693.4 609.2h0M1688.1 636.4h0M1692.4 548.6h0M1687.6 572.0h0M1697.1 637.5h0M1698.3 595.5h0M1687.2 684.3h0M1698.1 577.3h0M1687.2 659.3h0M1693.6 581.4h0M1687.4 623.0h0M1694.6 546.6h0M1694.1 570.6h0M1698.0 607.4h0M1689.5 567.1h0M1688.9 612.8h0M1695.4 578.4h0M1687.7 571.5h0M1694.1 641.8h0M1685.8 591.6h0M1686.3 547.7h0M1686.8 555.2h0M1694.3 652.5h0M1690.9 578.4h0M1690.2 579.8h0M1689.0 635.9h0M1691.0 557.6h0M1694.0 644.2h0M1687.8 691.4h0M1695.8 686.2h0M1686.0 593.0h0M1698.2 662.3h0M1689.8 577.7h0M1689.1 576.9h0M1697.2 610.2h0M1697.2 629.8h0M1697.3 662.7h0M1686.2 623.9h0M1694.5 623.3h0M1692.8 641.7h0M1690.6 597.2h0M1690.7 665.5h0M1693.3 607.2h0M1686.7 667.3h0M1695.0 659.2h0M1692.1 653.8h0M1689.4 606.0h0M1698.0 548.9h0M1702.8 645.1h0M1703.2 662.2h0M1702.9 682.4h0M1702.1 504.2h0M1702.9 686.5h0M1706.4 501.7h0M1706.7 547.6h0M1705.5 552.7h0M1706.2 574.4h0M1706.2 632.6h0M1705.4 642.3h0M1705.4 489.9h0M1705.5 686.2h0M1708.2 489.3h0M1711.5 589.2h0M1712.8 636.0h0M1711.5 690.7h0M1704.8 615.2h0M1704.7 599.2h0M1708.7 513.2h0M1709.5 523.4h0M1712.4 676.1h0M1703.5 642.6h0M1702.1 659.2h0M1704.2 532.6h0M1710.1 553.4h0M1711.2 620.5h0M1708.9 503.4h0M1708.6 647.9h0M1705.4 578.5h0M1712.7 545.3h0M1707.8 543.7h0M1707.4 633.4h0M1714.2 561.0h0M1705.5 582.1h0M1703.2 605.0h0M1710.6 660.8h0M1708.3 596.1h0M1706.6 573.5h0M1706.9 581.5h0M1705.1 565.2h0M1702.5 655.6h0M1709.6 617.7h0M1712.8 536.2h0M1702.4 617.1h0M1711.9 677.2h0M1708.4 528.9h0M1705.1 538.0h0M1701.7 624.5h0M1709.2 565.7h0M1711.0 505.1h0M1705.1 600.0h0M1704.7 498.9h0M1701.9 549.3h0M1706.0 664.5h0M1701.8 565.0h0M1703.0 547.8h0M1710.0 597.8h0M1711.1 629.3h0M1703.7 667.9h0M1702.1 525.5h0M1713.6 518.5h0M1703.0 671.0h0M1712.9 572.7h0M1705.5 672.5h0M1708.9 582.6h0M1706.8 521.0h0M1701.8 581.7h0M1712.8 520.3h0M1701.9 508.3h0M1713.8 559.0h0M1713.7 577.1h0M1709.8 636.4h0M1705.2 611.8h0M1705.4 511.0h0M1709.8 677.8h0M1714.1 545.4h0M1710.6 525.9h0M1707.3 580.9h0M1713.9 609.4h0M1708.5 529.9h0M1712.9 526.8h0M1712.6 660.8h0M1703.0 533.0h0M1707.7 601.0h0M1713.6 514.0h0M1708.0 520.4h0M1705.6 505.2h0M1706.7 646.1h0M1701.9 574.0h0M1707.4 558.7h0M1708.2 661.6h0M1704.0 575.8h0M1706.4 500.9h0M1712.5 620.7h0M1703.0 621.4h0M1712.3 500.8h0M1711.5 568.4h0M1711.2 547.1h0M1710.3 634.0h0M1707.7 495.8h0M1710.0 629.7h0M1701.9 515.9h0M1728.5 692.7h0M1726.7 698.4h0M1731.8 575.7h0M1730.1 650.7h0M1731.6 531.0h0M1731.7 521.6h0M1731.1 516.6h0M1730.8 675.9h0M1735.8 545.4h0M1735.2 696.8h0M1736.6 707.6h0M1726.2 599.8h0M1729.7 540.0h0M1732.4 611.0h0M1727.5 677.3h0M1734.9 558.1h0M1730.2 656.6h0M1728.8 674.1h0M1729.9 653.5h0M1726.8 526.7h0M1726.8 559.1h0M1727.5 607.1h0M1736.3 694.1h0M1729.9 669.9h0M1732.0 673.6h0M1729.1 549.4h0M1736.9 676.3h0M1736.4 601.9h0M1730.5 646.0h0M1738.4 568.2h0M1728.8 647.0h0M1735.4 616.6h0M1730.2 691.2h0M1735.0 637.2h0M1737.0 665.6h0M1730.9 537.7h0M1727.2 674.3h0M1728.2 663.0h0M1733.2 601.4h0M1734.6 666.9h0M1731.1 694.7h0M1736.8 531.8h0M1733.2 688.7h0M1735.0 569.7h0M1733.9 545.7h0M1734.6 528.3h0M1725.8 534.3h0M1726.8 647.8h0M1733.0 694.4h0M1738.1 660.3h0M1727.6 566.4h0M1726.2 680.9h0M1737.3 638.9h0M1727.5 657.1h0M1737.7 562.9h0M1733.0 619.4h0M1732.1 682.4h0M1726.7 527.8h0M1730.8 690.3h0M1736.4 658.8h0M1733.2 545.3h0M1732.2 635.3h0M1728.9 528.0h0M1737.6 654.4h0M1734.2 629.3h0M1728.4 666.9h0M1727.4 654.4h0M1734.2 589.8h0M1728.6 568.9h0M1733.8 641.9h0M1733.6 535.9h0M1728.0 624.9h0M1726.9 631.5h0M1728.6 686.7h0M1730.9 537.0h0M1729.1 565.3h0M1728.6 638.8h0M1727.7 585.9h0M1737.3 598.5h0M1727.4 634.1h0M1733.8 560.3h0M1726.2 579.9h0M1736.6 580.2h0M1736.7 612.1h0M1730.2 556.9h0M1728.6 562.9h0M1736.6 595.6h0M1726.8 577.7h0M1728.3 624.5h0M1731.7 651.9h0M1744.7 579.8h0M1743.0 511.0h0M1743.8 653.0h0M1743.6 661.9h0M1746.2 573.7h0M1747.7 617.1h0M1745.4 499.4h0M1747.4 491.4h0M1746.2 479.7h0M1750.0 507.4h0M1755.1 578.7h0M1755.4 585.5h0M1755.3 622.0h0M1754.0 631.7h0M1752.9 515.2h0M1754.5 637.0h0M1754.6 645.3h0M1758.2 514.5h0M1761.3 628.0h0M1760.4 501.2h0M1761.1 496.3h0M1760.8 490.7h0M1755.8 638.2h0M1743.2 526.7h0M1755.2 618.5h0M1743.5 538.0h0M1758.2 545.3h0M1744.6 528.1h0M1754.3 556.3h0M1761.3 630.2h0M1750.3 539.7h0M1748.4 512.5h0M1760.3 525.7h0M1744.0 593.0h0M1755.7 519.6h0M1749.0 561.3h0M1757.4 554.4h0M1752.3 576.9h0M1752.3 540.2h0M1747.6 512.9h0M1762.1 641.1h0M1744.5 538.8h0M1748.6 590.0h0M1746.8 547.1h0M1755.7 622.5h0M1744.3 512.9h0M1745.7 637.2h0M1742.3 594.2h0M1755.2 621.9h0M1756.7 598.9h0M1756.0 568.6h0M1760.4 591.8h0M1755.4 545.1h0M1747.0 622.4h0M1759.2 575.0h0M1761.9 619.1h0M1743.9 559.6h0M1759.7 536.4h0M1748.0 610.5h0M1745.1 585.1h0M1745.9 540.6h0M1744.3 556.4h0M1757.6 564.4h0M1756.0 607.8h0M1750.7 566.2h0M1751.2 629.5h0M1761.2 595.8h0M1752.4 540.4h0M1747.7 535.5h0M1749.6 560.7h0M1747.3 564.4h0M1743.3 547.0h0M1756.0 527.4h0M1759.4 640.2h0M1745.5 563.9h0M1752.1 574.5h0M1757.5 558.9h0M1746.8 518.6h0M1741.7 528.5h0M1753.7 610.7h0M1744.7 562.7h0M1758.5 592.5h0M1751.6 535.4h0M1758.3 570.9h0M1746.2 572.8h0M1750.7 612.1h0M1748.8 591.4h0M1754.5 519.7h0M1760.3 527.0h0M1760.6 588.7h0M1749.1 570.7h0M1753.0 531.8h0M1756.0 640.4h0M1756.6 576.7h0M1748.9 574.0h0M1752.8 547.7h0M1750.0 540.0h0M1750.3 593.9h0M1746.6 545.0h0M1750.5 548.7h0M1760.2 569.8h0M1752.0 569.7h0M1757.1 533.9h0M1748.9 598.6h0M1744.0 552.4h0M1752.3 547.5h0M1749.7 619.4h0M1742.4 603.5h0M1743.6 595.1h0M1756.3 624.9h0M1755.9 578.2h0M1746.5 612.1h0M1760.3 596.8h0M1757.5 609.7h0M1751.5 540.7h0M1757.5 580.9h0M1760.9 569.2h0M1767.1 559.0h0M1767.1 702.4h0M1772.4 600.8h0M1770.7 614.2h0M1770.2 655.5h0M1770.5 539.2h0M1770.2 737.1h0M1771.8 745.6h0M1771.0 755.8h0M1775.7 551.5h0M1775.6 697.3h0M1773.8 706.2h0M1773.5 717.9h0M1779.7 731.8h0M1782.8 640.4h0M1784.0 731.5h0M1784.0 661.8h0M1784.4 546.6h0M1778.1 641.7h0M1776.5 652.0h0M1777.2 592.7h0M1767.8 545.7h0M1777.0 550.9h0M1771.9 657.9h0M1772.8 668.2h0M1773.3 650.0h0M1780.9 611.7h0M1785.6 691.1h0M1776.2 717.2h0M1785.6 545.8h0M1770.2 630.3h0M1781.1 647.3h0M1768.6 654.3h0M1780.6 558.0h0M1773.1 647.7h0M1767.7 637.5h0M1766.4 707.5h0M1785.1 566.5h0M1783.1 558.6h0M1780.8 568.5h0M1767.9 677.2h0M1781.2 679.3h0M1774.4 562.8h0M1774.5 653.7h0M1769.5 672.1h0M1775.0 644.3h0M1777.9 704.8h0M1782.0 645.9h0M1778.2 626.1h0M1785.1 621.9h0M1779.0 644.3h0M1781.8 620.1h0M1785.6 676.5h0M1784.9 695.2h0M1774.7 563.2h0M1773.5 619.9h0M1776.5 562.6h0M1783.6 571.1h0M1772.4 616.6h0M1779.5 564.8h0M1779.3 682.1h0M1767.1 701.0h0M1781.8 706.8h0M1785.6 667.2h0M1785.4 666.4h0M1785.6 618.4h0M1772.1 584.8h0M1777.8 657.2h0M1765.8 656.2h0M1780.3 629.8h0M1785.0 589.2h0M1766.4 665.3h0M1772.1 676.5h0M1777.9 567.0h0M1774.7 702.5h0M1776.1 628.4h0M1774.1 586.2h0M1767.1 557.7h0M1769.8 681.4h0M1774.8 689.5h0M1784.7 555.0h0M1776.9 603.8h0M1768.3 543.9h0M1766.3 554.9h0M1770.2 660.7h0M1782.6 701.2h0M1778.9 670.4h0M1772.2 628.4h0M1773.0 690.5h0M1772.7 675.8h0M1769.9 563.8h0M1782.3 658.1h0M1781.5 715.4h0M1783.0 716.1h0M1777.5 679.9h0M1784.5 647.0h0M1774.2 678.1h0M1774.0 663.2h0M1770.6 561.0h0M1768.4 560.0h0M1776.4 547.2h0M1776.6 594.0h0M1783.7 712.2h0M1780.6 593.5h0M1772.0 618.9h0M1778.0 636.1h0M1778.9 710.9h0M1783.7 619.9h0M1769.6 707.7h0M1772.3 638.3h0M1775.4 599.2h0M1777.1 543.3h0M1776.8 601.7h0M1783.5 692.8h0M1768.1 576.0h0M1766.0 710.1h0M1785.8 641.1h0M1778.3 599.2h0M1771.1 618.3h0M1773.7 591.4h0M1781.6 675.5h0M1778.4 687.9h0M1784.5 618.8h0M1772.1 708.0h0M1768.0 675.9h0M1766.5 545.8h0M1777.5 578.6h0M1770.5 624.9h0M1769.5 600.3h0M1771.4 544.5h0M1778.1 590.1h0M1785.4 697.2h0M1775.1 708.7h0M1786.3 713.1h0M1786.0 673.4h0M1785.0 604.3h0M1780.3 636.0h0M275.9 837.5h0M275.1 845.5h0M279.5 530.5h0M290.4 567.9h0M289.9 579.0h0M290.3 550.6h0M290.5 593.5h0M289.7 597.9h0M290.0 600.1h0M289.9 531.5h0M289.4 538.5h0M290.6 588.1h0M328.7 417.4h0M351.2 427.7h0M350.4 466.8h0M351.4 417.9h0M351.2 459.0h0M362.5 805.4h0M364.4 497.4h0M365.3 498.2h0M472.4 698.6h0M472.7 782.4h0M546.1 557.4h0M594.5 639.2h0M593.6 604.9h0M594.4 595.5h0M593.7 666.8h0M593.9 621.3h0M593.6 600.7h0M662.7 539.9h0M662.5 547.7h0M663.0 533.0h0M676.8 593.4h0M684.2 373.4h0M709.7 556.3h0M709.6 543.5h0M709.8 546.5h0M743.1 562.9h0M743.1 582.3h0M743.2 568.2h0M743.4 575.5h0M748.6 519.3h0M749.2 566.4h0M749.1 618.4h0M749.3 621.4h0M759.4 484.2h0M760.4 495.8h0M760.1 499.1h0M760.0 498.3h0M760.2 456.5h0M760.3 548.4h0M790.1 497.4h0M910.4 460.9h0M910.7 524.2h0M911.4 472.9h0M910.8 517.8h0M911.5 496.3h0M910.4 456.0h0M910.8 530.6h0M951.1 516.3h0M951.1 524.2h0M950.4 487.5h0M951.0 625.5h0M951.1 649.1h0M993.6 573.1h0M993.9 615.2h0M1158.6 727.5h0M1158.3 741.4h0M1373.1 468.9h0M1373.3 491.4h0M1445.6 581.7h0M1446.0 647.1h0M1445.7 585.3h0M1445.6 630.7h0M1445.8 634.1h0M1445.6 634.0h0M1445.6 629.0h0M1446.4 635.9h0M1513.8 646.2h0M1513.7 584.8h0M1514.0 583.6h0M1514.4 660.4h0M1514.5 645.3h0M1513.4 641.8h0M1514.5 596.4h0M1514.5 704.7h0M1513.8 578.1h0M1514.1 564.0h0M1514.6 669.3h0M1514.3 649.2h0M1709.4 485.8h0M1708.6 463.2h0M1708.6 440.5h0M1709.3 423.1h0M1709.3 477.9h0M1760.6 717.4h0M1773.0 406.6h0M1774.9 729.4h0M284.8 847.4h0M330.3 832.0h0M495.5 839.4h0M981.8 835.4h0M1055.6 801.6h0M1056.5 805.4h0M1077.8 840.4h0M1419.0 851.6h0M1418.7 857.0h0M329.0 486.0h0M321.0 539.0h0M328.0 547.0h0M336.0 792.0h0M384.0 801.0h0M450.0 746.0h0M623.0 747.0h0M329.5 241.2h0M383.2 274.2h0M365.3 310.3h0M544.2 271.2h0M350.2 359.3h0M328.4 367.2h0M328.4 375.3h0M646.4 395.2h0M328.4 398.5h0M454.0 467.0h0M546.0 494.0h0M646.0 442.0h0M646.0 448.0h0M646.0 471.0h0M652.0 504.0h0M662.0 709.0h0M684.1 334.4h0M743.0 744.0h0M743.0 826.0h0M743.5 300.3h0M790.0 434.0h0M790.0 452.0h0M795.3 143.2h0M795.0 825.0h0M856.0 456.0h0M856.0 477.0h0M856.0 494.0h0M856.0 515.0h0M856.0 526.0h0M856.0 537.0h0M856.0 557.0h0M856.0 564.0h0M856.0 584.0h0M856.0 596.0h0M856.0 598.0h0M856.0 625.0h0M856.0 634.0h0M912.3 143.2h0M912.3 153.6h0M912.3 184.4h0M912.3 223.6h0M912.3 238.4h0M912.3 255.2h0M912.3 259.1h0M912.3 302.2h0M912.3 338.3h0M1040.0 674.0h0M1046.0 678.0h0M1012.2 154.4h0M1011.4 316.2h0M1011.4 324.3h0M1028.2 369.1h0M1059.0 484.0h0M1240.0 782.0h0M1111.0 745.0h0M1159.0 742.0h0M1159.0 789.0h0M1133.4 182.4h0M1120.3 325.2h0M1082.2 377.5h0M1133.4 375.3h0M1144.0 430.0h0M1262.5 463.5h0M1262.5 472.5h0M1262.5 481.5h0M1262.5 489.0h0M1262.5 504.0h0M1262.5 508.5h0M1262.5 525.0h0M1262.5 531.0h0M1262.5 538.5h0M1262.5 546.0h0M1262.5 574.5h0M1330.2 262.2h0M1330.2 281.2h0M1330.2 309.2h0M1330.2 321.3h0M1330.2 328.5h0M1330.2 332.7h0M1330.2 344.2h0M1404.0 478.0h0M1404.0 508.0h0M1404.0 528.0h0M1404.0 544.0h0M1404.0 554.0h0M1404.0 566.0h0M1344.2 282.1h0M1344.2 350.1h0M1338.3 373.3h0M1338.3 388.2h0M1344.2 398.0h0M1373.3 390.7h0M1421.2 363.2h0M1421.2 382.3h0M1442.2 362.1h0M1448.9 380.3h0M1440.0 394.3h0M1454.3 278.2h0M1454.3 317.3h0M1461.3 349.3h0M1454.3 371.1h0M1450.4 380.3h0M1454.0 386.0h0M1454.0 390.0h0M1454.0 394.0h0M1465.2 390.0h0M1471.4 388.7h0M1476.1 384.5h0M1680.0 795.0h0M1726.0 396.0h0M1726.0 382.0h0M1726.0 398.0h0M1726.0 402.0h0M1672.1 230.0h0M1726.4 243.2h0M1652.2 293.3h0M1676.3 299.1h0M1676.3 344.2h0M1676.0 420.0h0M1709.0 421.0h0M1704.0 452.0h0M1755.0 438.0h0M1757.0 442.0h0M1480.0 719.0h0M1714.0 718.0h0M330.0 806.0h0M330.0 811.0h0M330.0 817.0h0M366.0 834.0h0M496.0 863.0h0M683.0 857.0h0M795.0 825.0h0M856.0 836.0h0M1296.0 801.0h0M1480.0 788.0h0M1480.0 815.0h0M1480.0 819.0h0" stroke="#000" stroke-width="5.2" stroke-linecap="round" fill="none"/>
<rect x="250" y="120" width="1550" height="770" fill="none" stroke="#000" stroke-width="2.22"/>
<g stroke="#000" stroke-width="2.22"><line x1="250.00" y1="890" x2="250.00" y2="899.8"/><line x1="459.50" y1="890" x2="459.50" y2="899.8"/><line x1="669.00" y1="890" x2="669.00" y2="899.8"/><line x1="878.50" y1="890" x2="878.50" y2="899.8"/><line x1="1088.00" y1="890" x2="1088.00" y2="899.8"/><line x1="1297.50" y1="890" x2="1297.50" y2="899.8"/><line x1="1507.00" y1="890" x2="1507.00" y2="899.8"/><line x1="1716.50" y1="890" x2="1716.50" y2="899.8"/><line x1="240.1" y1="890.00" x2="250" y2="890.00"/><line x1="240.1" y1="794.10" x2="250" y2="794.10"/><line x1="240.1" y1="698.20" x2="250" y2="698.20"/><line x1="240.1" y1="602.30" x2="250" y2="602.30"/><line x1="240.1" y1="506.40" x2="250" y2="506.40"/><line x1="240.1" y1="410.50" x2="250" y2="410.50"/><line x1="240.1" y1="314.60" x2="250" y2="314.60"/><line x1="240.1" y1="218.70" x2="250" y2="218.70"/><line x1="240.1" y1="122.80" x2="250" y2="122.80"/></g>
<g class="t"><g font-size="27.78"><text x="250.60" y="930.8" text-anchor="middle">0</text><text x="460.10" y="930.8" text-anchor="middle">50</text><text x="669.60" y="930.8" text-anchor="middle">100</text><text x="879.10" y="930.8" text-anchor="middle">150</text><text x="1088.60" y="930.8" text-anchor="middle">200</text><text x="1298.10" y="930.8" text-anchor="middle">250</text><text x="1507.60" y="930.8" text-anchor="middle">300</text><text x="1717.10" y="930.8" text-anchor="middle">350</text><text x="230.7" y="901.00" text-anchor="end">0.0</text><text x="230.7" y="805.10" text-anchor="end">2.5</text><text x="230.7" y="709.20" text-anchor="end">5.0</text><text x="230.7" y="613.30" text-anchor="end">7.5</text><text x="230.7" y="517.40" text-anchor="end">10.0</text><text x="230.7" y="421.50" text-anchor="end">12.5</text><text x="230.7" y="325.60" text-anchor="end">15.0</text><text x="230.7" y="229.70" text-anchor="end">17.5</text><text x="230.7" y="133.80" text-anchor="end">20.0</text></g>
<text x="1023.9" y="103.2" font-size="33.33" text-anchor="middle" textLength="387" lengthAdjust="spacingAndGlyphs">ACIS Count Rate: CCD3</text>
<text x="1024.35" y="965.2" font-size="22.22" text-anchor="middle" textLength="336.3" lengthAdjust="spacingAndGlyphs">Time (Day of Year: Year 2004)</text>
<text transform="translate(153.9 507.5) rotate(-90)" font-size="22.22" text-anchor="middle">Count/Sec</text></g>
</svg></body></html>
